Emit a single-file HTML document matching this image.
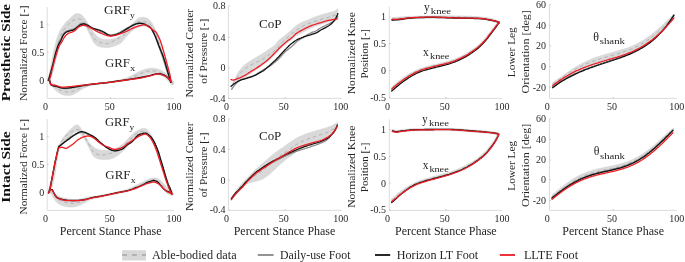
<!DOCTYPE html><html><head><meta charset="utf-8"><style>html,body{margin:0;padding:0;background:#fff;width:685px;height:262px;overflow:hidden}</style></head><body><svg width="685" height="262" viewBox="0 0 685 262" style="position:absolute;left:0;top:0;will-change:transform;font-family:'Liberation Serif',serif">
<rect width="685" height="262" fill="#fff"/>
<path d="M47.2,7.1 L47.2,98.4 L174,98.4" fill="none" stroke="#dcdcdc" stroke-width="1.0"/>
<path d="M47.2,24.2 L48.5,24.2" stroke="#b0b0b0" stroke-width="0.7"/>
<path d="M47.2,52.3 L48.5,52.3" stroke="#b0b0b0" stroke-width="0.7"/>
<path d="M47.2,80.4 L48.5,80.4" stroke="#b0b0b0" stroke-width="0.7"/>
<path d="M110.6,98.4 L110.6,97.10000000000001" stroke="#b0b0b0" stroke-width="0.7"/>
<path d="M228.4,6.0 L228.4,98.4 L341.5,98.4" fill="none" stroke="#dcdcdc" stroke-width="1.0"/>
<path d="M228.4,5.8 L229.70000000000002,5.8" stroke="#b0b0b0" stroke-width="0.7"/>
<path d="M228.4,37.2 L229.70000000000002,37.2" stroke="#b0b0b0" stroke-width="0.7"/>
<path d="M228.4,68.0 L229.70000000000002,68.0" stroke="#b0b0b0" stroke-width="0.7"/>
<path d="M228.4,98.5 L229.70000000000002,98.5" stroke="#b0b0b0" stroke-width="0.7"/>
<path d="M285,98.4 L285,97.10000000000001" stroke="#b0b0b0" stroke-width="0.7"/>
<path d="M389.3,6.7 L389.3,98.4 L502.4,98.4" fill="none" stroke="#dcdcdc" stroke-width="1.0"/>
<path d="M389.3,16.9 L390.6,16.9" stroke="#b0b0b0" stroke-width="0.7"/>
<path d="M389.3,43.7 L390.6,43.7" stroke="#b0b0b0" stroke-width="0.7"/>
<path d="M389.3,70.5 L390.6,70.5" stroke="#b0b0b0" stroke-width="0.7"/>
<path d="M389.3,97.2 L390.6,97.2" stroke="#b0b0b0" stroke-width="0.7"/>
<path d="M445.9,98.4 L445.9,97.10000000000001" stroke="#b0b0b0" stroke-width="0.7"/>
<path d="M549.5,4.8 L549.5,98.4 L676.8,98.4" fill="none" stroke="#dcdcdc" stroke-width="1.0"/>
<path d="M549.5,4.5 L550.8,4.5" stroke="#b0b0b0" stroke-width="0.7"/>
<path d="M549.5,25.3 L550.8,25.3" stroke="#b0b0b0" stroke-width="0.7"/>
<path d="M549.5,45.9 L550.8,45.9" stroke="#b0b0b0" stroke-width="0.7"/>
<path d="M549.5,66.6 L550.8,66.6" stroke="#b0b0b0" stroke-width="0.7"/>
<path d="M549.5,87.2 L550.8,87.2" stroke="#b0b0b0" stroke-width="0.7"/>
<path d="M613.2,98.4 L613.2,97.10000000000001" stroke="#b0b0b0" stroke-width="0.7"/>
<path d="M47.2,119.1 L47.2,210.4 L174,210.4" fill="none" stroke="#dcdcdc" stroke-width="1.0"/>
<path d="M47.2,136.4 L48.5,136.4" stroke="#b0b0b0" stroke-width="0.7"/>
<path d="M47.2,164.6 L48.5,164.6" stroke="#b0b0b0" stroke-width="0.7"/>
<path d="M47.2,192.6 L48.5,192.6" stroke="#b0b0b0" stroke-width="0.7"/>
<path d="M110.6,210.4 L110.6,209.1" stroke="#b0b0b0" stroke-width="0.7"/>
<path d="M228.4,119.3 L228.4,210.4 L341.5,210.4" fill="none" stroke="#dcdcdc" stroke-width="1.0"/>
<path d="M228.4,118.8 L229.70000000000002,118.8" stroke="#b0b0b0" stroke-width="0.7"/>
<path d="M228.4,149.3 L229.70000000000002,149.3" stroke="#b0b0b0" stroke-width="0.7"/>
<path d="M228.4,180.3 L229.70000000000002,180.3" stroke="#b0b0b0" stroke-width="0.7"/>
<path d="M228.4,209.9 L229.70000000000002,209.9" stroke="#b0b0b0" stroke-width="0.7"/>
<path d="M285,210.4 L285,209.1" stroke="#b0b0b0" stroke-width="0.7"/>
<path d="M389.3,119.3 L389.3,210.4 L502.4,210.4" fill="none" stroke="#dcdcdc" stroke-width="1.0"/>
<path d="M389.3,129.6 L390.6,129.6" stroke="#b0b0b0" stroke-width="0.7"/>
<path d="M389.3,156.4 L390.6,156.4" stroke="#b0b0b0" stroke-width="0.7"/>
<path d="M389.3,183.1 L390.6,183.1" stroke="#b0b0b0" stroke-width="0.7"/>
<path d="M389.3,209.9 L390.6,209.9" stroke="#b0b0b0" stroke-width="0.7"/>
<path d="M445.9,210.4 L445.9,209.1" stroke="#b0b0b0" stroke-width="0.7"/>
<path d="M549.5,119.3 L549.5,210.4 L676.8,210.4" fill="none" stroke="#dcdcdc" stroke-width="1.0"/>
<path d="M549.5,118.9 L550.8,118.9" stroke="#b0b0b0" stroke-width="0.7"/>
<path d="M549.5,139.5 L550.8,139.5" stroke="#b0b0b0" stroke-width="0.7"/>
<path d="M549.5,160.0 L550.8,160.0" stroke="#b0b0b0" stroke-width="0.7"/>
<path d="M549.5,179.9 L550.8,179.9" stroke="#b0b0b0" stroke-width="0.7"/>
<path d="M549.5,200.5 L550.8,200.5" stroke="#b0b0b0" stroke-width="0.7"/>
<path d="M613.2,210.4 L613.2,209.1" stroke="#b0b0b0" stroke-width="0.7"/>
<path d="M49.4,80.6 L49.6,80.8 L49.8,81.0 L50.1,81.2 L50.4,81.5 L50.8,81.7 L51.2,82.0 L51.6,82.3 L52.0,82.6 L52.4,82.9 L52.8,83.1 L53.2,83.4 L53.7,83.7 L54.1,84.0 L54.6,84.2 L55.1,84.5 L55.5,84.8 L56.0,85.1 L56.5,85.3 L56.9,85.5 L57.3,85.7 L57.7,85.9 L58.2,86.1 L58.6,86.3 L59.0,86.5 L59.4,86.6 L59.8,86.8 L60.2,86.9 L60.6,87.1 L61.0,87.2 L61.3,87.3 L61.7,87.4 L62.1,87.5 L62.4,87.6 L62.8,87.7 L63.2,87.8 L63.5,87.9 L63.8,87.9 L64.2,88.0 L64.5,88.1 L64.8,88.1 L65.2,88.2 L65.5,88.2 L65.8,88.2 L66.1,88.3 L66.4,88.3 L66.8,88.3 L67.1,88.4 L67.4,88.4 L67.7,88.4 L68.0,88.4 L68.3,88.4 L68.6,88.4 L68.9,88.4 L69.2,88.4 L69.6,88.4 L69.9,88.4 L70.2,88.4 L70.5,88.4 L70.9,88.3 L71.2,88.3 L71.5,88.3 L71.8,88.2 L72.2,88.2 L72.5,88.1 L72.9,88.1 L73.3,88.0 L73.7,87.9 L74.1,87.8 L74.6,87.7 L75.0,87.6 L75.4,87.5 L75.8,87.4 L76.2,87.3 L76.6,87.3 L77.0,87.2 L77.5,87.1 L77.9,87.0 L78.4,86.8 L78.9,86.7 L79.3,86.6 L79.8,86.5 L80.3,86.4 L80.9,86.3 L81.4,86.2 L81.9,86.0 L82.5,85.9 L83.0,85.8 L83.6,85.7 L84.1,85.6 L84.7,85.5 L85.2,85.4 L85.6,85.3 L86.1,85.2 L86.5,85.1 L87.0,85.0 L87.4,84.9 L88.0,84.8 L88.5,84.7 L89.1,84.6 L89.9,84.5 L90.7,84.4 L91.6,84.2 L92.5,84.1 L93.5,83.9 L94.6,83.7 L95.7,83.6 L96.7,83.4 L97.8,83.2 L98.9,83.1 L99.9,82.9 L100.9,82.8 L101.9,82.6 L102.9,82.5 L103.9,82.4 L104.9,82.3 L105.9,82.2 L106.9,82.1 L107.9,82.0 L108.9,81.8 L109.9,81.7 L110.9,81.6 L111.9,81.4 L113.0,81.2 L114.0,81.1 L115.0,80.9 L116.0,80.7 L117.0,80.5 L118.0,80.3 L118.9,80.1 L119.8,79.9 L120.7,79.7 L121.5,79.5 L122.4,79.3 L123.1,79.0 L123.9,78.8 L124.7,78.5 L125.4,78.3 L126.1,78.0 L126.9,77.7 L127.6,77.5 L128.3,77.2 L128.9,76.9 L129.6,76.6 L130.3,76.2 L130.9,75.9 L131.6,75.6 L132.2,75.2 L132.9,74.9 L133.5,74.5 L134.2,74.2 L134.9,73.8 L135.6,73.5 L136.2,73.1 L136.9,72.7 L137.6,72.4 L138.3,72.0 L139.0,71.6 L139.7,71.3 L140.4,71.0 L141.1,70.7 L141.8,70.4 L142.4,70.1 L143.1,69.9 L143.7,69.7 L144.4,69.5 L145.0,69.3 L145.6,69.1 L146.3,68.9 L146.9,68.8 L147.5,68.7 L148.1,68.5 L148.7,68.4 L149.2,68.3 L149.8,68.3 L150.3,68.2 L150.9,68.2 L151.5,68.2 L152.0,68.2 L152.6,68.2 L153.2,68.2 L153.8,68.3 L154.4,68.3 L154.9,68.4 L155.5,68.5 L156.1,68.7 L156.7,68.8 L157.2,68.9 L157.7,69.1 L158.2,69.2 L158.7,69.4 L159.2,69.6 L159.7,69.8 L160.1,69.9 L160.6,70.1 L161.0,70.3 L161.4,70.6 L161.9,70.8 L162.3,71.0 L162.7,71.2 L163.1,71.5 L163.5,71.7 L163.9,72.0 L164.3,72.3 L164.8,72.6 L165.2,72.8 L165.6,73.2 L166.0,73.5 L166.4,73.8 L166.8,74.1 L167.2,74.4 L167.6,74.8 L168.0,75.1 L168.4,75.4 L168.7,75.8 L169.0,76.1 L169.3,76.4 L169.6,76.7 L169.9,77.1 L170.2,77.4 L170.5,77.7 L170.8,78.0 L171.1,78.3 L171.3,78.6 L171.6,78.9 L171.9,79.2 L172.2,79.6 L172.4,79.9 L172.7,80.2 L172.9,80.5 L173.1,80.8 L173.3,81.1 L173.5,81.5 L173.7,81.8 L173.8,82.2 L173.9,82.5 L174.0,82.8 L174.1,83.1 L174.2,83.3 L174.2,83.5 L174.3,83.6 L171.7,85.2 L171.6,85.0 L171.4,84.9 L171.3,84.7 L171.1,84.5 L170.9,84.3 L170.7,84.1 L170.5,83.8 L170.3,83.6 L170.1,83.4 L169.9,83.2 L169.7,82.9 L169.5,82.7 L169.2,82.4 L169.0,82.1 L168.8,81.8 L168.5,81.5 L168.3,81.2 L168.0,80.9 L167.8,80.6 L167.5,80.3 L167.2,80.0 L167.0,79.7 L166.7,79.4 L166.4,79.1 L166.2,78.8 L165.9,78.6 L165.6,78.3 L165.3,78.0 L165.1,77.8 L164.8,77.6 L164.4,77.3 L164.1,77.1 L163.7,76.9 L163.3,76.7 L162.9,76.5 L162.5,76.3 L162.1,76.1 L161.7,75.9 L161.3,75.7 L160.9,75.5 L160.5,75.4 L160.2,75.2 L159.8,75.0 L159.5,74.9 L159.1,74.8 L158.8,74.6 L158.4,74.5 L158.0,74.4 L157.7,74.3 L157.3,74.2 L156.9,74.1 L156.4,74.0 L156.0,73.9 L155.5,73.8 L155.0,73.7 L154.6,73.6 L154.1,73.5 L153.7,73.5 L153.3,73.4 L152.8,73.4 L152.4,73.4 L152.0,73.4 L151.6,73.4 L151.2,73.4 L150.8,73.4 L150.4,73.5 L149.9,73.5 L149.5,73.6 L149.0,73.7 L148.5,73.7 L148.0,73.9 L147.5,74.0 L147.0,74.1 L146.4,74.2 L145.9,74.4 L145.3,74.6 L144.7,74.8 L144.1,74.9 L143.5,75.1 L142.9,75.3 L142.2,75.5 L141.6,75.8 L140.9,76.0 L140.2,76.3 L139.5,76.5 L138.8,76.8 L138.0,77.1 L137.3,77.3 L136.5,77.6 L135.8,77.8 L135.1,78.1 L134.4,78.3 L133.7,78.6 L132.9,78.8 L132.2,79.0 L131.5,79.3 L130.7,79.5 L130.0,79.7 L129.2,79.9 L128.4,80.1 L127.6,80.3 L126.9,80.5 L126.1,80.7 L125.3,80.8 L124.5,81.0 L123.6,81.1 L122.8,81.3 L122.0,81.4 L121.1,81.5 L120.2,81.7 L119.2,81.8 L118.3,81.9 L117.3,82.1 L116.3,82.2 L115.2,82.3 L114.2,82.4 L113.2,82.5 L112.1,82.7 L111.1,82.8 L110.1,82.9 L109.1,83.0 L108.1,83.1 L107.1,83.2 L106.1,83.3 L105.1,83.5 L104.1,83.6 L103.1,83.7 L102.1,83.8 L101.1,84.0 L100.1,84.1 L99.1,84.2 L98.0,84.4 L96.9,84.6 L95.9,84.8 L94.8,85.0 L93.7,85.1 L92.7,85.3 L91.8,85.5 L90.9,85.7 L90.1,85.9 L89.4,86.1 L88.8,86.2 L88.3,86.4 L87.8,86.5 L87.4,86.7 L87.0,86.8 L86.6,87.0 L86.2,87.2 L85.8,87.4 L85.3,87.5 L84.9,87.8 L84.4,88.0 L83.9,88.2 L83.4,88.5 L82.9,88.7 L82.5,89.0 L82.0,89.2 L81.5,89.5 L81.1,89.7 L80.7,90.0 L80.3,90.2 L79.9,90.5 L79.5,90.7 L79.2,90.9 L78.8,91.2 L78.5,91.4 L78.1,91.7 L77.7,91.9 L77.4,92.2 L77.0,92.4 L76.6,92.6 L76.3,92.9 L75.9,93.1 L75.5,93.4 L75.1,93.6 L74.7,93.8 L74.2,94.1 L73.8,94.3 L73.3,94.5 L72.8,94.7 L72.3,94.9 L71.9,95.0 L71.4,95.1 L70.9,95.2 L70.4,95.3 L70.0,95.4 L69.5,95.5 L69.0,95.5 L68.5,95.6 L68.0,95.6 L67.5,95.6 L67.0,95.6 L66.5,95.6 L66.0,95.5 L65.6,95.4 L65.1,95.4 L64.6,95.3 L64.1,95.2 L63.6,95.0 L63.2,94.9 L62.7,94.7 L62.2,94.6 L61.8,94.4 L61.3,94.2 L60.8,94.0 L60.4,93.7 L60.0,93.5 L59.5,93.2 L59.1,93.0 L58.7,92.7 L58.2,92.4 L57.8,92.1 L57.4,91.8 L57.0,91.4 L56.6,91.1 L56.2,90.8 L55.8,90.4 L55.4,90.0 L55.1,89.6 L54.7,89.3 L54.3,88.8 L53.9,88.4 L53.5,88.0 L53.2,87.5 L52.8,87.0 L52.5,86.6 L52.1,86.1 L51.8,85.7 L51.5,85.3 L51.2,84.9 L50.9,84.5 L50.6,84.1 L50.3,83.6 L50.0,83.2 L49.7,82.8 L49.4,82.5 L49.2,82.1 L49.0,81.8 L48.8,81.6 L48.6,81.4 Z" fill="#d9d9d9" stroke="#d0d0d0" stroke-width="0.5"/>
<path d="M47.5,80.0 L47.6,79.7 L47.7,79.3 L47.9,78.8 L48.1,78.3 L48.3,77.7 L48.5,76.9 L48.8,76.0 L49.0,75.0 L49.3,73.8 L49.6,72.3 L49.9,70.7 L50.2,68.9 L50.5,67.2 L50.9,65.4 L51.2,63.6 L51.5,62.0 L51.8,60.5 L52.1,58.9 L52.4,57.4 L52.7,55.9 L53.0,54.4 L53.3,53.0 L53.7,51.5 L54.0,50.0 L54.3,48.5 L54.7,47.0 L55.0,45.4 L55.4,43.9 L55.8,42.4 L56.1,41.0 L56.5,39.6 L56.9,38.3 L57.3,37.1 L57.7,36.0 L58.1,35.0 L58.5,34.0 L58.9,33.1 L59.4,32.1 L59.8,31.2 L60.3,30.3 L60.8,29.4 L61.4,28.4 L62.0,27.5 L62.6,26.6 L63.2,25.7 L63.8,24.9 L64.4,24.1 L64.9,23.4 L65.4,22.8 L65.8,22.3 L66.2,21.9 L66.7,21.5 L67.1,21.1 L67.5,20.8 L67.9,20.4 L68.3,20.0 L68.8,19.6 L69.2,19.1 L69.7,18.7 L70.2,18.2 L70.7,17.7 L71.1,17.3 L71.6,16.9 L72.0,16.5 L72.4,16.1 L72.8,15.8 L73.2,15.4 L73.5,15.1 L73.9,14.7 L74.3,14.5 L74.6,14.2 L75.0,14.0 L75.4,13.8 L75.8,13.7 L76.1,13.6 L76.5,13.5 L76.9,13.5 L77.2,13.5 L77.6,13.5 L78.0,13.5 L78.4,13.5 L78.8,13.6 L79.1,13.7 L79.5,13.8 L79.9,13.9 L80.2,14.1 L80.6,14.3 L81.0,14.5 L81.4,14.8 L81.8,15.1 L82.1,15.4 L82.5,15.8 L82.9,16.2 L83.2,16.6 L83.6,17.0 L84.0,17.5 L84.4,18.0 L84.8,18.5 L85.1,19.1 L85.5,19.6 L85.9,20.2 L86.2,20.8 L86.6,21.4 L87.0,22.0 L87.4,22.6 L87.7,23.2 L88.1,23.8 L88.5,24.4 L88.8,25.1 L89.2,25.7 L89.6,26.4 L90.0,27.0 L90.4,27.7 L90.9,28.3 L91.3,29.0 L91.8,29.7 L92.2,30.3 L92.7,31.0 L93.2,31.7 L93.7,32.3 L94.2,32.9 L94.7,33.6 L95.2,34.2 L95.7,34.8 L96.3,35.4 L96.8,36.0 L97.4,36.5 L98.0,37.0 L98.6,37.4 L99.3,37.8 L100.0,38.2 L100.8,38.5 L101.5,38.8 L102.2,39.0 L103.0,39.2 L103.7,39.4 L104.4,39.5 L105.1,39.6 L105.8,39.6 L106.6,39.6 L107.3,39.6 L108.0,39.5 L108.7,39.5 L109.4,39.4 L110.1,39.3 L110.8,39.2 L111.5,39.1 L112.2,39.0 L113.0,38.9 L113.7,38.7 L114.4,38.5 L115.1,38.3 L115.8,38.0 L116.5,37.8 L117.3,37.5 L118.0,37.1 L118.7,36.8 L119.4,36.4 L120.2,36.0 L120.9,35.5 L121.6,35.0 L122.4,34.5 L123.1,33.9 L123.8,33.3 L124.6,32.7 L125.3,32.0 L126.1,31.3 L126.9,30.5 L127.7,29.6 L128.6,28.6 L129.5,27.5 L130.4,26.4 L131.3,25.3 L132.2,24.3 L133.0,23.3 L133.7,22.5 L134.4,21.8 L135.0,21.2 L135.5,20.6 L136.1,20.1 L136.6,19.6 L137.1,19.2 L137.5,18.8 L138.0,18.5 L138.5,18.2 L138.9,18.0 L139.2,17.8 L139.6,17.6 L140.0,17.5 L140.4,17.4 L140.8,17.3 L141.3,17.3 L141.8,17.3 L142.4,17.2 L143.0,17.3 L143.6,17.3 L144.2,17.4 L144.8,17.5 L145.4,17.6 L146.0,17.8 L146.6,18.0 L147.1,18.3 L147.7,18.6 L148.3,19.0 L148.8,19.4 L149.3,19.8 L149.8,20.2 L150.3,20.7 L150.7,21.2 L151.1,21.7 L151.5,22.3 L151.9,22.8 L152.3,23.4 L152.6,24.0 L152.9,24.7 L153.3,25.3 L153.7,26.0 L154.0,26.6 L154.3,27.3 L154.7,28.0 L155.0,28.7 L155.3,29.5 L155.7,30.2 L156.0,31.0 L156.3,31.8 L156.6,32.6 L157.0,33.5 L157.3,34.4 L157.6,35.2 L157.9,36.1 L158.2,37.1 L158.5,38.0 L158.8,38.9 L159.1,39.9 L159.4,40.9 L159.8,41.9 L160.1,42.9 L160.4,43.9 L160.7,44.9 L161.0,46.0 L161.3,47.1 L161.6,48.2 L161.9,49.3 L162.2,50.5 L162.6,51.7 L162.9,52.8 L163.2,53.9 L163.5,55.0 L163.8,56.0 L164.1,57.1 L164.4,58.1 L164.8,59.1 L165.1,60.0 L165.4,61.0 L165.7,62.0 L166.0,63.0 L166.3,64.0 L166.6,65.0 L166.9,66.0 L167.2,67.0 L167.6,68.0 L167.9,69.0 L168.2,70.0 L168.5,71.0 L168.8,72.0 L169.1,73.1 L169.5,74.1 L169.8,75.2 L170.1,76.2 L170.4,77.2 L170.7,78.1 L171.0,79.0 L171.3,79.8 L171.6,80.6 L171.9,81.3 L172.2,82.0 L172.4,82.6 L172.7,83.2 L172.8,83.6 L173.0,84.0 L173.0,84.4 L172.9,84.2 L172.7,83.9 L172.4,83.5 L172.2,83.1 L171.9,82.7 L171.6,82.2 L171.3,81.6 L171.0,81.0 L170.7,80.3 L170.3,79.5 L169.9,78.7 L169.6,77.8 L169.2,76.9 L168.8,75.9 L168.4,74.9 L168.0,74.0 L167.6,73.1 L167.2,72.1 L166.9,71.1 L166.5,70.1 L166.1,69.1 L165.8,68.1 L165.4,67.1 L165.0,66.0 L164.6,64.9 L164.2,63.8 L163.9,62.7 L163.5,61.6 L163.1,60.5 L162.8,59.3 L162.4,58.2 L162.0,57.0 L161.6,55.8 L161.2,54.5 L160.9,53.3 L160.5,52.0 L160.1,50.7 L159.8,49.5 L159.4,48.2 L159.0,47.0 L158.6,45.8 L158.2,44.6 L157.9,43.4 L157.5,42.3 L157.1,41.1 L156.8,40.1 L156.4,39.0 L156.0,38.0 L155.6,37.1 L155.2,36.1 L154.9,35.3 L154.5,34.4 L154.1,33.6 L153.8,32.9 L153.4,32.2 L153.0,31.5 L152.6,30.9 L152.3,30.3 L151.9,29.7 L151.6,29.2 L151.2,28.7 L150.8,28.3 L150.4,27.9 L150.0,27.5 L149.6,27.2 L149.1,26.9 L148.6,26.7 L148.2,26.5 L147.6,26.3 L147.1,26.2 L146.6,26.1 L146.0,26.0 L145.4,26.0 L144.8,25.9 L144.1,26.0 L143.5,26.0 L142.8,26.1 L142.1,26.2 L141.4,26.4 L140.6,26.6 L139.8,26.8 L139.0,27.1 L138.1,27.4 L137.2,27.7 L136.3,28.0 L135.5,28.5 L134.6,28.9 L133.7,29.5 L132.8,30.1 L132.0,30.9 L131.1,31.7 L130.2,32.5 L129.4,33.4 L128.5,34.3 L127.7,35.1 L126.9,36.0 L126.1,36.9 L125.3,37.8 L124.6,38.7 L123.8,39.7 L123.1,40.6 L122.4,41.5 L121.6,42.2 L120.9,42.9 L120.2,43.5 L119.4,43.9 L118.7,44.3 L118.0,44.6 L117.3,44.9 L116.5,45.2 L115.8,45.4 L115.1,45.7 L114.4,46.0 L113.7,46.2 L113.0,46.5 L112.2,46.7 L111.5,46.9 L110.8,47.1 L110.1,47.3 L109.4,47.4 L108.7,47.5 L108.0,47.5 L107.2,47.6 L106.5,47.6 L105.8,47.6 L105.1,47.5 L104.4,47.5 L103.7,47.4 L103.0,47.3 L102.3,47.3 L101.6,47.2 L100.9,47.1 L100.3,47.0 L99.6,46.8 L98.9,46.6 L98.3,46.3 L97.7,46.0 L97.1,45.7 L96.5,45.3 L96.0,44.9 L95.4,44.4 L94.8,43.8 L94.3,43.2 L93.7,42.4 L93.1,41.5 L92.5,40.3 L91.9,39.1 L91.2,37.8 L90.6,36.5 L90.1,35.2 L89.5,34.0 L89.0,33.0 L88.6,32.1 L88.2,31.3 L87.8,30.5 L87.5,29.8 L87.1,29.1 L86.8,28.5 L86.4,28.0 L86.0,27.5 L85.5,27.1 L85.1,26.7 L84.6,26.4 L84.1,26.1 L83.5,25.9 L83.0,25.7 L82.5,25.6 L82.0,25.5 L81.5,25.5 L81.0,25.5 L80.5,25.6 L80.1,25.7 L79.6,25.9 L79.1,26.1 L78.6,26.3 L78.0,26.5 L77.4,26.7 L76.8,26.9 L76.2,27.2 L75.6,27.5 L74.9,27.7 L74.2,28.0 L73.6,28.3 L72.9,28.6 L72.2,28.9 L71.5,29.1 L70.7,29.4 L70.0,29.7 L69.2,30.0 L68.5,30.3 L67.8,30.6 L67.2,30.9 L66.7,31.2 L66.2,31.5 L65.7,31.7 L65.3,32.0 L64.9,32.3 L64.5,32.7 L64.1,33.2 L63.7,33.7 L63.3,34.3 L62.9,35.1 L62.6,35.9 L62.2,36.7 L61.9,37.6 L61.5,38.6 L61.2,39.6 L60.9,40.6 L60.6,41.7 L60.3,42.8 L60.0,43.9 L59.7,45.1 L59.5,46.3 L59.2,47.5 L58.9,48.8 L58.6,50.0 L58.3,51.2 L58.0,52.4 L57.7,53.6 L57.3,54.8 L57.0,56.1 L56.7,57.3 L56.3,58.7 L56.0,60.0 L55.6,61.4 L55.3,63.0 L54.9,64.6 L54.5,66.2 L54.1,67.8 L53.8,69.3 L53.4,70.7 L53.0,72.0 L52.6,73.2 L52.2,74.2 L51.9,75.3 L51.5,76.2 L51.1,77.0 L50.7,77.8 L50.4,78.4 L50.0,79.0 L49.6,79.4 L49.3,79.7 L48.9,79.9 L48.6,79.9 L48.2,80.0 L47.9,80.0 L47.7,80.0 L47.5,80.0 Z" fill="#d9d9d9" stroke="#d0d0d0" stroke-width="0.5"/>
<path d="M49.0,81.0 L49.2,81.2 L49.5,81.5 L49.9,81.9 L50.2,82.3 L50.7,82.7 L51.1,83.1 L51.6,83.6 L52.0,84.0 L52.5,84.4 L52.9,84.9 L53.4,85.3 L53.9,85.8 L54.5,86.2 L55.0,86.7 L55.5,87.1 L56.0,87.5 L56.5,87.9 L57.0,88.2 L57.5,88.6 L58.0,88.9 L58.5,89.2 L59.0,89.5 L59.5,89.7 L60.0,90.0 L60.5,90.2 L61.0,90.5 L61.5,90.7 L62.0,90.9 L62.5,91.1 L63.0,91.2 L63.5,91.4 L64.0,91.5 L64.5,91.6 L65.0,91.7 L65.5,91.8 L66.0,91.9 L66.5,91.9 L67.0,92.0 L67.5,92.0 L68.0,92.0 L68.5,92.0 L69.0,92.0 L69.5,91.9 L70.0,91.9 L70.5,91.8 L71.0,91.7 L71.5,91.6 L72.0,91.5 L72.5,91.4 L73.0,91.2 L73.5,91.0 L74.0,90.8 L74.5,90.6 L75.0,90.4 L75.5,90.2 L76.0,90.0 L76.5,89.8 L77.0,89.6 L77.5,89.4 L77.9,89.2 L78.4,89.0 L78.9,88.7 L79.5,88.5 L80.0,88.3 L80.6,88.1 L81.2,87.8 L81.8,87.6 L82.4,87.4 L83.1,87.1 L83.7,86.9 L84.4,86.7 L85.0,86.5 L85.6,86.3 L86.1,86.1 L86.7,86.0 L87.2,85.8 L87.8,85.7 L88.4,85.5 L89.1,85.4 L90.0,85.2 L91.0,85.0 L92.1,84.8 L93.4,84.6 L94.7,84.3 L96.0,84.1 L97.4,83.9 L98.7,83.7 L100.0,83.5 L101.2,83.3 L102.5,83.2 L103.8,83.0 L105.0,82.9 L106.2,82.8 L107.5,82.6 L108.8,82.5 L110.0,82.3 L111.3,82.1 L112.5,82.0 L113.8,81.8 L115.1,81.6 L116.4,81.4 L117.6,81.2 L118.8,81.0 L120.0,80.8 L121.1,80.6 L122.2,80.4 L123.2,80.1 L124.2,79.9 L125.2,79.6 L126.1,79.4 L127.1,79.1 L128.0,78.8 L128.9,78.5 L129.8,78.2 L130.7,77.8 L131.6,77.5 L132.4,77.1 L133.3,76.7 L134.1,76.4 L135.0,76.0 L135.9,75.6 L136.8,75.2 L137.7,74.8 L138.6,74.4 L139.4,74.0 L140.3,73.7 L141.2,73.3 L142.0,73.0 L142.8,72.7 L143.6,72.4 L144.4,72.2 L145.1,71.9 L145.9,71.7 L146.6,71.5 L147.3,71.3 L148.0,71.2 L148.7,71.1 L149.3,71.0 L149.9,70.9 L150.6,70.8 L151.2,70.8 L151.8,70.8 L152.4,70.8 L153.0,70.8 L153.6,70.9 L154.3,70.9 L154.9,71.0 L155.6,71.2 L156.2,71.3 L156.8,71.5 L157.4,71.6 L158.0,71.8 L158.5,72.0 L159.1,72.2 L159.6,72.4 L160.1,72.6 L160.5,72.8 L161.0,73.0 L161.5,73.2 L162.0,73.5 L162.5,73.8 L163.0,74.1 L163.5,74.4 L164.1,74.7 L164.6,75.0 L165.1,75.3 L165.5,75.7 L166.0,76.0 L166.4,76.4 L166.8,76.7 L167.2,77.1 L167.6,77.5 L168.0,77.9 L168.3,78.2 L168.7,78.6 L169.0,79.0 L169.3,79.4 L169.7,79.8 L170.0,80.2 L170.3,80.5 L170.7,80.9 L171.0,81.3 L171.2,81.7 L171.5,82.0 L171.7,82.3 L172.0,82.7 L172.2,83.0 L172.4,83.4 L172.6,83.7 L172.8,84.0 L172.9,84.2 L173.0,84.4" fill="none" stroke="#a8a8a8" stroke-width="0.9" stroke-dasharray="3.5,3"/>
<path d="M48.0,80.0 L48.3,79.0 L48.7,77.6 L49.3,76.0 L49.8,74.2 L50.4,72.4 L51.0,70.5 L51.5,68.7 L52.0,67.0 L52.4,65.4 L52.8,63.9 L53.2,62.4 L53.6,60.9 L53.9,59.4 L54.3,57.9 L54.6,56.4 L55.0,55.0 L55.4,53.6 L55.7,52.2 L56.1,50.8 L56.5,49.4 L56.8,48.0 L57.2,46.7 L57.6,45.3 L58.0,44.0 L58.4,42.7 L58.8,41.3 L59.2,39.9 L59.7,38.6 L60.1,37.3 L60.5,36.0 L61.0,34.8 L61.5,33.7 L62.0,32.7 L62.5,31.7 L63.1,30.8 L63.6,30.0 L64.2,29.2 L64.8,28.4 L65.4,27.6 L66.0,26.9 L66.6,26.2 L67.3,25.4 L67.9,24.7 L68.6,24.0 L69.3,23.4 L69.9,22.8 L70.6,22.2 L71.2,21.7 L71.8,21.3 L72.4,20.9 L72.9,20.5 L73.5,20.2 L74.0,19.9 L74.5,19.7 L75.0,19.5 L75.5,19.3 L76.0,19.2 L76.4,19.0 L76.9,19.0 L77.3,18.9 L77.7,18.9 L78.1,18.9 L78.6,18.9 L79.0,19.0 L79.4,19.1 L79.9,19.2 L80.4,19.3 L80.8,19.4 L81.3,19.6 L81.7,19.8 L82.2,20.1 L82.6,20.4 L83.0,20.8 L83.4,21.2 L83.9,21.6 L84.3,22.1 L84.7,22.7 L85.1,23.2 L85.5,23.9 L86.0,24.5 L86.5,25.2 L87.0,25.9 L87.5,26.7 L88.0,27.6 L88.5,28.4 L89.0,29.3 L89.5,30.2 L90.0,31.0 L90.5,31.9 L90.9,32.8 L91.4,33.7 L91.8,34.6 L92.3,35.5 L92.7,36.4 L93.2,37.2 L93.7,37.9 L94.2,38.5 L94.7,39.1 L95.2,39.6 L95.8,40.0 L96.3,40.4 L96.9,40.8 L97.4,41.2 L98.0,41.5 L98.6,41.8 L99.2,42.1 L99.8,42.3 L100.4,42.6 L101.0,42.8 L101.6,42.9 L102.3,43.1 L102.9,43.2 L103.5,43.3 L104.2,43.4 L104.8,43.4 L105.5,43.5 L106.2,43.5 L106.8,43.4 L107.4,43.4 L108.0,43.3 L108.5,43.2 L109.0,43.1 L109.5,42.9 L109.9,42.7 L110.4,42.5 L110.9,42.3 L111.4,42.0 L112.0,41.7 L112.7,41.4 L113.4,41.0 L114.1,40.6 L114.9,40.2 L115.6,39.8 L116.4,39.4 L117.2,38.9 L118.0,38.5 L118.8,38.1 L119.6,37.6 L120.4,37.2 L121.2,36.7 L122.0,36.3 L122.8,35.8 L123.5,35.3 L124.2,34.8 L124.8,34.3 L125.3,33.7 L125.7,33.1 L126.2,32.5 L126.6,31.9 L127.0,31.2 L127.5,30.6 L128.0,30.0 L128.6,29.4 L129.2,28.7 L129.8,28.1 L130.4,27.4 L131.1,26.7 L131.7,26.1 L132.4,25.5 L133.0,25.0 L133.6,24.5 L134.3,24.1 L134.9,23.6 L135.6,23.2 L136.2,22.9 L136.8,22.5 L137.4,22.2 L138.0,22.0 L138.5,21.8 L139.1,21.7 L139.6,21.6 L140.1,21.5 L140.5,21.5 L141.0,21.5 L141.5,21.5 L142.0,21.5 L142.5,21.5 L143.0,21.5 L143.5,21.5 L144.0,21.6 L144.5,21.7 L145.0,21.7 L145.5,21.9 L146.0,22.0 L146.5,22.2 L147.0,22.3 L147.5,22.6 L148.1,22.8 L148.6,23.0 L149.1,23.3 L149.5,23.6 L150.0,24.0 L150.4,24.4 L150.8,24.8 L151.2,25.2 L151.6,25.7 L151.9,26.2 L152.3,26.8 L152.6,27.4 L153.0,28.0 L153.4,28.7 L153.8,29.4 L154.1,30.2 L154.5,31.0 L154.9,31.8 L155.2,32.7 L155.6,33.6 L156.0,34.5 L156.4,35.5 L156.8,36.4 L157.1,37.5 L157.5,38.5 L157.9,39.6 L158.2,40.7 L158.6,41.9 L159.0,43.0 L159.4,44.2 L159.8,45.4 L160.1,46.6 L160.5,47.9 L160.9,49.2 L161.2,50.5 L161.6,51.7 L162.0,53.0 L162.4,54.2 L162.8,55.5 L163.1,56.8 L163.5,58.0 L163.9,59.2 L164.2,60.5 L164.6,61.8 L165.0,63.0 L165.4,64.3 L165.8,65.6 L166.1,66.9 L166.5,68.2 L166.9,69.4 L167.2,70.7 L167.6,71.9 L168.0,73.0 L168.4,74.1 L168.8,75.2 L169.3,76.3 L169.7,77.4 L170.1,78.3 L170.5,79.2 L170.8,79.9 L171.0,80.5" fill="none" stroke="#a8a8a8" stroke-width="0.9" stroke-dasharray="3.5,3"/>
<path d="M48.3,80.0 L48.6,79.0 L49.0,77.7 L49.4,76.1 L49.9,74.4 L50.5,72.5 L51.0,70.6 L51.5,68.8 L52.0,67.0 L52.5,65.3 L52.9,63.5 L53.4,61.6 L53.8,59.8 L54.2,57.9 L54.7,56.2 L55.1,54.5 L55.5,53.0 L55.9,51.6 L56.3,50.3 L56.6,49.1 L57.0,47.9 L57.3,46.8 L57.7,45.8 L58.0,44.9 L58.3,44.0 L58.6,43.2 L58.9,42.6 L59.2,42.0 L59.5,41.5 L59.8,41.0 L60.0,40.5 L60.3,40.0 L60.6,39.5 L60.9,38.9 L61.1,38.3 L61.4,37.7 L61.7,37.1 L62.0,36.4 L62.2,35.9 L62.5,35.3 L62.8,34.8 L63.1,34.3 L63.4,33.9 L63.7,33.5 L64.0,33.1 L64.3,32.8 L64.7,32.5 L65.0,32.2 L65.3,31.9 L65.6,31.7 L65.9,31.5 L66.2,31.3 L66.6,31.2 L66.9,31.1 L67.2,30.9 L67.6,30.8 L67.9,30.7 L68.3,30.6 L68.6,30.5 L69.0,30.3 L69.4,30.2 L69.8,30.1 L70.2,30.0 L70.6,29.9 L71.0,29.8 L71.4,29.7 L71.7,29.6 L72.1,29.5 L72.5,29.5 L72.8,29.4 L73.2,29.3 L73.6,29.1 L74.0,28.9 L74.4,28.6 L74.9,28.3 L75.4,28.0 L75.8,27.6 L76.3,27.2 L76.8,26.8 L77.3,26.5 L77.7,26.1 L78.1,25.7 L78.5,25.4 L78.9,25.0 L79.3,24.6 L79.7,24.2 L80.1,23.9 L80.5,23.7 L81.0,23.5 L81.5,23.4 L82.1,23.3 L82.7,23.3 L83.3,23.4 L84.0,23.5 L84.6,23.6 L85.3,23.8 L86.0,24.0 L86.7,24.3 L87.4,24.7 L88.2,25.1 L88.9,25.6 L89.7,26.1 L90.5,26.6 L91.2,27.1 L92.0,27.5 L92.8,27.9 L93.5,28.3 L94.2,28.7 L95.0,29.1 L95.8,29.4 L96.5,29.8 L97.2,30.2 L98.0,30.5 L98.8,30.8 L99.5,31.2 L100.2,31.5 L101.0,31.8 L101.8,32.1 L102.5,32.4 L103.2,32.7 L104.0,33.0 L104.8,33.3 L105.5,33.6 L106.2,33.8 L107.0,34.1 L107.8,34.3 L108.5,34.5 L109.2,34.7 L110.0,34.8 L110.8,34.8 L111.5,34.8 L112.2,34.8 L113.0,34.7 L113.8,34.6 L114.5,34.4 L115.2,34.2 L116.0,34.0 L116.8,33.7 L117.5,33.4 L118.2,33.1 L119.0,32.7 L119.8,32.3 L120.5,31.8 L121.2,31.4 L122.0,31.0 L122.7,30.6 L123.5,30.2 L124.2,29.7 L124.9,29.3 L125.7,28.8 L126.4,28.4 L127.2,27.9 L128.0,27.5 L128.8,27.0 L129.7,26.6 L130.6,26.1 L131.6,25.6 L132.5,25.1 L133.4,24.7 L134.2,24.3 L135.0,24.0 L135.7,23.7 L136.4,23.5 L137.0,23.3 L137.6,23.2 L138.1,23.1 L138.7,23.0 L139.3,23.0 L140.0,23.0 L140.7,23.1 L141.5,23.2 L142.2,23.3 L143.0,23.5 L143.8,23.7 L144.6,24.0 L145.3,24.2 L146.0,24.5 L146.6,24.8 L147.2,25.1 L147.8,25.3 L148.4,25.7 L148.9,26.0 L149.5,26.4 L150.0,26.9 L150.5,27.5 L151.0,28.2 L151.5,28.9 L152.0,29.8 L152.5,30.7 L152.9,31.6 L153.4,32.6 L153.9,33.5 L154.3,34.5 L154.7,35.5 L155.1,36.5 L155.6,37.6 L156.0,38.7 L156.3,39.8 L156.7,40.9 L157.1,42.0 L157.5,43.0 L157.9,44.0 L158.3,45.1 L158.7,46.1 L159.0,47.1 L159.4,48.1 L159.8,49.1 L160.2,50.1 L160.5,51.0 L160.8,51.9 L161.2,52.8 L161.5,53.7 L161.8,54.5 L162.1,55.3 L162.4,56.2 L162.7,57.1 L163.0,58.0 L163.3,59.0 L163.6,59.9 L163.9,60.9 L164.2,61.9 L164.6,63.0 L164.9,64.0 L165.2,65.0 L165.5,66.0 L165.8,67.0 L166.1,68.0 L166.4,69.0 L166.7,70.0 L167.0,71.0 L167.4,72.0 L167.7,73.0 L168.0,74.0 L168.3,75.1 L168.7,76.2 L169.1,77.5 L169.5,78.7 L169.9,79.8 L170.2,80.8 L170.5,81.7 L170.7,82.3" fill="none" stroke="#8a8a8a" stroke-width="1.3" stroke-linejoin="round" stroke-linecap="round"/>
<path d="M49.5,79.5 L49.6,79.9 L49.7,80.4 L49.8,80.9 L49.9,81.6 L50.1,82.3 L50.3,82.9 L50.6,83.5 L51.0,84.0 L51.4,84.4 L51.9,84.8 L52.5,85.1 L53.1,85.4 L53.8,85.7 L54.5,86.0 L55.2,86.2 L56.0,86.5 L56.8,86.8 L57.7,87.1 L58.7,87.4 L59.7,87.7 L60.7,88.0 L61.8,88.2 L62.9,88.4 L64.0,88.5 L65.1,88.5 L66.2,88.5 L67.3,88.4 L68.5,88.3 L69.7,88.1 L71.0,88.0 L72.4,87.7 L74.0,87.5 L75.7,87.2 L77.5,86.9 L79.4,86.5 L81.4,86.1 L83.4,85.7 L85.6,85.3 L87.8,85.0 L90.0,84.6 L92.3,84.3 L94.8,84.0 L97.3,83.7 L99.9,83.4 L102.5,83.1 L105.0,82.8 L107.6,82.5 L110.0,82.2 L112.4,81.9 L114.8,81.5 L117.2,81.2 L119.5,80.8 L121.8,80.5 L124.0,80.1 L126.1,79.8 L128.0,79.5 L129.8,79.2 L131.5,78.9 L133.0,78.6 L134.5,78.4 L135.9,78.1 L137.3,77.8 L138.6,77.6 L140.0,77.3 L141.4,77.0 L142.7,76.8 L144.0,76.5 L145.2,76.3 L146.5,76.0 L147.7,75.8 L148.9,75.5 L150.0,75.3 L151.1,75.1 L152.2,74.8 L153.3,74.5 L154.3,74.3 L155.3,74.0 L156.3,73.8 L157.2,73.7 L158.0,73.6 L158.8,73.6 L159.5,73.6 L160.1,73.6 L160.8,73.7 L161.3,73.8 L161.9,73.9 L162.4,74.1 L163.0,74.3 L163.5,74.5 L164.0,74.8 L164.5,75.0 L165.0,75.4 L165.5,75.7 L166.0,76.1 L166.5,76.5 L167.0,77.0 L167.6,77.6 L168.3,78.3 L169.0,79.1 L169.8,79.9 L170.4,80.7 L171.1,81.4 L171.6,82.1 L172.0,82.5" fill="none" stroke="#8a8a8a" stroke-width="1.3" stroke-linejoin="round" stroke-linecap="round"/>
<path d="M48.3,80.5 L48.4,80.4 L48.4,80.3 L48.5,80.1 L48.5,80.0 L48.7,79.7 L48.8,79.3 L49.0,78.8 L49.2,78.0 L49.5,77.0 L49.8,75.8 L50.2,74.4 L50.7,72.9 L51.1,71.3 L51.5,69.7 L52.0,68.1 L52.4,66.5 L52.8,64.9 L53.2,63.3 L53.6,61.6 L54.0,59.9 L54.4,58.2 L54.8,56.6 L55.2,55.0 L55.6,53.6 L56.0,52.3 L56.3,51.0 L56.7,49.9 L57.0,48.8 L57.4,47.7 L57.7,46.8 L58.1,45.8 L58.4,45.0 L58.7,44.3 L59.1,43.6 L59.4,43.1 L59.7,42.6 L60.0,42.1 L60.3,41.6 L60.6,41.1 L60.9,40.6 L61.2,40.0 L61.4,39.4 L61.7,38.8 L61.9,38.1 L62.2,37.5 L62.5,36.9 L62.7,36.3 L63.0,35.8 L63.3,35.3 L63.6,34.9 L63.9,34.4 L64.2,34.0 L64.6,33.6 L64.9,33.3 L65.2,33.0 L65.5,32.7 L65.8,32.5 L66.1,32.3 L66.4,32.1 L66.7,32.0 L67.0,31.8 L67.3,31.7 L67.6,31.6 L67.9,31.5 L68.3,31.4 L68.6,31.3 L69.0,31.1 L69.4,31.0 L69.8,30.9 L70.2,30.8 L70.6,30.7 L71.0,30.6 L71.4,30.5 L71.7,30.4 L72.1,30.3 L72.5,30.3 L72.8,30.2 L73.2,30.1 L73.6,29.9 L74.0,29.7 L74.4,29.4 L74.9,29.1 L75.4,28.8 L75.9,28.4 L76.3,28.0 L76.8,27.6 L77.3,27.2 L77.7,26.9 L78.1,26.6 L78.4,26.3 L78.8,26.0 L79.1,25.7 L79.4,25.5 L79.8,25.2 L80.1,25.0 L80.5,24.8 L80.9,24.6 L81.3,24.5 L81.8,24.3 L82.2,24.2 L82.7,24.1 L83.1,24.0 L83.6,24.0 L84.0,24.0 L84.4,24.0 L84.7,24.1 L85.1,24.2 L85.4,24.3 L85.7,24.4 L86.1,24.6 L86.5,24.8 L87.0,25.0 L87.5,25.3 L88.1,25.6 L88.8,26.0 L89.4,26.5 L90.1,26.9 L90.8,27.3 L91.5,27.7 L92.2,28.0 L92.9,28.3 L93.6,28.5 L94.3,28.7 L95.1,28.9 L95.8,29.1 L96.5,29.3 L97.3,29.5 L98.0,29.7 L98.7,30.0 L99.4,30.2 L100.1,30.5 L100.9,30.7 L101.6,31.0 L102.3,31.3 L103.0,31.7 L103.7,32.0 L104.4,32.4 L105.1,32.9 L105.8,33.4 L106.6,33.9 L107.3,34.4 L108.0,34.8 L108.7,35.2 L109.4,35.4 L110.1,35.5 L110.8,35.6 L111.5,35.6 L112.2,35.5 L113.0,35.4 L113.7,35.2 L114.4,35.1 L115.1,34.9 L115.8,34.7 L116.5,34.5 L117.3,34.2 L118.0,34.0 L118.7,33.6 L119.4,33.3 L120.2,33.0 L120.9,32.6 L121.6,32.2 L122.4,31.8 L123.1,31.3 L123.8,30.9 L124.6,30.4 L125.3,29.9 L126.1,29.4 L126.9,28.9 L127.7,28.4 L128.6,27.9 L129.5,27.3 L130.4,26.8 L131.3,26.2 L132.1,25.7 L132.9,25.3 L133.7,24.9 L134.4,24.6 L135.0,24.3 L135.6,24.1 L136.1,23.9 L136.7,23.8 L137.2,23.7 L137.7,23.6 L138.3,23.5 L138.9,23.4 L139.5,23.4 L140.0,23.4 L140.6,23.4 L141.2,23.4 L141.8,23.5 L142.3,23.6 L142.9,23.7 L143.5,23.9 L144.1,24.1 L144.7,24.4 L145.3,24.8 L145.9,25.1 L146.5,25.4 L147.0,25.7 L147.5,26.0 L147.9,26.2 L148.3,26.4 L148.7,26.5 L149.0,26.7 L149.3,26.8 L149.6,27.0 L150.0,27.3 L150.3,27.6 L150.7,28.0 L151.0,28.5 L151.4,28.9 L151.8,29.5 L152.1,30.1 L152.5,30.7 L152.9,31.4 L153.3,32.1 L153.7,32.9 L154.1,33.7 L154.5,34.6 L154.9,35.6 L155.4,36.5 L155.8,37.5 L156.2,38.5 L156.6,39.5 L157.0,40.5 L157.4,41.6 L157.8,42.7 L158.2,43.8 L158.6,44.9 L159.0,46.0 L159.4,47.0 L159.8,48.0 L160.2,49.0 L160.6,49.9 L161.0,50.8 L161.3,51.7 L161.7,52.6 L162.1,53.4 L162.4,54.2 L162.7,55.0 L163.0,55.8 L163.2,56.5 L163.5,57.2 L163.7,57.9 L163.9,58.5 L164.1,59.2 L164.3,59.8 L164.5,60.5 L164.7,61.1 L164.9,61.7 L165.0,62.3 L165.2,62.9 L165.4,63.5 L165.5,64.1 L165.8,64.9 L166.0,65.7 L166.3,66.7 L166.6,67.8 L167.0,69.0 L167.3,70.2 L167.7,71.5 L168.0,72.7 L168.4,73.9 L168.7,75.0 L169.0,76.1 L169.3,77.1 L169.6,78.2 L169.9,79.2 L170.1,80.2 L170.4,81.0 L170.6,81.8 L170.7,82.3" fill="none" stroke="#111" stroke-width="1.3" stroke-linejoin="round" stroke-linecap="round"/>
<path d="M49.5,79.5 L49.6,79.9 L49.7,80.5 L49.8,81.1 L50.0,81.9 L50.1,82.6 L50.3,83.3 L50.5,83.9 L50.7,84.4 L50.9,84.7 L51.2,85.0 L51.4,85.2 L51.7,85.4 L52.0,85.5 L52.3,85.6 L52.6,85.7 L53.0,85.8 L53.4,85.9 L53.8,86.0 L54.2,86.0 L54.7,86.1 L55.1,86.1 L55.6,86.1 L56.1,86.2 L56.5,86.3 L56.9,86.4 L57.4,86.6 L57.8,86.7 L58.2,86.9 L58.6,87.1 L59.1,87.2 L59.5,87.4 L60.0,87.5 L60.5,87.6 L61.0,87.7 L61.5,87.8 L62.0,87.9 L62.6,88.0 L63.1,88.1 L63.6,88.2 L64.1,88.2 L64.6,88.2 L65.0,88.2 L65.5,88.2 L66.0,88.2 L66.4,88.2 L66.9,88.1 L67.4,88.1 L68.0,88.0 L68.6,87.9 L69.3,87.9 L69.9,87.8 L70.6,87.7 L71.4,87.6 L72.1,87.4 L72.9,87.3 L73.6,87.2 L74.3,87.1 L75.1,86.9 L75.8,86.8 L76.5,86.7 L77.3,86.5 L78.1,86.3 L79.0,86.2 L80.0,86.0 L81.1,85.8 L82.2,85.6 L83.5,85.4 L84.8,85.2 L86.1,85.0 L87.4,84.8 L88.7,84.6 L90.0,84.4 L91.3,84.2 L92.5,84.1 L93.8,84.0 L95.1,83.9 L96.3,83.7 L97.6,83.6 L98.8,83.5 L100.0,83.4 L101.2,83.3 L102.3,83.2 L103.5,83.0 L104.6,82.9 L105.7,82.8 L106.9,82.7 L108.0,82.5 L109.1,82.4 L110.2,82.2 L111.3,82.1 L112.4,81.9 L113.5,81.7 L114.6,81.5 L115.7,81.4 L116.8,81.2 L118.0,81.0 L119.2,80.8 L120.4,80.7 L121.7,80.5 L122.9,80.3 L124.2,80.2 L125.5,80.0 L126.8,79.8 L128.2,79.6 L129.6,79.4 L131.1,79.2 L132.6,78.9 L134.2,78.7 L135.7,78.4 L137.2,78.2 L138.6,77.9 L140.0,77.7 L141.3,77.5 L142.5,77.2 L143.8,77.0 L144.9,76.7 L146.0,76.5 L147.1,76.3 L148.1,76.0 L149.1,75.8 L150.0,75.6 L150.8,75.3 L151.6,75.1 L152.3,74.9 L153.0,74.7 L153.7,74.5 L154.3,74.3 L155.0,74.2 L155.6,74.1 L156.3,74.0 L156.9,73.9 L157.5,73.9 L158.0,73.9 L158.6,73.9 L159.1,73.9 L159.6,73.9 L160.1,74.0 L160.6,74.0 L161.0,74.1 L161.4,74.3 L161.9,74.4 L162.3,74.5 L162.6,74.7 L163.0,74.8 L163.3,74.9 L163.6,75.0 L163.9,75.1 L164.2,75.2 L164.5,75.3 L164.7,75.5 L165.0,75.6 L165.3,75.8 L165.6,76.0 L165.9,76.2 L166.3,76.5 L166.6,76.7 L166.9,77.0 L167.3,77.3 L167.6,77.7 L168.0,78.0 L168.4,78.4 L168.8,78.9 L169.2,79.4 L169.7,79.9 L170.1,80.4 L170.5,80.8 L170.8,81.2 L171.0,81.5" fill="none" stroke="#111" stroke-width="1.3" stroke-linejoin="round" stroke-linecap="round"/>
<path d="M49.0,80.0 L49.1,79.8 L49.2,79.7 L49.3,79.6 L49.5,79.4 L49.6,79.0 L49.8,78.6 L50.0,78.0 L50.3,77.1 L50.6,76.0 L51.0,74.6 L51.4,73.0 L51.8,71.2 L52.2,69.4 L52.7,67.6 L53.1,65.9 L53.5,64.3 L53.9,62.8 L54.3,61.3 L54.7,59.8 L55.1,58.3 L55.6,56.9 L55.9,55.5 L56.3,54.2 L56.7,53.0 L57.0,51.9 L57.4,50.9 L57.7,49.9 L58.0,49.0 L58.3,48.2 L58.6,47.4 L58.9,46.7 L59.2,46.0 L59.5,45.4 L59.9,44.8 L60.2,44.3 L60.5,43.8 L60.9,43.4 L61.2,42.9 L61.5,42.5 L61.8,42.0 L62.1,41.5 L62.3,41.0 L62.5,40.5 L62.8,40.0 L63.0,39.6 L63.2,39.1 L63.4,38.6 L63.7,38.2 L64.0,37.8 L64.3,37.3 L64.6,36.9 L64.9,36.5 L65.2,36.1 L65.5,35.8 L65.8,35.4 L66.1,35.1 L66.4,34.8 L66.7,34.5 L67.0,34.3 L67.3,34.1 L67.6,33.9 L67.9,33.7 L68.2,33.5 L68.5,33.3 L68.8,33.1 L69.1,33.0 L69.4,32.9 L69.7,32.8 L70.1,32.7 L70.4,32.6 L70.7,32.5 L71.0,32.4 L71.3,32.3 L71.6,32.2 L71.9,32.1 L72.2,32.0 L72.5,31.9 L72.8,31.8 L73.1,31.7 L73.4,31.5 L73.7,31.3 L74.0,31.1 L74.3,30.9 L74.7,30.7 L75.0,30.5 L75.3,30.2 L75.6,30.0 L75.9,29.7 L76.2,29.4 L76.5,29.1 L76.7,28.8 L77.0,28.4 L77.3,28.1 L77.6,27.8 L77.9,27.5 L78.3,27.2 L78.8,26.9 L79.3,26.7 L79.8,26.4 L80.4,26.1 L81.0,25.9 L81.5,25.7 L82.1,25.5 L82.6,25.4 L83.1,25.3 L83.5,25.3 L83.9,25.2 L84.2,25.2 L84.6,25.3 L85.1,25.4 L85.5,25.5 L86.1,25.7 L86.7,25.9 L87.4,26.3 L88.2,26.6 L89.0,27.0 L89.8,27.4 L90.6,27.9 L91.4,28.3 L92.2,28.7 L92.9,29.1 L93.7,29.5 L94.4,30.0 L95.1,30.4 L95.8,30.8 L96.6,31.2 L97.3,31.6 L98.0,32.0 L98.7,32.3 L99.4,32.7 L100.1,33.0 L100.9,33.2 L101.6,33.5 L102.3,33.8 L103.0,34.0 L103.7,34.3 L104.4,34.6 L105.1,34.8 L105.8,35.1 L106.6,35.3 L107.3,35.6 L108.0,35.8 L108.7,35.9 L109.4,36.0 L110.1,36.0 L110.8,36.0 L111.5,36.0 L112.2,35.9 L113.0,35.8 L113.7,35.7 L114.4,35.6 L115.1,35.4 L115.8,35.2 L116.5,35.0 L117.3,34.8 L118.0,34.6 L118.7,34.3 L119.4,34.0 L120.2,33.8 L120.9,33.5 L121.6,33.2 L122.4,33.0 L123.1,32.7 L123.8,32.4 L124.6,32.2 L125.3,31.9 L126.1,31.5 L126.9,31.2 L127.7,30.8 L128.5,30.4 L129.4,30.0 L130.2,29.5 L131.1,29.0 L132.0,28.6 L132.8,28.2 L133.7,27.8 L134.6,27.4 L135.5,27.1 L136.4,26.8 L137.3,26.5 L138.2,26.2 L139.0,25.9 L139.8,25.7 L140.6,25.5 L141.3,25.3 L141.9,25.1 L142.5,25.0 L143.0,24.9 L143.6,24.8 L144.1,24.8 L144.6,24.8 L145.2,24.9 L145.8,25.1 L146.4,25.4 L147.1,25.8 L147.7,26.2 L148.3,26.6 L148.9,27.0 L149.5,27.4 L150.0,27.8 L150.5,28.1 L150.9,28.4 L151.2,28.6 L151.6,28.9 L151.9,29.2 L152.3,29.4 L152.6,29.7 L153.0,30.0 L153.4,30.3 L153.8,30.6 L154.2,30.8 L154.7,31.1 L155.1,31.4 L155.5,31.8 L156.0,32.3 L156.4,32.9 L156.9,33.6 L157.3,34.4 L157.8,35.3 L158.3,36.3 L158.8,37.3 L159.3,38.4 L159.8,39.4 L160.2,40.5 L160.6,41.6 L161.0,42.7 L161.4,43.9 L161.8,45.1 L162.1,46.3 L162.5,47.5 L162.8,48.8 L163.2,50.0 L163.6,51.2 L163.9,52.5 L164.3,53.8 L164.6,55.1 L165.0,56.4 L165.3,57.6 L165.7,58.8 L166.0,60.0 L166.3,61.1 L166.6,62.2 L166.9,63.2 L167.2,64.2 L167.4,65.2 L167.7,66.1 L167.9,67.1 L168.2,68.0 L168.4,68.9 L168.7,69.8 L168.9,70.7 L169.2,71.6 L169.4,72.5 L169.6,73.3 L169.8,74.2 L170.0,75.0 L170.2,75.9 L170.3,76.8 L170.5,77.8 L170.6,78.7 L170.7,79.6 L170.8,80.3 L170.9,81.0 L171.0,81.5" fill="none" stroke="#ec1c24" stroke-width="1.3" stroke-linejoin="round" stroke-linecap="round"/>
<path d="M49.5,79.8 L49.6,80.2 L49.6,80.7 L49.7,81.4 L49.8,82.0 L49.9,82.7 L50.1,83.4 L50.4,84.0 L50.7,84.4 L51.1,84.7 L51.7,84.9 L52.3,85.0 L53.0,85.1 L53.7,85.1 L54.4,85.2 L55.0,85.2 L55.5,85.3 L55.9,85.4 L56.2,85.5 L56.5,85.7 L56.8,85.8 L57.0,85.9 L57.3,86.1 L57.6,86.2 L58.0,86.3 L58.4,86.4 L58.9,86.6 L59.4,86.7 L59.9,86.8 L60.4,87.0 L61.0,87.1 L61.6,87.2 L62.2,87.2 L62.8,87.2 L63.5,87.2 L64.3,87.1 L65.0,87.1 L65.8,87.0 L66.5,86.9 L67.3,86.9 L68.0,86.8 L68.7,86.7 L69.4,86.7 L70.1,86.6 L70.8,86.6 L71.5,86.5 L72.1,86.4 L72.9,86.4 L73.6,86.3 L74.3,86.2 L75.1,86.1 L75.8,86.0 L76.5,85.9 L77.3,85.8 L78.1,85.7 L79.0,85.6 L80.0,85.5 L81.1,85.4 L82.2,85.2 L83.5,85.1 L84.8,85.0 L86.1,84.8 L87.4,84.7 L88.7,84.5 L90.0,84.4 L91.3,84.3 L92.5,84.1 L93.8,83.9 L95.1,83.8 L96.3,83.6 L97.6,83.5 L98.8,83.3 L100.0,83.2 L101.2,83.1 L102.3,83.0 L103.5,82.9 L104.6,82.8 L105.7,82.7 L106.9,82.6 L108.0,82.5 L109.1,82.4 L110.2,82.3 L111.3,82.1 L112.4,82.0 L113.5,81.8 L114.6,81.7 L115.7,81.5 L116.8,81.4 L118.0,81.2 L119.2,81.0 L120.4,80.9 L121.7,80.7 L122.9,80.5 L124.2,80.3 L125.5,80.2 L126.8,80.0 L128.2,79.8 L129.6,79.6 L131.1,79.4 L132.6,79.2 L134.2,79.0 L135.7,78.9 L137.2,78.6 L138.6,78.4 L140.0,78.2 L141.3,77.9 L142.5,77.7 L143.8,77.4 L144.9,77.1 L146.0,76.8 L147.1,76.5 L148.1,76.2 L149.1,76.0 L150.0,75.8 L150.9,75.6 L151.6,75.3 L152.4,75.2 L153.1,75.0 L153.8,74.8 L154.4,74.6 L155.0,74.5 L155.6,74.4 L156.1,74.3 L156.5,74.1 L157.0,74.0 L157.4,74.0 L157.8,73.9 L158.2,73.9 L158.6,73.9 L159.0,73.9 L159.4,74.0 L159.9,74.1 L160.3,74.2 L160.7,74.3 L161.1,74.5 L161.5,74.6 L162.0,74.8 L162.5,75.0 L163.0,75.2 L163.6,75.4 L164.2,75.7 L164.8,75.9 L165.3,76.2 L165.8,76.4 L166.3,76.7 L166.7,77.0 L167.1,77.2 L167.5,77.5 L167.8,77.8 L168.1,78.1 L168.4,78.4 L168.7,78.7 L169.0,79.0 L169.3,79.3 L169.6,79.7 L169.9,80.0 L170.2,80.4 L170.4,80.7 L170.7,81.0 L170.9,81.3 L171.0,81.5" fill="none" stroke="#ec1c24" stroke-width="1.3" stroke-linejoin="round" stroke-linecap="round"/>
<path d="M231.2,89.0 L231.3,88.6 L231.4,88.1 L231.6,87.4 L231.8,86.7 L231.9,86.0 L232.1,85.3 L232.3,84.6 L232.5,84.0 L232.7,83.5 L232.9,83.0 L233.1,82.5 L233.2,82.1 L233.4,81.7 L233.6,81.2 L233.8,80.9 L234.0,80.5 L234.2,80.2 L234.3,79.9 L234.4,79.7 L234.6,79.5 L234.7,79.3 L234.9,79.1 L235.1,78.7 L235.3,78.3 L235.6,77.8 L235.8,77.1 L236.2,76.4 L236.5,75.6 L236.8,74.8 L237.2,74.1 L237.5,73.4 L237.8,72.8 L238.1,72.3 L238.4,71.9 L238.6,71.5 L238.9,71.2 L239.2,70.9 L239.5,70.6 L239.8,70.2 L240.2,69.8 L240.6,69.3 L241.0,68.8 L241.4,68.3 L241.9,67.7 L242.3,67.2 L242.9,66.6 L243.4,66.1 L244.0,65.5 L244.7,65.0 L245.4,64.4 L246.1,63.8 L246.9,63.3 L247.7,62.7 L248.5,62.2 L249.3,61.6 L250.1,61.1 L250.9,60.6 L251.6,60.1 L252.4,59.7 L253.1,59.2 L253.9,58.7 L254.7,58.3 L255.4,57.9 L256.2,57.4 L257.0,56.9 L257.7,56.5 L258.5,56.1 L259.2,55.6 L260.0,55.2 L260.8,54.7 L261.5,54.3 L262.3,53.8 L263.1,53.3 L263.8,52.8 L264.6,52.3 L265.4,51.7 L266.1,51.2 L266.9,50.7 L267.6,50.1 L268.4,49.6 L269.2,49.1 L270.0,48.6 L270.8,48.0 L271.6,47.5 L272.4,47.0 L273.1,46.5 L273.8,45.9 L274.5,45.4 L275.1,44.8 L275.6,44.3 L276.0,43.7 L276.4,43.1 L276.8,42.6 L277.2,42.0 L277.7,41.4 L278.3,40.8 L279.0,40.2 L279.7,39.6 L280.4,39.0 L281.2,38.4 L282.0,37.8 L282.8,37.1 L283.6,36.5 L284.4,35.9 L285.2,35.3 L285.9,34.6 L286.7,34.0 L287.5,33.4 L288.2,32.7 L289.0,32.1 L289.8,31.4 L290.5,30.8 L291.2,30.2 L291.9,29.5 L292.6,28.8 L293.3,28.2 L294.0,27.5 L294.7,26.9 L295.4,26.3 L296.1,25.7 L296.8,25.2 L297.6,24.7 L298.4,24.2 L299.1,23.8 L299.9,23.4 L300.7,23.0 L301.4,22.6 L302.2,22.2 L303.0,21.8 L303.7,21.5 L304.5,21.2 L305.2,20.9 L306.0,20.7 L306.8,20.4 L307.5,20.1 L308.3,19.8 L309.1,19.5 L309.8,19.2 L310.6,18.8 L311.3,18.5 L312.1,18.2 L312.8,17.8 L313.6,17.5 L314.4,17.2 L315.2,16.9 L316.1,16.6 L316.9,16.3 L317.8,16.0 L318.6,15.7 L319.5,15.4 L320.4,15.1 L321.3,14.8 L322.2,14.5 L323.1,14.3 L324.1,14.0 L325.0,13.8 L326.0,13.5 L326.9,13.3 L327.8,13.0 L328.7,12.8 L329.5,12.6 L330.4,12.4 L331.2,12.1 L332.0,11.9 L332.8,11.7 L333.5,11.5 L334.2,11.3 L334.8,11.0 L335.3,10.7 L335.8,10.3 L336.3,9.9 L336.7,9.5 L337.0,9.2 L337.3,8.8 L337.6,8.5 L337.8,8.3 L337.8,19.1 L337.5,19.2 L337.2,19.3 L336.7,19.4 L336.2,19.6 L335.7,19.8 L335.1,19.9 L334.6,20.1 L334.0,20.3 L333.4,20.5 L332.8,20.7 L332.2,20.9 L331.6,21.1 L330.9,21.4 L330.2,21.6 L329.5,21.9 L328.7,22.1 L327.9,22.3 L327.0,22.6 L326.1,22.9 L325.1,23.1 L324.1,23.4 L323.2,23.6 L322.2,23.9 L321.3,24.2 L320.4,24.5 L319.5,24.8 L318.6,25.1 L317.8,25.4 L316.9,25.7 L316.1,26.0 L315.2,26.3 L314.4,26.6 L313.6,26.9 L312.8,27.3 L312.1,27.6 L311.3,27.9 L310.6,28.3 L309.8,28.7 L309.1,29.0 L308.3,29.4 L307.5,29.8 L306.8,30.2 L306.0,30.6 L305.2,31.0 L304.5,31.4 L303.7,31.8 L303.0,32.2 L302.2,32.6 L301.4,33.0 L300.6,33.4 L299.8,33.8 L299.0,34.2 L298.2,34.6 L297.5,35.0 L296.8,35.4 L296.1,35.8 L295.5,36.2 L295.0,36.7 L294.5,37.2 L294.0,37.6 L293.5,38.1 L293.0,38.6 L292.5,39.0 L292.0,39.5 L291.4,39.9 L290.8,40.3 L290.2,40.7 L289.6,41.1 L288.9,41.5 L288.3,42.0 L287.6,42.5 L286.9,43.0 L286.2,43.6 L285.4,44.2 L284.7,44.9 L283.9,45.5 L283.1,46.3 L282.4,47.0 L281.6,47.7 L280.8,48.5 L280.0,49.3 L279.2,50.1 L278.4,51.0 L277.6,51.9 L276.9,52.8 L276.1,53.7 L275.3,54.5 L274.5,55.3 L273.7,56.1 L273.0,56.8 L272.2,57.5 L271.4,58.2 L270.7,58.9 L269.9,59.5 L269.2,60.2 L268.4,60.8 L267.6,61.4 L266.9,62.0 L266.1,62.6 L265.4,63.2 L264.6,63.8 L263.8,64.4 L263.1,64.9 L262.3,65.5 L261.5,66.1 L260.7,66.6 L259.9,67.2 L259.1,67.8 L258.3,68.3 L257.6,68.8 L256.9,69.3 L256.2,69.8 L255.6,70.2 L255.1,70.6 L254.7,70.9 L254.3,71.2 L253.9,71.5 L253.5,71.8 L253.0,72.1 L252.4,72.5 L251.7,72.9 L251.0,73.4 L250.3,73.9 L249.5,74.3 L248.7,74.8 L247.9,75.3 L247.1,75.8 L246.3,76.2 L245.5,76.6 L244.7,77.0 L243.9,77.4 L243.1,77.7 L242.3,78.1 L241.6,78.4 L240.9,78.7 L240.2,79.0 L239.6,79.3 L239.0,79.5 L238.4,79.8 L237.8,80.0 L237.3,80.2 L236.9,80.5 L236.4,80.6 L236.0,80.8 L235.6,80.9 L235.3,81.0 L235.1,81.0 L234.8,81.0 L234.6,81.1 L234.4,81.2 L234.2,81.3 L234.0,81.5 L233.8,81.8 L233.6,82.2 L233.4,82.6 L233.2,83.0 L233.0,83.5 L232.8,84.0 L232.7,84.5 L232.5,85.0 L232.3,85.5 L232.1,86.1 L231.9,86.6 L231.8,87.2 L231.6,87.8 L231.4,88.3 L231.3,88.7 L231.2,89.0 Z" fill="#d9d9d9" stroke="#d0d0d0" stroke-width="0.5"/>
<path d="M233.0,84.0 L233.2,83.6 L233.5,83.1 L233.9,82.5 L234.2,81.9 L234.7,81.1 L235.1,80.4 L235.5,79.7 L236.0,79.0 L236.5,78.3 L237.0,77.6 L237.5,76.9 L238.1,76.1 L238.6,75.4 L239.2,74.7 L239.7,74.0 L240.2,73.4 L240.7,72.8 L241.1,72.3 L241.6,71.8 L242.0,71.4 L242.4,70.9 L242.9,70.4 L243.4,70.0 L244.0,69.5 L244.7,69.0 L245.4,68.5 L246.1,67.9 L246.9,67.4 L247.7,66.9 L248.5,66.4 L249.3,65.9 L250.1,65.4 L250.9,65.0 L251.6,64.6 L252.4,64.2 L253.1,63.8 L253.9,63.4 L254.7,63.0 L255.4,62.7 L256.2,62.3 L257.0,61.9 L257.7,61.6 L258.5,61.3 L259.2,60.9 L260.0,60.6 L260.8,60.2 L261.5,59.8 L262.3,59.4 L263.1,58.9 L263.8,58.4 L264.6,57.9 L265.4,57.4 L266.1,56.8 L266.9,56.3 L267.6,55.7 L268.4,55.2 L269.2,54.7 L269.9,54.2 L270.6,53.7 L271.4,53.3 L272.1,52.7 L272.9,52.2 L273.7,51.5 L274.5,50.8 L275.4,49.9 L276.3,49.0 L277.2,47.9 L278.2,46.8 L279.1,45.7 L280.1,44.5 L281.1,43.5 L282.0,42.5 L282.9,41.6 L283.9,40.7 L284.8,39.9 L285.7,39.1 L286.6,38.3 L287.5,37.5 L288.4,36.8 L289.3,36.0 L290.2,35.2 L291.1,34.5 L291.9,33.7 L292.8,33.0 L293.6,32.3 L294.5,31.6 L295.3,30.9 L296.1,30.3 L296.9,29.7 L297.7,29.2 L298.4,28.7 L299.2,28.2 L299.9,27.8 L300.7,27.3 L301.4,26.9 L302.2,26.5 L303.0,26.1 L303.7,25.7 L304.5,25.3 L305.2,25.0 L306.0,24.7 L306.8,24.3 L307.5,24.0 L308.3,23.7 L309.1,23.4 L309.8,23.1 L310.6,22.9 L311.3,22.6 L312.1,22.4 L312.8,22.1 L313.6,21.9 L314.4,21.6 L315.2,21.3 L316.1,21.0 L316.9,20.7 L317.8,20.4 L318.6,20.1 L319.5,19.9 L320.4,19.6 L321.3,19.3 L322.2,19.0 L323.1,18.8 L324.0,18.6 L325.0,18.3 L325.9,18.1 L326.8,17.8 L327.8,17.6 L328.7,17.3 L329.7,17.0 L330.7,16.7 L331.8,16.3 L332.8,15.9 L333.8,15.6 L334.7,15.3 L335.4,15.0 L336.0,14.8" fill="none" stroke="#a8a8a8" stroke-width="0.9" stroke-dasharray="3.5,3"/>
<path d="M231.7,89.3 L232.0,88.9 L232.3,88.4 L232.7,87.8 L233.2,87.1 L233.7,86.4 L234.2,85.7 L234.8,85.0 L235.3,84.4 L235.8,83.8 L236.4,83.2 L237.0,82.7 L237.6,82.1 L238.2,81.5 L238.9,81.0 L239.5,80.5 L240.2,80.1 L240.9,79.7 L241.7,79.4 L242.5,79.0 L243.3,78.8 L244.1,78.5 L244.8,78.3 L245.6,78.0 L246.3,77.8 L247.0,77.6 L247.6,77.4 L248.1,77.3 L248.7,77.1 L249.3,77.0 L249.8,76.9 L250.4,76.7 L251.0,76.5 L251.6,76.3 L252.2,76.1 L252.9,75.8 L253.5,75.6 L254.2,75.3 L254.8,75.0 L255.5,74.7 L256.2,74.3 L256.9,73.9 L257.7,73.4 L258.4,72.9 L259.2,72.4 L260.0,71.8 L260.8,71.3 L261.5,70.8 L262.3,70.3 L263.1,69.9 L263.8,69.5 L264.6,69.1 L265.4,68.7 L266.1,68.3 L266.9,67.9 L267.6,67.5 L268.4,67.0 L269.2,66.5 L269.9,66.0 L270.7,65.4 L271.5,64.9 L272.3,64.3 L273.0,63.7 L273.8,63.1 L274.5,62.5 L275.2,61.9 L275.9,61.3 L276.7,60.7 L277.4,60.0 L278.0,59.4 L278.7,58.8 L279.4,58.1 L280.0,57.5 L280.6,56.9 L281.1,56.3 L281.6,55.7 L282.1,55.1 L282.6,54.5 L283.1,53.8 L283.7,53.2 L284.4,52.5 L285.2,51.8 L286.1,51.0 L287.1,50.2 L288.2,49.4 L289.2,48.6 L290.2,47.8 L291.2,47.0 L292.0,46.3 L292.7,45.6 L293.4,45.0 L294.1,44.3 L294.6,43.7 L295.2,43.1 L295.8,42.6 L296.4,42.0 L297.0,41.5 L297.6,41.0 L298.3,40.5 L299.0,40.1 L299.6,39.6 L300.3,39.2 L300.9,38.8 L301.6,38.4 L302.2,38.0 L302.8,37.6 L303.4,37.2 L304.0,36.8 L304.6,36.4 L305.2,36.1 L305.8,35.7 L306.4,35.4 L307.0,35.0 L307.6,34.6 L308.3,34.3 L308.9,33.9 L309.6,33.6 L310.2,33.3 L310.8,33.0 L311.4,32.7 L312.0,32.4 L312.5,32.2 L313.0,32.0 L313.5,31.9 L314.0,31.8 L314.4,31.6 L314.9,31.5 L315.4,31.3 L316.0,31.0 L316.6,30.7 L317.2,30.3 L317.8,29.8 L318.4,29.4 L319.1,28.9 L319.8,28.4 L320.5,28.0 L321.3,27.5 L322.1,27.1 L323.0,26.6 L324.0,26.2 L325.0,25.8 L325.9,25.3 L326.9,24.9 L327.8,24.4 L328.7,24.0 L329.5,23.5 L330.4,23.1 L331.2,22.6 L332.0,22.2 L332.8,21.7 L333.5,21.2 L334.2,20.8 L334.8,20.3 L335.3,19.8 L335.8,19.3 L336.3,18.8 L336.7,18.3 L337.0,17.8 L337.3,17.3 L337.6,17.0 L337.8,16.7" fill="none" stroke="#8a8a8a" stroke-width="1.3" stroke-linejoin="round" stroke-linecap="round"/>
<path d="M231.0,86.3 L231.2,86.1 L231.5,85.8 L231.9,85.5 L232.3,85.2 L232.8,84.8 L233.2,84.5 L233.7,84.1 L234.1,83.8 L234.5,83.5 L235.0,83.2 L235.4,82.9 L235.8,82.6 L236.3,82.3 L236.8,82.0 L237.3,81.7 L237.8,81.4 L238.3,81.1 L238.9,80.9 L239.5,80.6 L240.1,80.4 L240.7,80.2 L241.4,80.0 L242.0,79.7 L242.7,79.5 L243.4,79.3 L244.1,79.1 L244.9,78.8 L245.7,78.6 L246.5,78.4 L247.2,78.2 L248.0,77.9 L248.8,77.7 L249.6,77.4 L250.4,77.2 L251.2,76.9 L252.0,76.6 L252.8,76.3 L253.5,76.0 L254.3,75.7 L255.0,75.4 L255.7,75.1 L256.4,74.7 L257.0,74.4 L257.6,74.0 L258.3,73.6 L258.8,73.3 L259.4,72.9 L260.0,72.6 L260.5,72.3 L261.1,72.0 L261.6,71.8 L262.0,71.5 L262.5,71.3 L263.0,71.0 L263.5,70.7 L264.0,70.3 L264.5,69.9 L265.0,69.5 L265.5,69.1 L266.1,68.6 L266.6,68.1 L267.2,67.6 L267.8,67.1 L268.4,66.5 L269.1,65.9 L269.9,65.2 L270.7,64.5 L271.5,63.7 L272.3,63.0 L273.1,62.3 L273.8,61.6 L274.5,61.0 L275.1,60.5 L275.6,60.0 L276.0,59.6 L276.4,59.2 L276.8,58.8 L277.2,58.3 L277.7,57.8 L278.3,57.2 L279.0,56.5 L279.7,55.7 L280.5,54.8 L281.3,53.9 L282.1,53.0 L282.9,52.1 L283.7,51.3 L284.4,50.5 L285.1,49.8 L285.8,49.1 L286.4,48.4 L287.1,47.7 L287.7,47.1 L288.3,46.5 L288.8,46.0 L289.3,45.5 L289.7,45.1 L290.1,44.8 L290.4,44.5 L290.6,44.3 L290.9,44.0 L291.2,43.8 L291.6,43.5 L292.0,43.2 L292.5,42.8 L293.1,42.4 L293.7,41.9 L294.4,41.4 L295.0,41.0 L295.8,40.5 L296.5,40.0 L297.3,39.6 L298.1,39.2 L299.0,38.8 L299.9,38.4 L300.9,38.0 L301.8,37.6 L302.8,37.3 L303.8,36.9 L304.7,36.6 L305.6,36.3 L306.6,36.0 L307.6,35.6 L308.6,35.3 L309.5,35.1 L310.4,34.8 L311.2,34.5 L312.0,34.3 L312.6,34.1 L313.2,33.9 L313.7,33.8 L314.1,33.7 L314.5,33.6 L315.0,33.4 L315.5,33.2 L316.0,33.0 L316.6,32.7 L317.2,32.4 L317.8,32.0 L318.4,31.6 L319.1,31.1 L319.8,30.7 L320.5,30.3 L321.3,29.8 L322.1,29.3 L323.1,28.9 L324.0,28.4 L325.0,27.9 L326.0,27.4 L327.0,26.8 L327.9,26.3 L328.7,25.8 L329.4,25.3 L330.1,24.8 L330.8,24.2 L331.4,23.7 L331.9,23.2 L332.5,22.6 L333.0,22.1 L333.5,21.5 L334.0,20.9 L334.4,20.3 L334.9,19.7 L335.3,19.0 L335.7,18.4 L336.0,17.8 L336.3,17.2 L336.6,16.7 L336.8,16.2 L337.1,15.7 L337.2,15.3 L337.4,14.8 L337.5,14.5 L337.6,14.1 L337.7,13.8 L337.8,13.6" fill="none" stroke="#111" stroke-width="1.3" stroke-linejoin="round" stroke-linecap="round"/>
<path d="M231.0,79.5 L231.1,79.6 L231.3,79.6 L231.6,79.7 L231.8,79.8 L232.1,79.9 L232.3,80.0 L232.6,80.1 L232.9,80.1 L233.2,80.1 L233.4,80.1 L233.7,80.0 L233.9,79.9 L234.2,79.9 L234.5,79.8 L234.9,79.6 L235.3,79.5 L235.8,79.3 L236.4,79.1 L237.0,78.9 L237.7,78.7 L238.3,78.4 L239.0,78.2 L239.6,77.9 L240.2,77.7 L240.7,77.5 L241.3,77.2 L241.8,77.0 L242.3,76.7 L242.7,76.5 L243.2,76.2 L243.6,76.0 L244.0,75.8 L244.3,75.6 L244.6,75.5 L244.9,75.4 L245.2,75.2 L245.4,75.1 L245.7,75.0 L246.0,74.8 L246.3,74.6 L246.7,74.3 L247.2,74.0 L247.7,73.7 L248.2,73.3 L248.7,72.9 L249.2,72.6 L249.7,72.3 L250.1,72.0 L250.4,71.8 L250.7,71.6 L251.0,71.4 L251.2,71.3 L251.5,71.1 L251.8,71.0 L252.1,70.8 L252.4,70.6 L252.8,70.4 L253.2,70.1 L253.6,69.9 L254.1,69.6 L254.5,69.3 L255.1,69.0 L255.6,68.7 L256.2,68.3 L256.9,67.9 L257.6,67.4 L258.3,66.9 L259.1,66.4 L259.9,65.8 L260.7,65.2 L261.5,64.7 L262.3,64.1 L263.1,63.5 L263.8,63.0 L264.6,62.4 L265.4,61.8 L266.1,61.2 L266.9,60.6 L267.6,60.0 L268.4,59.3 L269.2,58.6 L269.9,57.9 L270.7,57.1 L271.4,56.4 L272.2,55.6 L273.0,54.8 L273.7,54.0 L274.5,53.2 L275.3,52.4 L276.1,51.6 L276.9,50.8 L277.6,50.0 L278.4,49.1 L279.2,48.3 L280.0,47.6 L280.8,46.8 L281.6,46.1 L282.4,45.3 L283.1,44.6 L283.9,43.9 L284.7,43.3 L285.4,42.6 L286.2,42.0 L286.9,41.4 L287.6,40.8 L288.3,40.3 L288.9,39.9 L289.6,39.4 L290.2,39.0 L290.8,38.5 L291.4,38.1 L292.0,37.6 L292.5,37.1 L293.0,36.6 L293.5,36.1 L294.0,35.6 L294.5,35.1 L295.0,34.6 L295.5,34.1 L296.1,33.6 L296.8,33.1 L297.5,32.7 L298.2,32.2 L299.0,31.7 L299.8,31.3 L300.6,30.9 L301.4,30.4 L302.2,30.0 L303.0,29.6 L303.7,29.2 L304.5,28.8 L305.2,28.4 L306.0,28.0 L306.8,27.6 L307.5,27.3 L308.3,26.9 L309.1,26.6 L309.8,26.2 L310.6,25.9 L311.4,25.6 L312.1,25.3 L312.9,25.0 L313.6,24.8 L314.4,24.5 L315.1,24.3 L315.9,24.0 L316.6,23.8 L317.4,23.6 L318.1,23.4 L318.8,23.2 L319.6,23.0 L320.3,22.8 L321.0,22.6 L321.8,22.3 L322.5,22.1 L323.2,21.8 L324.0,21.6 L324.7,21.3 L325.5,21.1 L326.2,20.9 L327.0,20.7 L327.7,20.5 L328.5,20.4 L329.3,20.2 L330.1,20.1 L330.9,20.0 L331.6,19.8 L332.3,19.7 L333.0,19.6 L333.7,19.4 L334.4,19.3 L335.1,19.2 L335.8,19.1 L336.3,19.0 L336.8,18.9 L337.2,18.8" fill="none" stroke="#ec1c24" stroke-width="1.3" stroke-linejoin="round" stroke-linecap="round"/>
<path d="M391.9,17.6 L392.9,17.5 L394.2,17.4 L395.6,17.3 L397.2,17.2 L399.0,17.0 L401.0,16.9 L403.1,16.8 L405.3,16.6 L407.6,16.5 L410.0,16.4 L412.5,16.3 L415.2,16.2 L418.1,16.1 L421.1,16.1 L424.2,16.0 L427.4,15.9 L430.6,15.9 L433.8,15.8 L436.9,15.8 L440.0,15.8 L443.1,15.8 L446.2,15.8 L449.4,15.8 L452.6,15.8 L455.8,15.9 L458.9,15.9 L461.9,16.0 L464.8,16.0 L467.5,16.1 L470.0,16.2 L472.4,16.3 L474.5,16.4 L476.6,16.5 L478.5,16.7 L480.3,16.8 L482.0,17.0 L483.6,17.2 L485.2,17.4 L486.7,17.6 L488.2,17.8 L489.7,18.1 L491.1,18.5 L492.5,18.9 L493.8,19.3 L495.0,19.7 L496.2,20.1 L497.2,20.5 L498.0,20.9 L498.8,21.2 L499.4,21.4 L498.6,23.6 L498.0,23.4 L497.2,23.1 L496.3,22.8 L495.3,22.4 L494.2,22.0 L493.0,21.6 L491.8,21.2 L490.5,20.8 L489.2,20.5 L487.8,20.2 L486.4,19.9 L484.9,19.7 L483.4,19.5 L481.8,19.4 L480.1,19.2 L478.3,19.1 L476.4,18.9 L474.4,18.8 L472.3,18.7 L470.0,18.6 L467.4,18.5 L464.7,18.4 L461.9,18.4 L458.8,18.3 L455.7,18.3 L452.6,18.2 L449.4,18.2 L446.2,18.2 L443.1,18.2 L440.0,18.2 L437.0,18.2 L433.8,18.2 L430.6,18.3 L427.4,18.3 L424.3,18.4 L421.2,18.5 L418.1,18.5 L415.3,18.6 L412.6,18.7 L410.0,18.8 L407.7,18.9 L405.4,19.0 L403.2,19.2 L401.2,19.3 L399.2,19.4 L397.4,19.6 L395.8,19.7 L394.4,19.8 L393.1,19.9 L392.1,20.0 Z" fill="#d9d9d9" stroke="#d0d0d0" stroke-width="0.5"/>
<path d="M391.3,87.4 L391.7,87.0 L392.3,86.5 L393.0,85.8 L393.8,85.1 L394.7,84.4 L395.6,83.6 L396.5,82.8 L397.4,82.0 L398.4,81.2 L399.3,80.5 L400.3,79.8 L401.2,79.1 L402.2,78.4 L403.2,77.7 L404.3,77.0 L405.3,76.3 L406.3,75.6 L407.4,74.9 L408.4,74.3 L409.4,73.6 L410.5,73.1 L411.5,72.5 L412.5,72.0 L413.5,71.5 L414.5,71.0 L415.5,70.5 L416.6,70.0 L417.6,69.6 L418.6,69.2 L419.6,68.8 L420.6,68.4 L421.6,68.0 L422.7,67.7 L423.7,67.4 L424.7,67.1 L425.7,66.8 L426.7,66.5 L427.7,66.3 L428.7,66.0 L429.7,65.7 L430.7,65.5 L431.7,65.2 L432.7,65.0 L433.7,64.7 L434.8,64.5 L435.8,64.3 L436.8,64.0 L437.7,63.8 L438.7,63.6 L439.7,63.3 L440.7,63.1 L441.8,62.8 L442.8,62.6 L443.8,62.3 L444.9,62.1 L445.9,61.8 L446.9,61.6 L447.8,61.3 L448.8,61.0 L449.7,60.7 L450.5,60.5 L451.4,60.2 L452.2,59.9 L453.0,59.6 L453.7,59.4 L454.5,59.1 L455.3,58.8 L456.0,58.5 L456.8,58.1 L457.6,57.8 L458.4,57.4 L459.1,57.1 L459.9,56.7 L460.7,56.3 L461.5,56.0 L462.3,55.6 L463.1,55.1 L463.9,54.7 L464.7,54.3 L465.5,53.8 L466.2,53.4 L467.1,52.9 L467.9,52.4 L468.7,51.9 L469.5,51.3 L470.3,50.8 L471.1,50.2 L471.9,49.7 L472.7,49.2 L473.4,48.7 L474.0,48.2 L474.7,47.8 L475.3,47.3 L475.9,46.9 L476.5,46.5 L477.1,46.0 L477.6,45.6 L478.2,45.1 L478.7,44.7 L479.3,44.2 L479.8,43.7 L480.4,43.1 L480.9,42.6 L481.5,42.0 L482.0,41.5 L482.6,40.9 L483.1,40.3 L483.6,39.7 L484.2,39.1 L484.7,38.6 L485.2,38.0 L485.6,37.5 L486.1,36.9 L486.6,36.3 L487.0,35.8 L487.5,35.2 L487.9,34.7 L488.3,34.1 L488.8,33.5 L489.2,33.0 L489.6,32.5 L490.0,31.9 L490.4,31.4 L490.8,30.9 L491.2,30.3 L491.6,29.8 L492.0,29.3 L492.4,28.7 L492.8,28.2 L493.2,27.7 L493.7,27.1 L494.2,26.5 L494.7,25.9 L495.2,25.3 L495.8,24.7 L496.3,24.1 L496.8,23.6 L497.2,23.1 L497.5,22.7 L497.8,22.4 L499.2,23.6 L498.9,23.9 L498.6,24.3 L498.2,24.8 L497.7,25.4 L497.2,25.9 L496.7,26.6 L496.2,27.2 L495.7,27.8 L495.2,28.4 L494.8,28.9 L494.4,29.4 L494.0,30.0 L493.6,30.5 L493.2,31.0 L492.8,31.5 L492.4,32.0 L492.0,32.6 L491.6,33.1 L491.2,33.7 L490.8,34.2 L490.4,34.8 L490.0,35.3 L489.5,35.9 L489.1,36.5 L488.7,37.1 L488.2,37.7 L487.8,38.2 L487.3,38.8 L486.8,39.4 L486.3,40.0 L485.8,40.6 L485.3,41.2 L484.8,41.8 L484.2,42.4 L483.6,43.0 L483.1,43.6 L482.5,44.2 L481.9,44.7 L481.3,45.3 L480.7,45.8 L480.1,46.3 L479.6,46.8 L479.0,47.3 L478.4,47.8 L477.8,48.2 L477.2,48.7 L476.6,49.1 L476.0,49.6 L475.3,50.0 L474.6,50.5 L473.9,51.0 L473.2,51.5 L472.4,52.1 L471.6,52.6 L470.7,53.2 L469.9,53.7 L469.0,54.2 L468.2,54.8 L467.4,55.3 L466.5,55.8 L465.7,56.2 L464.9,56.7 L464.1,57.1 L463.3,57.5 L462.5,57.9 L461.7,58.3 L460.9,58.7 L460.1,59.1 L459.2,59.4 L458.4,59.8 L457.6,60.2 L456.9,60.5 L456.1,60.8 L455.3,61.1 L454.5,61.4 L453.7,61.7 L452.9,62.0 L452.1,62.3 L451.2,62.6 L450.3,62.9 L449.4,63.1 L448.4,63.4 L447.4,63.7 L446.4,63.9 L445.4,64.2 L444.4,64.5 L443.3,64.7 L442.3,65.0 L441.3,65.2 L440.3,65.5 L439.3,65.7 L438.3,66.0 L437.2,66.2 L436.2,66.4 L435.2,66.6 L434.3,66.9 L433.3,67.1 L432.3,67.4 L431.3,67.6 L430.3,67.9 L429.3,68.1 L428.3,68.4 L427.3,68.7 L426.3,68.9 L425.3,69.2 L424.3,69.5 L423.3,69.8 L422.4,70.1 L421.4,70.5 L420.4,70.8 L419.4,71.2 L418.4,71.6 L417.4,72.1 L416.5,72.5 L415.5,73.0 L414.5,73.4 L413.5,73.9 L412.5,74.5 L411.5,75.0 L410.6,75.6 L409.6,76.1 L408.6,76.8 L407.5,77.4 L406.5,78.1 L405.5,78.8 L404.5,79.5 L403.5,80.2 L402.5,80.9 L401.6,81.6 L400.7,82.3 L399.8,83.0 L398.8,83.7 L397.9,84.5 L397.0,85.3 L396.1,86.1 L395.3,86.8 L394.5,87.5 L393.8,88.1 L393.2,88.6 L392.7,89.0 Z" fill="#d9d9d9" stroke="#d0d0d0" stroke-width="0.5"/>
<path d="M392.0,18.8 L393.3,18.7 L395.0,18.6 L396.9,18.4 L399.1,18.2 L401.6,18.1 L404.2,17.9 L407.1,17.7 L410.0,17.6 L413.2,17.5 L416.7,17.4 L420.4,17.3 L424.2,17.2 L428.2,17.1 L432.2,17.1 L436.2,17.0 L440.0,17.0 L443.8,17.0 L447.8,17.0 L451.8,17.0 L455.8,17.1 L459.6,17.1 L463.3,17.2 L466.8,17.3 L470.0,17.4 L472.9,17.5 L475.5,17.7 L477.9,17.8 L480.2,18.0 L482.3,18.2 L484.3,18.4 L486.2,18.7 L488.0,19.0 L489.8,19.4 L491.5,19.8 L493.1,20.3 L494.6,20.9 L496.0,21.4 L497.2,21.8 L498.2,22.2 L499.0,22.5" fill="none" stroke="#a8a8a8" stroke-width="0.9" stroke-dasharray="3.5,3"/>
<path d="M392.0,88.2 L392.6,87.7 L393.4,87.0 L394.3,86.1 L395.4,85.2 L396.5,84.2 L397.7,83.3 L398.8,82.3 L400.0,81.4 L401.2,80.5 L402.4,79.7 L403.6,78.8 L404.9,77.9 L406.2,77.0 L407.5,76.2 L408.7,75.4 L410.0,74.6 L411.2,73.9 L412.5,73.2 L413.8,72.6 L415.0,72.0 L416.2,71.4 L417.5,70.8 L418.8,70.3 L420.0,69.8 L421.2,69.3 L422.5,68.9 L423.8,68.5 L425.0,68.1 L426.2,67.8 L427.5,67.5 L428.8,67.1 L430.0,66.8 L431.2,66.5 L432.5,66.2 L433.8,65.9 L435.0,65.6 L436.2,65.3 L437.5,65.0 L438.8,64.7 L440.0,64.4 L441.3,64.1 L442.5,63.8 L443.8,63.5 L445.1,63.1 L446.4,62.8 L447.6,62.5 L448.8,62.1 L450.0,61.8 L451.1,61.5 L452.1,61.1 L453.1,60.7 L454.1,60.4 L455.1,60.0 L456.0,59.6 L457.0,59.2 L458.0,58.8 L459.0,58.4 L460.0,57.9 L461.0,57.4 L462.0,56.9 L463.0,56.4 L464.0,55.9 L465.0,55.4 L466.0,54.8 L467.0,54.2 L468.0,53.6 L469.1,52.9 L470.1,52.2 L471.1,51.6 L472.1,50.9 L473.1,50.2 L474.0,49.6 L474.8,49.0 L475.7,48.4 L476.4,47.9 L477.2,47.3 L477.9,46.8 L478.6,46.2 L479.3,45.6 L480.0,45.0 L480.7,44.3 L481.4,43.7 L482.1,42.9 L482.8,42.2 L483.5,41.5 L484.2,40.8 L484.9,40.0 L485.5,39.3 L486.1,38.6 L486.7,37.9 L487.3,37.1 L487.8,36.4 L488.4,35.7 L488.9,35.0 L489.5,34.3 L490.0,33.6 L490.5,32.9 L491.0,32.2 L491.5,31.6 L492.0,30.9 L492.5,30.3 L493.0,29.6 L493.5,29.0 L494.0,28.3 L494.6,27.6 L495.2,26.9 L495.8,26.1 L496.5,25.3 L497.1,24.6 L497.7,24.0 L498.1,23.4 L498.5,23.0" fill="none" stroke="#a8a8a8" stroke-width="0.9" stroke-dasharray="3.5,3"/>
<path d="M392.0,19.8 L392.5,19.8 L393.3,19.8 L394.1,19.8 L395.1,19.7 L396.1,19.7 L397.1,19.7 L398.2,19.6 L399.3,19.5 L400.4,19.4 L401.5,19.2 L402.7,19.0 L404.0,18.8 L405.2,18.6 L406.5,18.4 L407.7,18.2 L408.9,18.1 L410.0,18.0 L411.1,17.9 L412.2,17.8 L413.2,17.7 L414.3,17.7 L415.5,17.6 L416.9,17.6 L418.4,17.5 L420.1,17.4 L421.9,17.4 L423.7,17.3 L425.7,17.3 L427.8,17.2 L430.1,17.2 L432.5,17.2 L435.0,17.2 L437.8,17.2 L440.8,17.3 L444.0,17.4 L447.4,17.5 L450.7,17.6 L454.0,17.7 L457.1,17.8 L460.0,17.9 L462.7,18.0 L465.4,18.0 L468.0,18.0 L470.5,18.1 L472.8,18.1 L475.1,18.2 L477.1,18.2 L479.0,18.3 L480.6,18.4 L482.1,18.5 L483.3,18.6 L484.4,18.8 L485.4,18.9 L486.4,19.1 L487.5,19.3 L488.6,19.5 L489.9,19.7 L491.2,20.0 L492.6,20.3 L493.9,20.6 L495.2,20.9 L496.4,21.2 L497.4,21.5 L498.2,21.7 L498.7,21.9 L499.1,22.1 L499.2,22.2 L499.2,22.3 L499.2,22.5 L499.1,22.5 L499.1,22.6 L499.1,22.7" fill="none" stroke="#8a8a8a" stroke-width="1.3" stroke-linejoin="round" stroke-linecap="round"/>
<path d="M392.0,20.0 L392.5,20.0 L393.3,20.0 L394.1,19.9 L395.1,19.9 L396.1,19.8 L397.1,19.8 L398.2,19.7 L399.3,19.6 L400.4,19.5 L401.5,19.3 L402.7,19.1 L404.0,18.9 L405.2,18.7 L406.5,18.5 L407.7,18.3 L408.9,18.2 L410.0,18.1 L411.1,18.0 L412.2,17.9 L413.2,17.8 L414.3,17.8 L415.5,17.7 L416.9,17.7 L418.4,17.6 L420.1,17.5 L421.9,17.5 L423.7,17.5 L425.7,17.4 L427.8,17.4 L430.1,17.4 L432.5,17.4 L435.0,17.4 L437.8,17.5 L440.8,17.5 L444.0,17.6 L447.3,17.8 L450.7,17.9 L454.0,18.0 L457.1,18.1 L460.0,18.2 L462.7,18.3 L465.4,18.3 L468.0,18.3 L470.5,18.4 L472.9,18.4 L475.1,18.5 L477.2,18.5 L479.1,18.6 L480.7,18.7 L482.1,18.8 L483.4,18.9 L484.4,19.1 L485.5,19.2 L486.4,19.4 L487.5,19.6 L488.6,19.8 L489.9,20.0 L491.2,20.3 L492.6,20.6 L493.9,20.9 L495.2,21.2 L496.4,21.5 L497.4,21.8 L498.2,22.0 L498.7,22.2 L499.1,22.3 L499.2,22.5 L499.2,22.6 L499.2,22.7 L499.1,22.8 L499.1,22.8 L499.1,22.9" fill="none" stroke="#111" stroke-width="1.3" stroke-linejoin="round" stroke-linecap="round"/>
<path d="M391.7,91.0 L392.3,90.5 L393.2,89.7 L394.1,88.9 L395.2,87.9 L396.4,86.9 L397.6,85.9 L398.8,84.9 L400.0,84.0 L401.2,83.1 L402.4,82.2 L403.6,81.3 L404.9,80.4 L406.2,79.5 L407.5,78.6 L408.7,77.8 L410.0,77.0 L411.2,76.2 L412.5,75.5 L413.8,74.8 L415.0,74.2 L416.2,73.5 L417.5,72.9 L418.8,72.3 L420.0,71.8 L421.2,71.3 L422.5,70.9 L423.8,70.5 L425.0,70.1 L426.2,69.8 L427.5,69.5 L428.8,69.1 L430.0,68.8 L431.2,68.5 L432.5,68.1 L433.8,67.8 L435.0,67.5 L436.2,67.2 L437.5,66.9 L438.8,66.6 L440.0,66.3 L441.3,66.0 L442.5,65.6 L443.8,65.3 L445.1,65.0 L446.4,64.6 L447.6,64.3 L448.8,64.0 L450.0,63.6 L451.1,63.2 L452.1,62.9 L453.1,62.5 L454.1,62.2 L455.1,61.8 L456.0,61.4 L457.0,61.0 L458.0,60.6 L459.0,60.2 L460.0,59.7 L461.0,59.2 L462.0,58.7 L463.0,58.2 L464.0,57.7 L465.0,57.2 L466.0,56.6 L467.0,56.0 L468.0,55.4 L469.1,54.7 L470.1,54.0 L471.1,53.3 L472.1,52.6 L473.1,51.9 L474.0,51.3 L474.8,50.7 L475.7,50.1 L476.4,49.5 L477.2,48.9 L477.9,48.4 L478.6,47.8 L479.3,47.1 L480.0,46.5 L480.7,45.8 L481.4,45.1 L482.1,44.4 L482.8,43.7 L483.5,42.9 L484.2,42.2 L484.9,41.4 L485.5,40.7 L486.1,40.0 L486.7,39.2 L487.3,38.5 L487.9,37.8 L488.4,37.0 L489.0,36.3 L489.5,35.7 L490.0,35.0 L490.5,34.4 L490.9,33.8 L491.4,33.2 L491.8,32.7 L492.2,32.1 L492.6,31.6 L493.0,31.1 L493.4,30.5 L493.8,29.9 L494.3,29.3 L494.7,28.8 L495.1,28.2 L495.5,27.6 L496.0,27.0 L496.3,26.5 L496.7,26.0 L497.0,25.5 L497.4,25.0 L497.7,24.5 L498.0,24.0 L498.3,23.6 L498.5,23.2 L498.7,22.9 L498.9,22.6" fill="none" stroke="#111" stroke-width="1.3" stroke-linejoin="round" stroke-linecap="round"/>
<path d="M392.0,19.3 L392.5,19.3 L393.3,19.3 L394.1,19.3 L395.1,19.3 L396.1,19.3 L397.1,19.2 L398.2,19.2 L399.3,19.1 L400.4,19.0 L401.5,18.9 L402.7,18.7 L404.0,18.5 L405.2,18.3 L406.5,18.2 L407.7,18.0 L408.9,17.9 L410.0,17.8 L411.1,17.7 L412.2,17.6 L413.2,17.6 L414.3,17.5 L415.5,17.5 L416.9,17.4 L418.4,17.4 L420.1,17.4 L421.9,17.3 L423.7,17.3 L425.7,17.2 L427.8,17.2 L430.1,17.2 L432.5,17.2 L435.0,17.2 L437.8,17.3 L440.8,17.3 L444.0,17.4 L447.3,17.6 L450.7,17.7 L454.0,17.8 L457.1,17.9 L460.0,18.0 L462.7,18.1 L465.4,18.1 L468.0,18.1 L470.5,18.2 L472.9,18.2 L475.1,18.3 L477.2,18.3 L479.1,18.4 L480.7,18.5 L482.1,18.6 L483.4,18.7 L484.4,18.9 L485.5,19.0 L486.4,19.2 L487.5,19.4 L488.6,19.6 L489.9,19.8 L491.2,20.1 L492.6,20.4 L493.9,20.7 L495.2,21.0 L496.4,21.3 L497.4,21.6 L498.2,21.8 L498.7,22.0 L499.1,22.2 L499.2,22.3 L499.2,22.5 L499.2,22.6 L499.1,22.7 L499.1,22.8 L499.1,22.9" fill="none" stroke="#ec1c24" stroke-width="1.3" stroke-linejoin="round" stroke-linecap="round"/>
<path d="M391.7,89.0 L392.3,88.5 L393.2,87.8 L394.1,87.0 L395.2,86.1 L396.4,85.1 L397.6,84.1 L398.8,83.2 L400.0,82.3 L401.2,81.4 L402.4,80.6 L403.6,79.7 L404.9,78.8 L406.2,77.9 L407.5,77.1 L408.7,76.3 L410.0,75.5 L411.2,74.8 L412.5,74.1 L413.8,73.4 L415.0,72.8 L416.2,72.1 L417.5,71.6 L418.8,71.0 L420.0,70.5 L421.2,70.0 L422.5,69.6 L423.8,69.2 L425.0,68.8 L426.2,68.5 L427.5,68.2 L428.8,67.8 L430.0,67.5 L431.2,67.2 L432.5,66.8 L433.8,66.5 L435.0,66.2 L436.2,65.9 L437.5,65.6 L438.8,65.3 L440.0,65.0 L441.3,64.7 L442.5,64.4 L443.8,64.1 L445.1,63.8 L446.4,63.5 L447.6,63.2 L448.8,62.8 L450.0,62.5 L451.1,62.2 L452.1,61.8 L453.1,61.5 L454.1,61.1 L455.1,60.7 L456.0,60.3 L457.0,59.9 L458.0,59.5 L459.0,59.1 L460.0,58.6 L461.0,58.1 L462.0,57.6 L463.0,57.1 L464.0,56.6 L465.0,56.1 L466.0,55.5 L467.0,54.9 L468.0,54.3 L469.1,53.6 L470.1,53.0 L471.1,52.3 L472.1,51.6 L473.1,50.9 L474.0,50.3 L474.8,49.7 L475.7,49.1 L476.4,48.5 L477.2,47.9 L477.9,47.3 L478.6,46.8 L479.3,46.1 L480.0,45.5 L480.7,44.8 L481.4,44.1 L482.1,43.4 L482.8,42.7 L483.5,42.0 L484.2,41.3 L484.9,40.5 L485.5,39.8 L486.1,39.1 L486.7,38.3 L487.3,37.6 L487.9,36.8 L488.5,36.0 L489.0,35.3 L489.5,34.6 L490.0,34.0 L490.5,33.4 L490.9,32.9 L491.3,32.4 L491.7,31.9 L492.0,31.5 L492.4,31.0 L492.8,30.5 L493.2,30.0 L493.6,29.5 L494.0,28.9 L494.5,28.3 L494.9,27.7 L495.3,27.1 L495.7,26.5 L496.1,26.0 L496.5,25.5 L496.9,25.0 L497.2,24.6 L497.6,24.2 L497.9,23.8 L498.2,23.4 L498.5,23.1 L498.7,22.8 L498.9,22.6" fill="none" stroke="#ec1c24" stroke-width="1.3" stroke-linejoin="round" stroke-linecap="round"/>
<path d="M552.6,82.6 L553.0,82.4 L553.5,82.0 L554.2,81.6 L554.9,81.1 L555.7,80.6 L556.4,80.1 L557.2,79.6 L557.9,79.1 L558.5,78.7 L559.2,78.2 L559.9,77.7 L560.5,77.3 L561.2,76.8 L561.8,76.3 L562.5,75.9 L563.1,75.4 L563.8,74.9 L564.5,74.5 L565.1,74.0 L565.8,73.5 L566.4,73.1 L567.1,72.6 L567.8,72.2 L568.4,71.7 L569.1,71.3 L569.7,70.8 L570.4,70.4 L571.1,70.0 L571.7,69.5 L572.4,69.1 L573.0,68.7 L573.7,68.3 L574.4,67.8 L575.0,67.4 L575.7,67.0 L576.3,66.6 L577.0,66.2 L577.7,65.9 L578.3,65.5 L579.0,65.1 L579.6,64.7 L580.3,64.4 L580.9,64.0 L581.6,63.6 L582.3,63.3 L582.9,63.0 L583.6,62.6 L584.2,62.3 L584.9,62.0 L585.6,61.7 L586.2,61.3 L586.9,61.0 L587.5,60.7 L588.2,60.4 L588.9,60.2 L589.5,59.9 L590.2,59.6 L590.8,59.3 L591.5,59.0 L592.2,58.8 L592.8,58.5 L593.5,58.3 L594.1,58.0 L594.8,57.8 L595.5,57.5 L596.1,57.3 L596.8,57.1 L597.4,56.9 L598.1,56.6 L598.7,56.4 L599.4,56.2 L600.1,56.0 L600.7,55.8 L601.4,55.6 L602.0,55.4 L602.7,55.2 L603.4,55.0 L604.0,54.8 L604.7,54.6 L605.3,54.4 L606.0,54.2 L606.7,54.0 L607.3,53.8 L608.0,53.6 L608.6,53.5 L609.3,53.3 L610.0,53.1 L610.6,52.9 L611.3,52.7 L611.9,52.5 L612.6,52.3 L613.2,52.2 L613.9,52.0 L614.6,51.8 L615.2,51.6 L615.9,51.4 L616.5,51.2 L617.2,51.0 L617.9,50.8 L618.5,50.6 L619.2,50.4 L619.8,50.2 L620.5,50.0 L621.2,49.8 L621.8,49.6 L622.5,49.4 L623.1,49.2 L623.8,49.0 L624.5,48.8 L625.1,48.6 L625.8,48.4 L626.4,48.2 L627.1,47.9 L627.8,47.7 L628.4,47.5 L629.1,47.2 L629.7,47.0 L630.4,46.7 L631.0,46.4 L631.7,46.2 L632.4,45.9 L633.0,45.6 L633.7,45.3 L634.3,45.0 L635.0,44.7 L635.7,44.4 L636.3,44.1 L637.0,43.7 L637.6,43.4 L638.3,43.0 L639.0,42.7 L639.6,42.3 L640.3,42.0 L640.9,41.6 L641.6,41.2 L642.3,40.8 L642.9,40.4 L643.6,40.0 L644.2,39.6 L644.9,39.2 L645.6,38.7 L646.2,38.3 L646.9,37.8 L647.5,37.4 L648.2,36.9 L648.8,36.4 L649.5,36.0 L650.2,35.5 L650.8,35.0 L651.5,34.5 L652.1,33.9 L652.8,33.4 L653.5,32.9 L654.1,32.4 L654.8,31.8 L655.4,31.3 L656.1,30.7 L656.8,30.1 L657.4,29.6 L658.1,29.0 L658.7,28.4 L659.4,27.8 L660.1,27.2 L660.7,26.6 L661.4,26.0 L662.0,25.4 L662.7,24.8 L663.4,24.2 L664.0,23.5 L664.7,22.9 L665.3,22.3 L666.0,21.6 L666.6,21.0 L667.3,20.4 L668.0,19.7 L668.6,19.1 L669.3,18.4 L670.1,17.7 L670.8,16.9 L671.6,16.2 L672.3,15.5 L673.0,14.9 L673.5,14.4 L673.9,14.0 L673.9,17.8 L673.5,18.3 L673.0,18.9 L672.3,19.7 L671.6,20.6 L670.8,21.5 L670.1,22.4 L669.3,23.2 L668.6,24.0 L668.0,24.7 L667.3,25.5 L666.6,26.2 L666.0,26.9 L665.3,27.6 L664.7,28.3 L664.0,28.9 L663.4,29.6 L662.7,30.3 L662.0,30.9 L661.4,31.5 L660.7,32.2 L660.1,32.8 L659.4,33.4 L658.7,34.0 L658.1,34.6 L657.4,35.2 L656.8,35.8 L656.1,36.3 L655.4,36.9 L654.8,37.4 L654.1,38.0 L653.5,38.5 L652.8,39.0 L652.1,39.5 L651.5,40.0 L650.8,40.5 L650.2,41.0 L649.5,41.5 L648.8,41.9 L648.2,42.4 L647.5,42.9 L646.9,43.3 L646.2,43.7 L645.6,44.2 L644.9,44.6 L644.2,45.0 L643.6,45.4 L642.9,45.8 L642.3,46.2 L641.6,46.6 L640.9,47.0 L640.3,47.3 L639.6,47.7 L639.0,48.0 L638.3,48.4 L637.6,48.7 L637.0,49.1 L636.3,49.4 L635.7,49.7 L635.0,50.0 L634.3,50.4 L633.7,50.7 L633.0,51.0 L632.4,51.3 L631.7,51.5 L631.0,51.8 L630.4,52.1 L629.7,52.4 L629.1,52.7 L628.4,52.9 L627.8,53.2 L627.1,53.4 L626.4,53.7 L625.8,53.9 L625.1,54.2 L624.5,54.4 L623.8,54.6 L623.1,54.9 L622.5,55.1 L621.8,55.3 L621.2,55.5 L620.5,55.7 L619.8,56.0 L619.2,56.2 L618.5,56.4 L617.9,56.6 L617.2,56.8 L616.5,57.0 L615.9,57.2 L615.2,57.4 L614.6,57.6 L613.9,57.8 L613.2,57.9 L612.6,58.1 L611.9,58.3 L611.3,58.5 L610.6,58.7 L610.0,58.9 L609.3,59.1 L608.6,59.3 L608.0,59.5 L607.3,59.7 L606.7,59.9 L606.0,60.1 L605.3,60.3 L604.7,60.5 L604.0,60.6 L603.4,60.8 L602.7,61.0 L602.0,61.2 L601.4,61.4 L600.7,61.6 L600.1,61.8 L599.4,62.0 L598.7,62.2 L598.1,62.5 L597.4,62.7 L596.8,62.9 L596.1,63.1 L595.5,63.3 L594.8,63.5 L594.1,63.7 L593.5,63.9 L592.8,64.1 L592.2,64.4 L591.5,64.6 L590.8,64.8 L590.2,65.0 L589.5,65.3 L588.9,65.5 L588.2,65.8 L587.5,66.0 L586.9,66.2 L586.2,66.5 L585.6,66.7 L584.9,67.0 L584.2,67.3 L583.6,67.5 L582.9,67.8 L582.3,68.1 L581.6,68.3 L580.9,68.6 L580.3,68.9 L579.6,69.2 L579.0,69.5 L578.3,69.8 L577.7,70.1 L577.0,70.4 L576.3,70.7 L575.7,71.0 L575.0,71.3 L574.4,71.6 L573.7,72.0 L573.0,72.3 L572.4,72.6 L571.7,73.0 L571.1,73.3 L570.4,73.7 L569.7,74.1 L569.1,74.4 L568.4,74.8 L567.8,75.2 L567.1,75.6 L566.4,75.9 L565.8,76.3 L565.1,76.7 L564.5,77.1 L563.8,77.5 L563.1,78.0 L562.5,78.4 L561.8,78.8 L561.2,79.2 L560.5,79.7 L559.9,80.1 L559.2,80.6 L558.5,81.0 L557.9,81.5 L557.2,82.0 L556.4,82.5 L555.7,83.1 L554.9,83.6 L554.2,84.2 L553.5,84.6 L553.0,85.1 L552.6,85.4 Z" fill="#d9d9d9" stroke="#d0d0d0" stroke-width="0.5"/>
<path d="M552.6,84.0 L553.0,83.7 L553.5,83.3 L554.2,82.9 L554.9,82.4 L555.7,81.8 L556.4,81.3 L557.2,80.8 L557.9,80.3 L558.5,79.8 L559.2,79.4 L559.9,78.9 L560.5,78.5 L561.2,78.0 L561.8,77.6 L562.5,77.1 L563.1,76.7 L563.8,76.2 L564.5,75.8 L565.1,75.4 L565.8,74.9 L566.4,74.5 L567.1,74.1 L567.8,73.7 L568.4,73.3 L569.1,72.9 L569.7,72.4 L570.4,72.0 L571.1,71.6 L571.7,71.3 L572.4,70.9 L573.0,70.5 L573.7,70.1 L574.4,69.7 L575.0,69.4 L575.7,69.0 L576.3,68.7 L577.0,68.3 L577.7,68.0 L578.3,67.6 L579.0,67.3 L579.6,67.0 L580.3,66.6 L580.9,66.3 L581.6,66.0 L582.3,65.7 L582.9,65.4 L583.6,65.1 L584.2,64.8 L584.9,64.5 L585.6,64.2 L586.2,63.9 L586.9,63.6 L587.5,63.4 L588.2,63.1 L588.9,62.8 L589.5,62.6 L590.2,62.3 L590.8,62.1 L591.5,61.8 L592.2,61.6 L592.8,61.3 L593.5,61.1 L594.1,60.9 L594.8,60.6 L595.5,60.4 L596.1,60.2 L596.8,60.0 L597.4,59.8 L598.1,59.5 L598.7,59.3 L599.4,59.1 L600.1,58.9 L600.7,58.7 L601.4,58.5 L602.0,58.3 L602.7,58.1 L603.4,57.9 L604.0,57.7 L604.7,57.5 L605.3,57.3 L606.0,57.1 L606.7,56.9 L607.3,56.7 L608.0,56.6 L608.6,56.4 L609.3,56.2 L610.0,56.0 L610.6,55.8 L611.3,55.6 L611.9,55.4 L612.6,55.2 L613.2,55.1 L613.9,54.9 L614.6,54.7 L615.2,54.5 L615.9,54.3 L616.5,54.1 L617.2,53.9 L617.9,53.7 L618.5,53.5 L619.2,53.3 L619.8,53.1 L620.5,52.9 L621.2,52.7 L621.8,52.5 L622.5,52.3 L623.1,52.0 L623.8,51.8 L624.5,51.6 L625.1,51.4 L625.8,51.2 L626.4,50.9 L627.1,50.7 L627.8,50.4 L628.4,50.2 L629.1,49.9 L629.7,49.7 L630.4,49.4 L631.0,49.1 L631.7,48.9 L632.4,48.6 L633.0,48.3 L633.7,48.0 L634.3,47.7 L635.0,47.4 L635.7,47.1 L636.3,46.7 L637.0,46.4 L637.6,46.1 L638.3,45.7 L639.0,45.4 L639.6,45.0 L640.3,44.6 L640.9,44.3 L641.6,43.9 L642.3,43.5 L642.9,43.1 L643.6,42.7 L644.2,42.3 L644.9,41.9 L645.6,41.4 L646.2,41.0 L646.9,40.6 L647.5,40.1 L648.2,39.7 L648.8,39.2 L649.5,38.7 L650.2,38.2 L650.8,37.7 L651.5,37.2 L652.1,36.7 L652.8,36.2 L653.5,35.7 L654.1,35.2 L654.8,34.6 L655.4,34.1 L656.1,33.5 L656.8,32.9 L657.4,32.4 L658.1,31.8 L658.7,31.2 L659.4,30.6 L660.1,30.0 L660.7,29.4 L661.4,28.8 L662.0,28.2 L662.7,27.5 L663.4,26.9 L664.0,26.2 L664.7,25.6 L665.3,24.9 L666.0,24.3 L666.6,23.6 L667.3,22.9 L668.0,22.2 L668.6,21.5 L669.3,20.8 L670.1,20.0 L670.8,19.2 L671.6,18.4 L672.3,17.6 L673.0,16.9 L673.5,16.3 L673.9,15.9" fill="none" stroke="#a8a8a8" stroke-width="0.9" stroke-dasharray="3.5,3"/>
<path d="M552.6,87.1 L553.2,86.7 L554.1,86.1 L555.0,85.4 L556.1,84.6 L557.3,83.7 L558.5,82.9 L559.6,82.1 L560.7,81.4 L561.7,80.8 L562.7,80.2 L563.7,79.6 L564.7,79.0 L565.7,78.4 L566.8,77.8 L567.8,77.3 L568.8,76.7 L569.8,76.2 L570.8,75.7 L571.8,75.2 L572.8,74.7 L573.8,74.2 L574.8,73.7 L575.8,73.2 L576.9,72.8 L577.9,72.3 L578.9,71.9 L579.9,71.4 L580.9,71.0 L581.9,70.6 L582.9,70.2 L583.9,69.7 L584.9,69.3 L586.0,68.9 L587.0,68.6 L588.0,68.2 L589.0,67.8 L590.0,67.4 L591.0,67.1 L592.0,66.7 L593.0,66.3 L594.0,66.0 L595.1,65.6 L596.1,65.3 L597.1,64.9 L598.1,64.6 L599.1,64.2 L600.1,63.9 L601.1,63.5 L602.1,63.2 L603.1,62.9 L604.2,62.5 L605.2,62.2 L606.2,61.9 L607.2,61.5 L608.2,61.2 L609.2,60.9 L610.2,60.5 L611.2,60.2 L612.2,59.9 L613.2,59.5 L614.3,59.2 L615.3,58.9 L616.3,58.6 L617.3,58.2 L618.3,57.9 L619.3,57.5 L620.3,57.2 L621.3,56.8 L622.3,56.4 L623.4,56.1 L624.4,55.7 L625.4,55.3 L626.4,54.9 L627.4,54.5 L628.4,54.1 L629.4,53.7 L630.4,53.2 L631.4,52.8 L632.5,52.3 L633.5,51.9 L634.5,51.4 L635.5,50.9 L636.5,50.4 L637.5,49.9 L638.5,49.3 L639.5,48.8 L640.5,48.2 L641.6,47.6 L642.6,47.0 L643.6,46.4 L644.6,45.8 L645.6,45.1 L646.6,44.4 L647.6,43.7 L648.6,43.0 L649.6,42.3 L650.7,41.5 L651.7,40.7 L652.7,39.9 L653.7,39.0 L654.7,38.2 L655.7,37.2 L656.7,36.3 L657.7,35.3 L658.7,34.3 L659.7,33.3 L660.8,32.2 L661.8,31.1 L662.8,30.0 L663.8,28.8 L664.8,27.6 L665.8,26.4 L666.9,25.0 L668.0,23.4 L669.2,21.7 L670.4,20.0 L671.5,18.4 L672.4,16.9 L673.3,15.7 L673.9,14.8" fill="none" stroke="#8a8a8a" stroke-width="1.3" stroke-linejoin="round" stroke-linecap="round"/>
<path d="M552.6,87.7 L553.2,87.3 L554.1,86.7 L555.0,86.0 L556.1,85.2 L557.3,84.3 L558.5,83.5 L559.6,82.7 L560.7,82.0 L561.7,81.4 L562.7,80.8 L563.7,80.2 L564.7,79.6 L565.7,79.0 L566.8,78.4 L567.8,77.9 L568.8,77.3 L569.8,76.8 L570.8,76.3 L571.8,75.8 L572.8,75.3 L573.8,74.8 L574.8,74.3 L575.8,73.8 L576.9,73.4 L577.9,72.9 L578.9,72.5 L579.9,72.0 L580.9,71.6 L581.9,71.2 L582.9,70.8 L583.9,70.3 L584.9,69.9 L586.0,69.5 L587.0,69.2 L588.0,68.8 L589.0,68.4 L590.0,68.0 L591.0,67.7 L592.0,67.3 L593.0,66.9 L594.0,66.6 L595.1,66.2 L596.1,65.9 L597.1,65.5 L598.1,65.2 L599.1,64.8 L600.1,64.5 L601.1,64.1 L602.1,63.8 L603.1,63.5 L604.2,63.1 L605.2,62.8 L606.2,62.5 L607.2,62.1 L608.2,61.8 L609.2,61.5 L610.2,61.1 L611.2,60.8 L612.2,60.5 L613.2,60.1 L614.3,59.8 L615.3,59.5 L616.3,59.2 L617.3,58.8 L618.3,58.5 L619.3,58.1 L620.3,57.8 L621.3,57.4 L622.3,57.0 L623.4,56.7 L624.4,56.3 L625.4,55.9 L626.4,55.5 L627.4,55.1 L628.4,54.7 L629.4,54.3 L630.4,53.8 L631.4,53.4 L632.5,52.9 L633.5,52.5 L634.5,52.0 L635.5,51.5 L636.5,51.0 L637.5,50.5 L638.5,49.9 L639.5,49.4 L640.5,48.8 L641.6,48.2 L642.6,47.6 L643.6,47.0 L644.6,46.4 L645.6,45.7 L646.6,45.0 L647.6,44.3 L648.6,43.6 L649.6,42.9 L650.7,42.1 L651.7,41.3 L652.7,40.5 L653.7,39.6 L654.7,38.8 L655.7,37.8 L656.7,36.9 L657.7,35.9 L658.7,34.9 L659.7,33.9 L660.8,32.8 L661.8,31.7 L662.8,30.6 L663.8,29.4 L664.8,28.2 L665.8,27.0 L666.9,25.6 L668.0,24.0 L669.2,22.3 L670.4,20.6 L671.5,19.0 L672.4,17.5 L673.3,16.3 L673.9,15.4" fill="none" stroke="#111" stroke-width="1.3" stroke-linejoin="round" stroke-linecap="round"/>
<path d="M552.6,85.7 L553.2,85.2 L554.1,84.6 L555.0,83.9 L556.1,83.1 L557.3,82.2 L558.5,81.4 L559.6,80.6 L560.7,79.9 L561.7,79.2 L562.7,78.5 L563.7,77.9 L564.7,77.3 L565.7,76.7 L566.8,76.1 L567.8,75.5 L568.8,74.9 L569.8,74.3 L570.8,73.8 L571.8,73.2 L572.8,72.7 L573.8,72.2 L574.8,71.7 L575.8,71.2 L576.9,70.7 L577.9,70.3 L578.9,69.8 L579.9,69.4 L580.9,68.9 L581.9,68.5 L582.9,68.1 L583.9,67.7 L584.9,67.3 L586.0,66.9 L587.0,66.5 L588.0,66.1 L589.0,65.8 L590.0,65.4 L591.0,65.1 L592.0,64.7 L593.0,64.4 L594.0,64.0 L595.1,63.7 L596.1,63.4 L597.1,63.1 L598.1,62.8 L599.1,62.4 L600.1,62.1 L601.1,61.8 L602.1,61.5 L603.1,61.2 L604.2,60.9 L605.2,60.6 L606.2,60.3 L607.2,60.0 L608.2,59.7 L609.2,59.4 L610.2,59.1 L611.2,58.8 L612.2,58.5 L613.2,58.2 L614.3,58.0 L615.3,57.7 L616.3,57.4 L617.3,57.1 L618.3,56.7 L619.3,56.4 L620.3,56.1 L621.3,55.8 L622.3,55.4 L623.4,55.1 L624.4,54.7 L625.4,54.4 L626.4,54.0 L627.4,53.6 L628.4,53.2 L629.4,52.8 L630.4,52.4 L631.4,52.0 L632.5,51.5 L633.5,51.1 L634.5,50.6 L635.5,50.1 L636.5,49.6 L637.5,49.1 L638.5,48.6 L639.5,48.0 L640.5,47.5 L641.6,46.9 L642.6,46.3 L643.6,45.7 L644.6,45.1 L645.6,44.4 L646.6,43.8 L647.6,43.1 L648.6,42.4 L649.6,41.7 L650.7,40.9 L651.7,40.2 L652.7,39.4 L653.7,38.6 L654.7,37.8 L655.7,37.0 L656.7,36.1 L657.7,35.2 L658.7,34.3 L659.7,33.4 L660.8,32.4 L661.8,31.5 L662.8,30.5 L663.8,29.5 L664.8,28.4 L665.8,27.4 L666.9,26.2 L668.0,24.9 L669.2,23.6 L670.4,22.2 L671.5,21.0 L672.4,19.8 L673.3,18.8 L673.9,18.1" fill="none" stroke="#ec1c24" stroke-width="1.3" stroke-linejoin="round" stroke-linecap="round"/>
<path d="M48.5,191.0 L48.5,191.0 L48.6,191.0 L48.8,190.9 L48.9,190.9 L49.1,190.9 L49.3,190.9 L49.5,190.8 L49.7,190.8 L49.9,190.8 L50.1,190.8 L50.2,190.8 L50.2,190.8 L50.3,190.7 L50.5,190.7 L50.9,190.6 L51.3,190.6 L51.7,190.7 L52.1,190.9 L52.6,191.1 L53.0,191.4 L53.5,191.8 L54.0,192.2 L54.4,192.7 L54.9,193.2 L55.5,193.7 L56.0,194.2 L56.5,194.7 L56.9,195.1 L57.4,195.5 L57.8,195.8 L58.2,196.0 L58.6,196.2 L59.0,196.4 L59.4,196.6 L59.8,196.8 L60.2,196.9 L60.6,197.1 L60.9,197.2 L61.3,197.3 L61.7,197.4 L62.0,197.5 L62.3,197.6 L62.6,197.7 L62.9,197.7 L63.2,197.8 L63.6,197.8 L63.9,197.9 L64.3,198.0 L64.7,198.1 L65.2,198.1 L65.6,198.2 L66.0,198.3 L66.4,198.4 L66.9,198.5 L67.3,198.6 L67.8,198.7 L68.2,198.8 L68.7,198.9 L69.1,199.0 L69.6,199.0 L70.0,199.1 L70.4,199.2 L70.8,199.3 L71.2,199.4 L71.6,199.5 L71.9,199.5 L72.3,199.6 L72.6,199.6 L73.0,199.7 L73.3,199.7 L73.7,199.7 L74.2,199.7 L74.7,199.7 L75.2,199.7 L75.7,199.7 L76.2,199.6 L76.7,199.6 L77.3,199.5 L77.8,199.5 L78.2,199.4 L78.6,199.3 L79.0,199.3 L79.3,199.2 L79.7,199.1 L80.0,199.1 L80.4,199.0 L80.8,198.8 L81.3,198.7 L81.8,198.6 L82.3,198.5 L82.9,198.3 L83.5,198.2 L84.1,198.1 L84.8,197.9 L85.5,197.7 L86.2,197.5 L87.0,197.4 L87.9,197.2 L88.7,197.0 L89.6,196.8 L90.6,196.7 L91.5,196.6 L92.5,196.4 L93.6,196.3 L94.6,196.2 L95.7,196.1 L96.7,195.9 L97.8,195.8 L98.8,195.7 L99.8,195.5 L100.8,195.3 L101.8,195.2 L102.8,195.0 L103.8,194.8 L104.8,194.6 L105.8,194.4 L106.8,194.2 L107.8,193.9 L108.8,193.7 L109.8,193.5 L110.8,193.3 L111.8,193.1 L112.9,192.9 L113.9,192.7 L114.9,192.4 L115.9,192.2 L116.9,192.0 L117.9,191.8 L118.9,191.5 L119.8,191.3 L120.7,191.1 L121.5,190.9 L122.3,190.7 L123.2,190.5 L123.9,190.3 L124.7,190.1 L125.5,189.9 L126.2,189.6 L126.9,189.4 L127.6,189.2 L128.3,188.9 L129.0,188.6 L129.7,188.3 L130.4,188.0 L131.1,187.7 L131.7,187.4 L132.4,187.1 L133.1,186.8 L133.7,186.4 L134.4,186.1 L135.1,185.8 L135.7,185.5 L136.3,185.2 L137.0,184.8 L137.6,184.5 L138.2,184.2 L138.8,183.9 L139.5,183.5 L140.1,183.2 L140.7,182.9 L141.4,182.5 L142.0,182.2 L142.7,181.9 L143.4,181.5 L144.0,181.2 L144.7,180.8 L145.3,180.5 L146.0,180.2 L146.6,179.9 L147.3,179.6 L147.8,179.4 L148.4,179.2 L148.9,179.0 L149.4,178.8 L150.0,178.6 L150.5,178.4 L151.1,178.3 L151.7,178.1 L152.3,178.1 L152.9,178.0 L153.5,178.0 L154.0,178.0 L154.6,178.0 L155.2,178.0 L155.8,178.1 L156.5,178.2 L157.1,178.4 L157.7,178.6 L158.4,178.9 L159.0,179.3 L159.7,179.7 L160.3,180.2 L160.9,180.8 L161.4,181.3 L162.0,181.9 L162.5,182.5 L163.0,183.0 L163.5,183.6 L164.0,184.1 L164.5,184.6 L165.0,185.2 L165.5,185.7 L166.0,186.3 L166.5,186.8 L167.0,187.4 L167.5,187.9 L168.0,188.4 L168.5,188.9 L168.9,189.4 L169.4,189.8 L169.8,190.3 L170.2,190.7 L170.7,191.1 L171.2,191.6 L171.6,192.0 L172.0,192.4 L172.5,192.7 L172.8,193.1 L173.1,193.4 L173.4,193.6 L171.6,196.0 L171.3,195.8 L171.0,195.6 L170.5,195.4 L170.1,195.1 L169.5,194.8 L169.0,194.4 L168.4,194.1 L167.8,193.7 L167.2,193.2 L166.6,192.8 L166.1,192.3 L165.6,191.8 L165.1,191.2 L164.5,190.7 L164.0,190.1 L163.5,189.5 L163.0,189.0 L162.5,188.4 L162.0,187.9 L161.5,187.4 L161.0,186.8 L160.5,186.3 L160.0,185.7 L159.5,185.1 L159.0,184.6 L158.6,184.1 L158.1,183.6 L157.7,183.3 L157.3,182.9 L157.0,182.7 L156.6,182.5 L156.3,182.4 L155.9,182.2 L155.5,182.1 L155.2,182.1 L154.8,182.0 L154.4,182.0 L154.0,182.0 L153.5,182.0 L153.1,182.0 L152.7,182.0 L152.4,182.1 L152.0,182.2 L151.6,182.3 L151.2,182.4 L150.8,182.6 L150.3,182.7 L149.8,182.9 L149.3,183.1 L148.7,183.4 L148.2,183.6 L147.6,183.8 L147.0,184.1 L146.3,184.3 L145.7,184.6 L145.0,184.9 L144.3,185.2 L143.6,185.5 L142.9,185.8 L142.3,186.1 L141.6,186.4 L141.0,186.7 L140.3,187.0 L139.6,187.2 L139.0,187.5 L138.3,187.8 L137.7,188.1 L137.0,188.3 L136.3,188.6 L135.6,188.9 L134.9,189.1 L134.2,189.4 L133.5,189.7 L132.8,189.9 L132.1,190.2 L131.4,190.5 L130.6,190.7 L129.9,191.0 L129.1,191.2 L128.4,191.4 L127.6,191.7 L126.8,191.9 L126.0,192.0 L125.2,192.2 L124.4,192.4 L123.6,192.6 L122.8,192.7 L122.0,192.9 L121.1,193.1 L120.2,193.3 L119.3,193.5 L118.3,193.7 L117.4,193.9 L116.4,194.1 L115.3,194.4 L114.3,194.6 L113.3,194.8 L112.2,195.0 L111.2,195.3 L110.2,195.5 L109.2,195.7 L108.2,195.9 L107.2,196.1 L106.2,196.3 L105.2,196.5 L104.2,196.7 L103.2,196.9 L102.2,197.1 L101.2,197.3 L100.2,197.5 L99.2,197.7 L98.1,197.9 L97.1,198.1 L96.0,198.3 L95.0,198.5 L94.0,198.8 L93.0,199.0 L92.1,199.2 L91.2,199.5 L90.4,199.8 L89.6,200.0 L88.9,200.4 L88.2,200.7 L87.6,201.1 L87.0,201.4 L86.4,201.8 L85.8,202.2 L85.2,202.5 L84.6,202.8 L84.1,203.1 L83.6,203.4 L83.2,203.6 L82.8,203.8 L82.4,204.0 L82.0,204.2 L81.6,204.4 L81.2,204.6 L80.8,204.8 L80.3,205.0 L79.8,205.2 L79.2,205.4 L78.7,205.6 L78.1,205.8 L77.6,206.0 L77.0,206.2 L76.3,206.3 L75.7,206.5 L75.1,206.7 L74.5,206.8 L73.9,206.9 L73.2,207.0 L72.6,207.0 L72.1,207.1 L71.5,207.1 L71.0,207.1 L70.4,207.1 L69.9,207.1 L69.4,207.0 L68.9,207.0 L68.4,207.0 L67.9,206.9 L67.4,206.8 L66.8,206.7 L66.3,206.7 L65.7,206.5 L65.2,206.4 L64.6,206.3 L64.1,206.2 L63.5,206.0 L63.0,205.9 L62.6,205.7 L62.1,205.5 L61.7,205.4 L61.2,205.2 L60.8,205.0 L60.3,204.8 L59.8,204.5 L59.3,204.2 L58.8,203.9 L58.3,203.6 L57.9,203.2 L57.4,202.9 L57.0,202.5 L56.6,202.1 L56.2,201.7 L55.8,201.2 L55.4,200.8 L55.0,200.3 L54.6,199.8 L54.2,199.2 L53.8,198.6 L53.4,198.0 L53.0,197.3 L52.6,196.7 L52.3,196.0 L52.0,195.4 L51.7,194.8 L51.4,194.3 L51.2,193.9 L51.0,193.6 L50.9,193.4 L50.8,193.3 L50.8,193.3 L50.8,193.3 L50.8,193.2 L50.8,193.2 L50.7,193.2 L50.5,193.2 L50.2,193.2 L49.9,193.2 L49.7,193.2 L49.6,193.1 L49.5,193.1 L49.3,193.1 L49.2,193.0 L49.0,193.0 L48.9,193.0 L48.8,193.0 L48.6,193.0 L48.5,193.0 Z" fill="#d9d9d9" stroke="#d0d0d0" stroke-width="0.5"/>
<path d="M48.0,193.0 L48.2,192.5 L48.3,191.9 L48.6,191.2 L48.8,190.3 L49.1,189.4 L49.4,188.3 L49.7,187.2 L50.0,186.0 L50.3,184.7 L50.6,183.2 L50.9,181.6 L51.2,179.9 L51.5,178.1 L51.9,176.4 L52.2,174.7 L52.5,173.0 L52.8,171.4 L53.1,169.7 L53.4,168.0 L53.8,166.3 L54.1,164.7 L54.4,163.0 L54.7,161.5 L55.0,160.0 L55.3,158.6 L55.6,157.2 L56.0,155.8 L56.3,154.5 L56.6,153.2 L56.9,152.0 L57.2,151.0 L57.5,150.0 L57.7,149.2 L57.9,148.5 L58.1,148.0 L58.2,147.5 L58.4,147.1 L58.5,146.6 L58.7,146.1 L59.0,145.5 L59.3,144.8 L59.6,144.1 L60.0,143.3 L60.3,142.6 L60.7,141.8 L61.1,141.0 L61.6,140.2 L62.0,139.5 L62.5,138.8 L62.9,138.1 L63.4,137.4 L63.9,136.7 L64.4,136.0 L65.0,135.3 L65.5,134.6 L66.0,134.0 L66.5,133.4 L67.0,132.8 L67.6,132.2 L68.1,131.7 L68.7,131.1 L69.2,130.6 L69.7,130.0 L70.3,129.5 L70.9,129.0 L71.5,128.4 L72.1,127.9 L72.7,127.3 L73.3,126.8 L73.9,126.3 L74.4,125.9 L74.9,125.6 L75.3,125.3 L75.6,125.2 L75.9,125.0 L76.2,124.9 L76.5,124.9 L76.7,124.9 L76.9,124.9 L77.2,124.9 L77.5,124.9 L77.7,125.0 L78.0,125.1 L78.2,125.3 L78.5,125.4 L78.7,125.6 L79.0,125.8 L79.2,126.0 L79.4,126.2 L79.6,126.5 L79.8,126.7 L80.0,127.0 L80.2,127.3 L80.5,127.7 L80.7,128.1 L81.0,128.5 L81.3,129.0 L81.7,129.6 L82.0,130.1 L82.4,130.8 L82.8,131.4 L83.2,132.1 L83.6,132.8 L84.0,133.5 L84.4,134.2 L84.8,135.0 L85.2,135.8 L85.6,136.6 L86.0,137.4 L86.4,138.1 L86.8,138.8 L87.2,139.5 L87.6,140.1 L87.9,140.6 L88.2,141.1 L88.5,141.6 L88.8,142.1 L89.2,142.5 L89.5,143.0 L90.0,143.5 L90.5,144.1 L91.1,144.6 L91.7,145.3 L92.4,145.9 L93.0,146.5 L93.7,147.0 L94.4,147.6 L95.0,148.0 L95.6,148.4 L96.2,148.7 L96.9,149.0 L97.5,149.2 L98.1,149.5 L98.8,149.7 L99.4,149.8 L100.0,150.0 L100.6,150.1 L101.2,150.3 L101.9,150.3 L102.5,150.4 L103.1,150.5 L103.8,150.5 L104.4,150.5 L105.0,150.5 L105.6,150.5 L106.2,150.5 L106.9,150.4 L107.5,150.4 L108.1,150.3 L108.8,150.2 L109.4,150.1 L110.0,150.0 L110.6,149.9 L111.2,149.7 L111.9,149.6 L112.5,149.4 L113.1,149.2 L113.8,149.0 L114.4,148.7 L115.0,148.5 L115.6,148.2 L116.2,148.0 L116.9,147.7 L117.5,147.4 L118.1,147.1 L118.8,146.8 L119.4,146.4 L120.0,146.0 L120.6,145.6 L121.2,145.1 L121.9,144.7 L122.5,144.2 L123.1,143.7 L123.8,143.1 L124.4,142.6 L125.0,142.0 L125.6,141.4 L126.2,140.7 L126.9,140.0 L127.5,139.3 L128.1,138.6 L128.8,137.8 L129.4,137.1 L130.0,136.5 L130.6,135.9 L131.2,135.3 L131.9,134.7 L132.5,134.1 L133.1,133.5 L133.8,133.0 L134.4,132.5 L135.0,132.0 L135.6,131.6 L136.3,131.2 L136.9,130.8 L137.6,130.4 L138.2,130.1 L138.9,129.8 L139.5,129.5 L140.0,129.3 L140.5,129.1 L141.0,128.9 L141.4,128.8 L141.8,128.6 L142.2,128.5 L142.6,128.5 L143.0,128.4 L143.4,128.4 L143.8,128.4 L144.2,128.4 L144.6,128.4 L145.0,128.5 L145.4,128.5 L145.8,128.6 L146.1,128.8 L146.5,129.0 L146.8,129.2 L147.2,129.5 L147.5,129.9 L147.8,130.2 L148.1,130.6 L148.4,131.1 L148.8,131.5 L149.1,132.0 L149.4,132.5 L149.8,133.1 L150.2,133.6 L150.5,134.2 L150.9,134.9 L151.3,135.6 L151.6,136.3 L152.0,137.0 L152.4,137.8 L152.7,138.6 L153.1,139.4 L153.5,140.3 L153.9,141.2 L154.2,142.1 L154.6,143.1 L155.0,144.0 L155.4,144.9 L155.8,145.9 L156.1,146.9 L156.5,147.9 L156.9,148.9 L157.2,149.9 L157.6,150.9 L158.0,152.0 L158.4,153.1 L158.8,154.2 L159.1,155.3 L159.5,156.4 L159.9,157.6 L160.2,158.7 L160.6,159.9 L161.0,161.0 L161.4,162.1 L161.8,163.2 L162.1,164.4 L162.5,165.5 L162.9,166.6 L163.2,167.8 L163.6,168.9 L164.0,170.0 L164.4,171.1 L164.8,172.3 L165.1,173.4 L165.5,174.6 L165.9,175.7 L166.2,176.8 L166.6,177.9 L167.0,179.0 L167.4,180.1 L167.8,181.1 L168.1,182.2 L168.5,183.2 L168.9,184.2 L169.3,185.2 L169.6,186.1 L170.0,187.0 L170.3,187.9 L170.7,188.7 L171.0,189.6 L171.3,190.4 L171.7,191.1 L172.0,191.8 L172.2,192.5 L172.5,193.0 L172.7,193.5 L173.0,193.8 L173.2,194.1 L173.4,194.4 L173.6,194.6 L173.8,194.7 L173.9,194.9 L174.0,195.0 L174.0,195.0 L173.8,194.7 L173.6,194.3 L173.2,193.9 L172.9,193.4 L172.5,192.8 L172.2,192.2 L171.8,191.6 L171.5,191.0 L171.2,190.4 L170.9,189.7 L170.6,189.0 L170.3,188.2 L170.0,187.5 L169.7,186.7 L169.3,185.9 L169.0,185.0 L168.6,184.1 L168.3,183.2 L167.9,182.2 L167.5,181.2 L167.1,180.2 L166.8,179.1 L166.4,178.1 L166.0,177.0 L165.6,175.9 L165.2,174.8 L164.9,173.7 L164.5,172.6 L164.1,171.5 L163.8,170.3 L163.4,169.2 L163.0,168.0 L162.6,166.8 L162.2,165.6 L161.9,164.4 L161.5,163.2 L161.1,162.0 L160.8,160.8 L160.4,159.6 L160.0,158.5 L159.6,157.4 L159.2,156.3 L158.9,155.2 L158.5,154.1 L158.1,153.1 L157.8,152.0 L157.4,151.0 L157.0,150.0 L156.6,149.0 L156.2,148.0 L155.9,147.0 L155.5,146.0 L155.1,145.0 L154.8,144.1 L154.4,143.3 L154.0,142.5 L153.6,141.8 L153.2,141.1 L152.9,140.5 L152.5,139.9 L152.1,139.4 L151.7,138.9 L151.4,138.4 L151.0,138.0 L150.7,137.6 L150.4,137.2 L150.1,136.9 L149.8,136.5 L149.5,136.2 L149.2,136.0 L148.9,135.7 L148.5,135.5 L148.1,135.3 L147.7,135.1 L147.3,134.9 L146.8,134.8 L146.4,134.7 L145.9,134.6 L145.5,134.5 L145.0,134.5 L144.5,134.5 L144.0,134.6 L143.5,134.7 L143.0,134.8 L142.5,134.9 L142.0,135.1 L141.5,135.3 L141.0,135.5 L140.5,135.7 L140.0,136.0 L139.5,136.2 L139.1,136.5 L138.6,136.9 L138.1,137.2 L137.5,137.6 L137.0,138.0 L136.4,138.4 L135.8,138.9 L135.2,139.5 L134.6,140.0 L133.9,140.6 L133.3,141.2 L132.6,141.7 L132.0,142.3 L131.4,142.9 L130.8,143.4 L130.1,144.0 L129.5,144.6 L128.9,145.2 L128.2,145.8 L127.6,146.4 L127.0,147.0 L126.4,147.6 L125.8,148.3 L125.1,148.9 L124.5,149.5 L123.9,150.2 L123.2,150.8 L122.6,151.4 L122.0,152.0 L121.4,152.6 L120.8,153.1 L120.1,153.6 L119.5,154.2 L118.9,154.7 L118.2,155.1 L117.6,155.6 L117.0,156.0 L116.4,156.4 L115.8,156.8 L115.1,157.1 L114.5,157.4 L113.9,157.7 L113.2,158.0 L112.6,158.3 L112.0,158.5 L111.4,158.7 L110.8,158.9 L110.1,159.0 L109.5,159.2 L108.9,159.3 L108.2,159.4 L107.6,159.4 L107.0,159.5 L106.4,159.6 L105.8,159.6 L105.1,159.6 L104.5,159.6 L103.9,159.6 L103.2,159.6 L102.6,159.6 L102.0,159.5 L101.4,159.4 L100.7,159.4 L100.1,159.3 L99.4,159.2 L98.8,159.0 L98.2,158.9 L97.6,158.7 L97.0,158.5 L96.5,158.3 L96.0,158.0 L95.5,157.7 L95.0,157.4 L94.5,157.1 L94.1,156.8 L93.7,156.4 L93.3,156.0 L92.9,155.6 L92.6,155.1 L92.3,154.7 L92.1,154.2 L91.8,153.6 L91.5,153.1 L91.3,152.6 L91.0,152.0 L90.7,151.4 L90.4,150.8 L90.2,150.2 L89.9,149.6 L89.6,149.0 L89.3,148.3 L89.0,147.7 L88.7,147.0 L88.3,146.3 L88.0,145.5 L87.6,144.8 L87.1,144.0 L86.7,143.2 L86.3,142.4 L85.9,141.7 L85.5,141.0 L85.1,140.3 L84.7,139.7 L84.4,139.1 L84.0,138.5 L83.7,137.9 L83.3,137.3 L82.9,136.8 L82.6,136.3 L82.3,135.9 L81.9,135.4 L81.6,135.1 L81.3,134.7 L81.0,134.4 L80.7,134.1 L80.3,133.8 L80.0,133.5 L79.7,133.2 L79.3,132.9 L78.9,132.7 L78.6,132.4 L78.2,132.2 L77.9,132.0 L77.5,131.9 L77.2,131.8 L76.9,131.8 L76.6,131.8 L76.4,131.8 L76.1,131.9 L75.9,132.0 L75.6,132.2 L75.3,132.3 L75.0,132.5 L74.7,132.7 L74.3,132.9 L73.9,133.2 L73.6,133.5 L73.2,133.8 L72.8,134.1 L72.3,134.4 L71.9,134.8 L71.5,135.2 L71.0,135.6 L70.5,136.0 L70.0,136.5 L69.5,137.0 L69.0,137.5 L68.5,138.0 L68.0,138.5 L67.5,139.1 L67.0,139.7 L66.5,140.3 L66.0,141.0 L65.5,141.7 L65.0,142.3 L64.5,142.9 L64.0,143.5 L63.5,144.0 L63.0,144.4 L62.5,144.9 L62.1,145.2 L61.6,145.6 L61.2,146.1 L60.8,146.5 L60.4,147.0 L60.1,147.5 L59.8,148.0 L59.6,148.4 L59.3,148.9 L59.1,149.5 L58.9,150.2 L58.7,151.0 L58.5,152.0 L58.3,153.2 L58.0,154.6 L57.8,156.2 L57.5,157.9 L57.3,159.6 L57.0,161.4 L56.8,163.2 L56.5,165.0 L56.2,166.8 L55.9,168.7 L55.6,170.7 L55.3,172.7 L55.0,174.7 L54.7,176.6 L54.3,178.4 L54.0,180.0 L53.6,181.5 L53.3,183.0 L52.9,184.4 L52.5,185.8 L52.1,187.0 L51.8,188.1 L51.4,189.1 L51.0,190.0 L50.6,190.7 L50.2,191.3 L49.7,191.8 L49.3,192.1 L48.9,192.4 L48.5,192.6 L48.2,192.8 L48.0,193.0 Z" fill="#d9d9d9" stroke="#d0d0d0" stroke-width="0.5"/>
<path d="M48.5,192.0 L48.6,192.0 L48.8,192.0 L48.9,192.0 L49.1,192.0 L49.3,192.0 L49.6,192.0 L49.8,192.0 L50.0,192.0 L50.2,192.0 L50.4,192.0 L50.6,192.0 L50.8,191.9 L51.1,192.0 L51.3,192.0 L51.7,192.2 L52.0,192.5 L52.4,192.9 L52.9,193.5 L53.4,194.1 L53.9,194.8 L54.4,195.6 L55.0,196.3 L55.5,196.9 L56.0,197.5 L56.5,198.0 L57.0,198.4 L57.5,198.8 L58.0,199.2 L58.5,199.6 L59.0,199.9 L59.5,200.2 L60.0,200.5 L60.5,200.8 L61.0,201.0 L61.5,201.2 L62.0,201.4 L62.5,201.5 L63.0,201.7 L63.5,201.8 L64.1,202.0 L64.7,202.2 L65.3,202.3 L65.9,202.4 L66.5,202.6 L67.1,202.7 L67.8,202.8 L68.4,202.9 L69.0,203.0 L69.6,203.1 L70.2,203.2 L70.7,203.2 L71.3,203.3 L71.8,203.3 L72.4,203.3 L73.0,203.3 L73.6,203.3 L74.2,203.2 L74.9,203.2 L75.6,203.0 L76.3,202.9 L77.0,202.8 L77.7,202.6 L78.4,202.5 L79.0,202.3 L79.6,202.1 L80.1,202.0 L80.5,201.8 L81.0,201.6 L81.5,201.5 L82.0,201.3 L82.6,201.0 L83.2,200.8 L83.9,200.5 L84.6,200.2 L85.4,199.9 L86.2,199.6 L87.1,199.2 L88.0,198.9 L89.0,198.6 L90.0,198.3 L91.1,198.0 L92.3,197.8 L93.5,197.6 L94.8,197.4 L96.1,197.2 L97.4,196.9 L98.7,196.7 L100.0,196.5 L101.2,196.3 L102.5,196.0 L103.8,195.8 L105.0,195.5 L106.2,195.3 L107.5,195.0 L108.8,194.8 L110.0,194.5 L111.3,194.2 L112.5,194.0 L113.8,193.7 L115.1,193.4 L116.4,193.1 L117.6,192.8 L118.8,192.6 L120.0,192.3 L121.1,192.0 L122.2,191.8 L123.2,191.6 L124.2,191.3 L125.2,191.1 L126.1,190.9 L127.1,190.6 L128.0,190.3 L128.9,190.0 L129.8,189.7 L130.7,189.3 L131.6,189.0 L132.5,188.6 L133.3,188.2 L134.2,187.9 L135.0,187.5 L135.8,187.1 L136.7,186.8 L137.5,186.4 L138.3,186.0 L139.1,185.6 L139.9,185.3 L140.7,184.9 L141.5,184.5 L142.3,184.1 L143.2,183.7 L144.0,183.3 L144.8,182.9 L145.7,182.5 L146.5,182.1 L147.3,181.8 L148.0,181.5 L148.7,181.2 L149.4,181.0 L150.0,180.7 L150.6,180.5 L151.2,180.3 L151.8,180.2 L152.4,180.1 L153.0,180.0 L153.6,180.0 L154.2,180.0 L154.9,180.0 L155.5,180.1 L156.1,180.2 L156.8,180.4 L157.4,180.7 L158.0,181.0 L158.6,181.4 L159.2,182.0 L159.9,182.6 L160.5,183.2 L161.1,183.9 L161.8,184.6 L162.4,185.3 L163.0,186.0 L163.6,186.7 L164.3,187.3 L164.9,188.0 L165.5,188.7 L166.2,189.4 L166.8,190.1 L167.4,190.7 L168.0,191.3 L168.6,191.8 L169.3,192.4 L169.9,192.9 L170.6,193.4 L171.2,193.8 L171.7,194.2 L172.2,194.5 L172.5,194.8" fill="none" stroke="#a8a8a8" stroke-width="0.9" stroke-dasharray="3.5,3"/>
<path d="M49.0,192.0 L49.2,191.1 L49.5,189.9 L49.9,188.5 L50.3,186.9 L50.7,185.2 L51.2,183.5 L51.6,181.7 L52.0,180.0 L52.4,178.3 L52.7,176.5 L53.1,174.6 L53.5,172.7 L53.8,170.8 L54.2,168.8 L54.6,166.9 L55.0,165.0 L55.4,163.1 L55.9,161.1 L56.3,159.0 L56.8,157.0 L57.2,155.0 L57.7,153.2 L58.1,151.5 L58.5,150.0 L58.9,148.7 L59.2,147.6 L59.5,146.7 L59.8,145.9 L60.1,145.1 L60.3,144.4 L60.7,143.7 L61.0,143.0 L61.3,142.3 L61.7,141.6 L62.0,141.0 L62.4,140.4 L62.8,139.8 L63.2,139.2 L63.7,138.5 L64.2,137.9 L64.8,137.2 L65.5,136.5 L66.2,135.8 L67.0,135.1 L67.8,134.4 L68.7,133.7 L69.5,133.1 L70.3,132.5 L71.1,132.0 L72.0,131.4 L72.9,130.9 L73.8,130.4 L74.7,130.0 L75.6,129.7 L76.4,129.5 L77.2,129.5 L77.9,129.6 L78.6,129.8 L79.3,130.1 L80.0,130.5 L80.6,131.1 L81.2,131.7 L81.9,132.4 L82.6,133.3 L83.3,134.3 L84.1,135.6 L84.9,136.9 L85.7,138.4 L86.5,139.9 L87.3,141.4 L88.0,142.8 L88.7,144.0 L89.3,145.1 L90.0,146.2 L90.5,147.3 L91.1,148.3 L91.6,149.2 L92.2,150.1 L92.7,150.9 L93.3,151.6 L93.9,152.2 L94.5,152.7 L95.0,153.1 L95.6,153.5 L96.2,153.8 L96.8,154.1 L97.4,154.3 L98.0,154.5 L98.6,154.7 L99.2,154.8 L99.9,154.9 L100.5,155.0 L101.1,155.0 L101.7,155.0 L102.4,155.0 L103.0,155.0 L103.6,155.0 L104.2,154.9 L104.9,154.8 L105.5,154.6 L106.1,154.5 L106.8,154.3 L107.4,154.2 L108.0,154.0 L108.6,153.8 L109.2,153.7 L109.9,153.5 L110.5,153.3 L111.1,153.2 L111.8,153.0 L112.4,152.7 L113.0,152.5 L113.6,152.2 L114.2,152.0 L114.8,151.7 L115.4,151.4 L116.1,151.1 L116.7,150.8 L117.3,150.4 L118.0,150.0 L118.7,149.5 L119.4,149.1 L120.2,148.5 L120.9,148.0 L121.7,147.4 L122.5,146.8 L123.2,146.1 L124.0,145.5 L124.8,144.8 L125.5,144.1 L126.2,143.3 L127.0,142.6 L127.8,141.8 L128.5,141.0 L129.2,140.2 L130.0,139.5 L130.8,138.8 L131.5,138.0 L132.3,137.3 L133.1,136.5 L133.8,135.8 L134.6,135.2 L135.3,134.5 L136.0,134.0 L136.7,133.5 L137.3,133.1 L138.0,132.7 L138.6,132.4 L139.2,132.1 L139.8,131.9 L140.4,131.7 L141.0,131.5 L141.5,131.4 L142.1,131.3 L142.6,131.2 L143.1,131.2 L143.5,131.2 L144.0,131.3 L144.5,131.4 L145.0,131.5 L145.5,131.7 L146.0,131.9 L146.5,132.2 L147.1,132.5 L147.6,132.8 L148.1,133.2 L148.5,133.6 L149.0,134.0 L149.4,134.4 L149.8,134.9 L150.2,135.4 L150.5,135.9 L150.9,136.5 L151.2,137.1 L151.6,137.8 L152.0,138.5 L152.4,139.3 L152.9,140.1 L153.3,141.0 L153.8,142.0 L154.2,142.9 L154.6,143.9 L155.1,145.0 L155.5,146.0 L155.9,147.1 L156.3,148.1 L156.7,149.3 L157.0,150.4 L157.4,151.6 L157.8,152.7 L158.1,153.9 L158.5,155.0 L158.9,156.1 L159.2,157.2 L159.6,158.4 L160.0,159.5 L160.4,160.6 L160.8,161.8 L161.1,162.9 L161.5,164.0 L161.9,165.1 L162.2,166.2 L162.6,167.4 L163.0,168.5 L163.4,169.6 L163.8,170.8 L164.1,171.9 L164.5,173.0 L164.9,174.1 L165.2,175.3 L165.6,176.5 L166.0,177.6 L166.4,178.8 L166.8,179.9 L167.1,181.0 L167.5,182.0 L167.9,183.0 L168.3,184.1 L168.8,185.1 L169.2,186.1 L169.6,187.0 L170.0,187.8 L170.3,188.5 L170.5,189.0" fill="none" stroke="#a8a8a8" stroke-width="0.9" stroke-dasharray="3.5,3"/>
<path d="M48.5,193.0 L48.8,191.6 L49.2,189.9 L49.7,187.7 L50.3,185.4 L50.9,182.8 L51.5,180.3 L52.1,177.7 L52.6,175.3 L53.1,172.9 L53.6,170.3 L54.1,167.7 L54.7,165.1 L55.2,162.5 L55.6,160.1 L56.1,157.9 L56.5,156.0 L56.9,154.4 L57.2,153.0 L57.5,151.8 L57.8,150.7 L58.0,149.8 L58.3,149.0 L58.5,148.2 L58.8,147.5 L59.1,146.9 L59.3,146.5 L59.5,146.2 L59.7,146.0 L60.0,145.8 L60.3,145.6 L60.6,145.4 L61.0,145.0 L61.5,144.5 L62.0,144.0 L62.6,143.5 L63.3,142.9 L63.9,142.3 L64.6,141.7 L65.3,141.1 L66.0,140.5 L66.7,139.9 L67.4,139.3 L68.1,138.8 L68.9,138.2 L69.6,137.6 L70.4,137.0 L71.2,136.5 L72.0,136.0 L72.8,135.5 L73.8,135.0 L74.7,134.6 L75.6,134.1 L76.6,133.7 L77.4,133.4 L78.3,133.1 L79.0,132.8 L79.6,132.6 L80.2,132.5 L80.6,132.4 L81.1,132.3 L81.5,132.3 L81.9,132.3 L82.4,132.4 L83.0,132.5 L83.7,132.7 L84.4,132.9 L85.1,133.2 L85.9,133.5 L86.7,133.9 L87.5,134.2 L88.2,134.6 L89.0,135.0 L89.8,135.4 L90.5,135.8 L91.3,136.2 L92.1,136.7 L92.8,137.1 L93.6,137.6 L94.3,138.0 L95.0,138.5 L95.7,139.0 L96.3,139.5 L96.9,139.9 L97.5,140.4 L98.1,140.9 L98.7,141.5 L99.3,142.0 L100.0,142.5 L100.7,143.1 L101.5,143.6 L102.2,144.2 L103.0,144.8 L103.8,145.4 L104.5,146.0 L105.3,146.5 L106.0,147.0 L106.7,147.4 L107.3,147.8 L107.9,148.2 L108.6,148.5 L109.2,148.8 L109.8,149.1 L110.4,149.3 L111.0,149.5 L111.6,149.7 L112.2,149.8 L112.8,149.9 L113.4,150.0 L114.1,150.1 L114.7,150.1 L115.3,150.1 L116.0,150.0 L116.7,149.9 L117.4,149.7 L118.2,149.5 L118.9,149.3 L119.7,149.0 L120.5,148.7 L121.2,148.4 L122.0,148.0 L122.8,147.6 L123.5,147.1 L124.3,146.6 L125.1,146.1 L125.8,145.6 L126.6,145.0 L127.3,144.5 L128.0,144.0 L128.7,143.5 L129.3,143.1 L129.9,142.7 L130.6,142.2 L131.2,141.8 L131.8,141.4 L132.4,141.0 L133.0,140.5 L133.6,140.0 L134.2,139.5 L134.9,139.0 L135.5,138.4 L136.1,137.9 L136.8,137.4 L137.4,136.9 L138.0,136.5 L138.6,136.1 L139.3,135.7 L139.9,135.3 L140.6,135.0 L141.2,134.7 L141.8,134.4 L142.4,134.2 L143.0,134.0 L143.5,133.9 L144.1,133.8 L144.6,133.7 L145.1,133.7 L145.5,133.7 L146.0,133.7 L146.5,133.8 L147.0,134.0 L147.5,134.2 L148.0,134.5 L148.5,134.8 L149.1,135.2 L149.6,135.6 L150.1,136.0 L150.5,136.5 L151.0,137.0 L151.4,137.5 L151.8,138.1 L152.2,138.6 L152.6,139.2 L152.9,139.9 L153.3,140.6 L153.6,141.3 L154.0,142.0 L154.4,142.8 L154.8,143.6 L155.1,144.4 L155.5,145.2 L155.9,146.1 L156.2,147.1 L156.6,148.0 L157.0,149.0 L157.4,150.0 L157.8,151.1 L158.1,152.2 L158.5,153.3 L158.9,154.5 L159.2,155.6 L159.6,156.8 L160.0,158.0 L160.4,159.2 L160.8,160.4 L161.1,161.7 L161.5,162.9 L161.9,164.2 L162.2,165.5 L162.6,166.7 L163.0,168.0 L163.4,169.3 L163.8,170.5 L164.1,171.8 L164.5,173.1 L164.9,174.4 L165.2,175.6 L165.6,176.8 L166.0,178.0 L166.4,179.1 L166.8,180.2 L167.1,181.2 L167.5,182.2 L167.9,183.2 L168.2,184.2 L168.6,185.1 L169.0,186.0 L169.4,186.9 L169.8,187.9 L170.3,188.8 L170.7,189.8 L171.1,190.6 L171.5,191.4 L171.8,192.0 L172.0,192.5" fill="none" stroke="#8a8a8a" stroke-width="1.3" stroke-linejoin="round" stroke-linecap="round"/>
<path d="M48.5,193.0 L48.6,192.8 L48.7,192.5 L48.9,192.2 L49.1,191.9 L49.3,191.4 L49.5,190.8 L49.7,190.0 L50.0,189.0 L50.3,187.7 L50.6,186.2 L50.9,184.4 L51.3,182.5 L51.6,180.6 L52.0,178.7 L52.3,176.9 L52.6,175.3 L52.9,173.8 L53.1,172.5 L53.4,171.1 L53.6,169.9 L53.8,168.6 L54.0,167.4 L54.3,166.2 L54.5,165.0 L54.7,163.8 L55.0,162.6 L55.2,161.5 L55.5,160.4 L55.8,159.3 L56.0,158.2 L56.3,157.1 L56.5,156.0 L56.7,154.9 L57.0,153.7 L57.2,152.5 L57.5,151.3 L57.7,150.1 L57.9,149.1 L58.2,148.2 L58.4,147.4 L58.6,146.8 L58.8,146.5 L59.0,146.2 L59.2,146.1 L59.5,146.0 L59.7,145.9 L60.0,145.7 L60.3,145.5 L60.7,145.2 L61.1,144.8 L61.5,144.4 L62.0,144.1 L62.5,143.7 L63.0,143.3 L63.5,142.9 L64.0,142.5 L64.5,142.2 L64.9,141.8 L65.4,141.5 L65.9,141.2 L66.3,140.9 L66.8,140.5 L67.4,140.2 L67.9,139.8 L68.5,139.4 L69.1,138.9 L69.7,138.5 L70.3,138.0 L70.9,137.5 L71.6,137.0 L72.3,136.5 L73.0,136.0 L73.8,135.5 L74.6,135.0 L75.4,134.4 L76.3,133.9 L77.1,133.4 L78.0,132.9 L78.7,132.5 L79.4,132.2 L80.0,132.0 L80.5,131.8 L80.9,131.7 L81.3,131.6 L81.8,131.6 L82.2,131.6 L82.7,131.7 L83.2,131.8 L83.8,132.0 L84.5,132.2 L85.2,132.4 L85.9,132.7 L86.6,133.0 L87.4,133.4 L88.2,133.7 L88.9,134.1 L89.7,134.5 L90.4,134.9 L91.2,135.3 L92.0,135.7 L92.8,136.1 L93.6,136.6 L94.3,137.0 L95.0,137.5 L95.6,138.0 L96.2,138.5 L96.8,139.0 L97.3,139.6 L97.9,140.1 L98.4,140.7 L98.9,141.2 L99.5,141.7 L100.1,142.2 L100.6,142.7 L101.2,143.2 L101.7,143.6 L102.3,144.1 L102.8,144.6 L103.4,145.0 L104.0,145.5 L104.6,146.0 L105.2,146.4 L105.8,146.9 L106.5,147.4 L107.1,147.8 L107.8,148.2 L108.4,148.6 L109.1,149.0 L109.8,149.3 L110.4,149.7 L111.1,150.0 L111.8,150.3 L112.5,150.5 L113.2,150.7 L114.0,150.9 L114.8,150.9 L115.7,150.9 L116.6,150.7 L117.6,150.6 L118.7,150.3 L119.7,150.0 L120.7,149.7 L121.6,149.4 L122.4,149.0 L123.1,148.6 L123.8,148.1 L124.3,147.6 L124.9,147.1 L125.4,146.5 L125.9,146.0 L126.4,145.5 L127.0,145.0 L127.6,144.6 L128.2,144.2 L128.8,143.8 L129.4,143.5 L130.1,143.1 L130.7,142.7 L131.3,142.2 L132.0,141.7 L132.7,141.0 L133.4,140.2 L134.2,139.4 L134.9,138.5 L135.6,137.6 L136.3,136.8 L137.0,136.1 L137.6,135.5 L138.1,135.1 L138.6,134.8 L139.0,134.6 L139.4,134.4 L139.8,134.3 L140.1,134.2 L140.5,134.1 L141.0,134.0 L141.5,133.8 L142.0,133.7 L142.6,133.5 L143.2,133.4 L143.8,133.2 L144.3,133.1 L144.8,133.1 L145.3,133.1 L145.7,133.2 L146.1,133.3 L146.4,133.4 L146.7,133.6 L147.0,133.8 L147.3,134.0 L147.7,134.3 L148.0,134.5 L148.4,134.7 L148.7,135.0 L149.1,135.3 L149.5,135.6 L149.9,135.9 L150.2,136.2 L150.6,136.6 L151.0,137.0 L151.4,137.5 L151.8,138.0 L152.1,138.5 L152.5,139.0 L152.9,139.6 L153.3,140.2 L153.6,140.9 L154.0,141.5 L154.4,142.2 L154.7,142.9 L155.1,143.6 L155.4,144.4 L155.7,145.1 L156.1,145.9 L156.4,146.7 L156.7,147.4 L157.0,148.1 L157.3,148.8 L157.5,149.5 L157.8,150.2 L158.1,150.9 L158.3,151.6 L158.6,152.3 L158.8,153.0 L159.0,153.7 L159.2,154.4 L159.5,155.2 L159.7,155.9 L159.9,156.7 L160.1,157.4 L160.3,158.2 L160.5,158.9 L160.7,159.6 L160.9,160.3 L161.2,161.0 L161.4,161.7 L161.6,162.4 L161.8,163.2 L162.1,164.0 L162.4,165.0 L162.7,166.1 L163.1,167.3 L163.4,168.6 L163.8,170.0 L164.2,171.4 L164.6,172.7 L164.9,174.1 L165.3,175.3 L165.7,176.5 L166.0,177.7 L166.4,178.9 L166.7,180.0 L167.0,181.1 L167.4,182.2 L167.7,183.1 L168.0,184.0 L168.3,184.8 L168.6,185.5 L168.9,186.1 L169.1,186.6 L169.4,187.1 L169.6,187.6 L169.9,188.1 L170.1,188.6 L170.3,189.1 L170.5,189.7 L170.7,190.3 L170.9,190.8 L171.1,191.3 L171.3,191.7 L171.4,192.1 L171.5,192.4" fill="none" stroke="#111" stroke-width="1.3" stroke-linejoin="round" stroke-linecap="round"/>
<path d="M49.8,190.5 L49.9,190.4 L50.1,190.3 L50.2,190.2 L50.4,190.0 L50.6,189.9 L50.8,189.8 L51.0,189.7 L51.2,189.6 L51.4,189.6 L51.5,189.6 L51.7,189.6 L51.9,189.6 L52.0,189.6 L52.2,189.7 L52.3,189.8 L52.5,190.0 L52.6,190.2 L52.7,190.4 L52.8,190.7 L53.0,190.9 L53.1,191.3 L53.2,191.6 L53.4,192.0 L53.6,192.4 L53.9,192.9 L54.2,193.5 L54.5,194.1 L54.9,194.7 L55.3,195.4 L55.7,196.0 L56.1,196.5 L56.5,197.0 L56.9,197.4 L57.4,197.7 L57.9,197.9 L58.3,198.1 L58.8,198.3 L59.3,198.5 L59.8,198.6 L60.3,198.8 L60.8,199.0 L61.2,199.1 L61.7,199.3 L62.1,199.4 L62.6,199.5 L63.1,199.6 L63.5,199.7 L64.0,199.8 L64.5,199.9 L64.9,200.0 L65.3,200.0 L65.7,200.1 L66.2,200.2 L66.7,200.2 L67.3,200.3 L67.9,200.3 L68.6,200.3 L69.4,200.4 L70.3,200.4 L71.2,200.5 L72.1,200.5 L73.1,200.5 L74.0,200.5 L75.0,200.5 L76.0,200.5 L77.0,200.4 L78.1,200.4 L79.1,200.3 L80.2,200.2 L81.2,200.1 L82.2,200.0 L83.2,199.9 L84.1,199.7 L85.0,199.5 L85.9,199.3 L86.8,199.1 L87.6,198.8 L88.5,198.6 L89.2,198.4 L90.0,198.2 L90.7,198.0 L91.4,197.9 L92.0,197.7 L92.6,197.5 L93.2,197.4 L93.8,197.3 L94.4,197.1 L95.0,197.0 L95.6,196.9 L96.2,196.8 L96.7,196.8 L97.2,196.7 L97.8,196.6 L98.5,196.5 L99.2,196.4 L100.0,196.3 L100.9,196.1 L102.0,195.9 L103.1,195.7 L104.3,195.4 L105.5,195.2 L106.7,194.9 L107.9,194.6 L109.1,194.4 L110.2,194.2 L111.3,193.9 L112.4,193.7 L113.5,193.5 L114.6,193.2 L115.7,193.0 L116.8,192.7 L118.0,192.5 L119.2,192.3 L120.5,192.0 L121.9,191.8 L123.2,191.5 L124.6,191.3 L125.9,191.0 L127.1,190.8 L128.2,190.5 L129.2,190.2 L130.1,189.9 L131.0,189.6 L131.8,189.3 L132.6,189.0 L133.4,188.6 L134.2,188.3 L135.0,188.0 L135.8,187.7 L136.7,187.4 L137.5,187.1 L138.3,186.8 L139.1,186.5 L140.0,186.2 L140.7,185.8 L141.5,185.5 L142.2,185.1 L142.9,184.8 L143.6,184.4 L144.3,184.0 L145.0,183.6 L145.6,183.2 L146.3,182.8 L147.0,182.5 L147.7,182.2 L148.5,181.9 L149.4,181.6 L150.2,181.3 L150.9,181.1 L151.7,180.9 L152.3,180.7 L152.9,180.6 L153.3,180.5 L153.7,180.5 L153.9,180.5 L154.2,180.5 L154.3,180.6 L154.5,180.6 L154.7,180.7 L155.0,180.8 L155.3,180.9 L155.6,181.0 L156.0,181.1 L156.3,181.2 L156.7,181.4 L157.0,181.6 L157.4,181.8 L157.7,182.0 L158.0,182.3 L158.4,182.6 L158.7,183.0 L159.1,183.4 L159.4,183.8 L159.8,184.2 L160.1,184.6 L160.5,185.0 L160.9,185.4 L161.2,185.9 L161.6,186.4 L161.9,186.8 L162.3,187.3 L162.7,187.8 L163.0,188.2 L163.4,188.6 L163.8,189.0 L164.1,189.3 L164.5,189.6 L164.9,189.9 L165.3,190.2 L165.7,190.5 L166.1,190.8 L166.5,191.0 L166.9,191.2 L167.4,191.4 L167.9,191.6 L168.4,191.8 L168.9,191.9 L169.3,192.1 L169.7,192.2 L170.1,192.4 L170.4,192.6 L170.7,192.8 L171.0,193.1 L171.3,193.3 L171.5,193.5 L171.7,193.7 L171.9,193.9 L172.0,194.0" fill="none" stroke="#111" stroke-width="1.3" stroke-linejoin="round" stroke-linecap="round"/>
<path d="M48.5,193.0 L48.6,192.8 L48.7,192.5 L48.9,192.2 L49.1,191.9 L49.3,191.4 L49.5,190.8 L49.7,190.0 L50.0,189.0 L50.3,187.7 L50.6,186.2 L50.9,184.4 L51.3,182.5 L51.6,180.6 L52.0,178.7 L52.3,176.9 L52.6,175.3 L52.9,173.8 L53.1,172.5 L53.4,171.1 L53.6,169.9 L53.8,168.6 L54.0,167.4 L54.3,166.2 L54.5,165.0 L54.7,163.8 L55.0,162.6 L55.2,161.5 L55.5,160.3 L55.8,159.2 L56.0,158.1 L56.3,157.0 L56.5,156.0 L56.7,154.9 L57.0,153.8 L57.2,152.7 L57.5,151.7 L57.7,150.7 L57.9,149.8 L58.2,149.0 L58.4,148.4 L58.6,148.0 L58.9,147.7 L59.1,147.6 L59.3,147.5 L59.6,147.6 L59.8,147.6 L60.1,147.6 L60.3,147.6 L60.5,147.5 L60.8,147.5 L61.0,147.5 L61.3,147.4 L61.5,147.4 L61.7,147.4 L62.0,147.4 L62.2,147.4 L62.4,147.4 L62.7,147.5 L62.9,147.5 L63.1,147.6 L63.3,147.6 L63.5,147.7 L63.8,147.7 L64.0,147.8 L64.2,147.9 L64.5,148.0 L64.7,148.1 L64.9,148.2 L65.2,148.3 L65.4,148.4 L65.7,148.4 L66.0,148.4 L66.3,148.3 L66.6,148.2 L67.0,148.0 L67.3,147.8 L67.7,147.6 L68.1,147.4 L68.5,147.1 L69.0,146.8 L69.5,146.5 L70.1,146.1 L70.7,145.7 L71.3,145.3 L71.9,144.9 L72.5,144.4 L73.1,144.0 L73.6,143.6 L74.1,143.2 L74.5,142.8 L74.9,142.4 L75.3,142.0 L75.7,141.6 L76.1,141.2 L76.5,140.9 L77.0,140.5 L77.5,140.1 L78.0,139.8 L78.6,139.4 L79.1,139.1 L79.7,138.8 L80.2,138.5 L80.8,138.2 L81.3,137.9 L81.8,137.7 L82.3,137.4 L82.7,137.2 L83.2,137.1 L83.6,136.9 L84.1,136.8 L84.5,136.6 L85.0,136.5 L85.5,136.4 L86.0,136.3 L86.5,136.2 L87.0,136.1 L87.5,136.0 L88.0,136.0 L88.4,136.0 L88.9,136.0 L89.3,136.0 L89.7,136.1 L90.1,136.2 L90.5,136.3 L90.9,136.5 L91.3,136.7 L91.6,136.8 L92.0,137.0 L92.4,137.2 L92.7,137.4 L93.1,137.6 L93.4,137.8 L93.8,138.0 L94.1,138.3 L94.6,138.6 L95.0,138.9 L95.5,139.3 L96.0,139.7 L96.6,140.2 L97.2,140.7 L97.7,141.3 L98.3,141.8 L98.9,142.3 L99.5,142.7 L100.1,143.1 L100.6,143.5 L101.2,143.9 L101.7,144.2 L102.3,144.6 L102.8,144.9 L103.4,145.2 L104.0,145.5 L104.6,145.8 L105.2,146.0 L105.8,146.3 L106.5,146.5 L107.1,146.7 L107.8,146.9 L108.4,147.2 L109.1,147.4 L109.8,147.7 L110.4,148.0 L111.1,148.3 L111.8,148.6 L112.5,148.9 L113.2,149.2 L114.0,149.3 L114.8,149.4 L115.7,149.4 L116.6,149.2 L117.6,149.0 L118.7,148.7 L119.7,148.4 L120.7,148.1 L121.6,147.7 L122.4,147.4 L123.1,147.0 L123.8,146.6 L124.3,146.2 L124.9,145.8 L125.4,145.3 L125.9,144.9 L126.4,144.4 L127.0,144.0 L127.6,143.6 L128.2,143.2 L128.8,142.8 L129.4,142.4 L130.1,142.0 L130.7,141.6 L131.3,141.2 L132.0,140.8 L132.7,140.3 L133.4,139.8 L134.2,139.3 L134.9,138.8 L135.6,138.3 L136.3,137.8 L137.0,137.4 L137.6,137.0 L138.1,136.7 L138.6,136.4 L139.0,136.1 L139.4,135.9 L139.8,135.7 L140.1,135.6 L140.5,135.4 L141.0,135.2 L141.5,135.0 L142.0,134.8 L142.6,134.6 L143.2,134.4 L143.8,134.3 L144.3,134.2 L144.8,134.1 L145.3,134.1 L145.7,134.1 L146.1,134.2 L146.4,134.4 L146.7,134.5 L147.0,134.7 L147.3,135.0 L147.7,135.2 L148.0,135.5 L148.4,135.8 L148.7,136.2 L149.1,136.5 L149.5,136.9 L149.9,137.4 L150.2,137.8 L150.6,138.4 L151.0,138.9 L151.4,139.5 L151.8,140.1 L152.1,140.8 L152.5,141.5 L152.9,142.2 L153.3,143.0 L153.6,143.7 L154.0,144.5 L154.4,145.3 L154.7,146.1 L155.1,147.0 L155.4,147.9 L155.8,148.8 L156.1,149.6 L156.4,150.5 L156.7,151.3 L157.0,152.1 L157.2,152.8 L157.5,153.5 L157.7,154.2 L157.9,154.9 L158.1,155.6 L158.4,156.3 L158.6,157.0 L158.8,157.7 L159.1,158.5 L159.3,159.2 L159.6,160.0 L159.8,160.7 L160.0,161.5 L160.3,162.2 L160.5,163.0 L160.7,163.7 L161.0,164.5 L161.2,165.2 L161.4,166.0 L161.7,166.7 L161.9,167.5 L162.2,168.2 L162.4,169.0 L162.6,169.8 L162.9,170.5 L163.1,171.3 L163.4,172.0 L163.6,172.8 L163.9,173.6 L164.1,174.4 L164.4,175.3 L164.7,176.2 L165.0,177.2 L165.4,178.2 L165.7,179.2 L166.0,180.2 L166.4,181.2 L166.7,182.1 L167.0,183.0 L167.3,183.8 L167.6,184.6 L167.8,185.3 L168.1,186.0 L168.3,186.7 L168.6,187.3 L168.9,188.0 L169.1,188.6 L169.4,189.2 L169.6,189.9 L169.9,190.5 L170.2,191.1 L170.4,191.7 L170.7,192.2 L170.9,192.7 L171.0,193.0" fill="none" stroke="#ec1c24" stroke-width="1.3" stroke-linejoin="round" stroke-linecap="round"/>
<path d="M49.8,190.7 L49.9,190.6 L50.1,190.5 L50.2,190.4 L50.4,190.2 L50.6,190.1 L50.8,189.9 L51.0,189.9 L51.2,189.8 L51.4,189.8 L51.5,189.8 L51.7,189.8 L51.9,189.9 L52.0,189.9 L52.2,190.0 L52.3,190.1 L52.5,190.3 L52.6,190.5 L52.7,190.7 L52.8,190.9 L53.0,191.2 L53.1,191.5 L53.2,191.8 L53.4,192.2 L53.6,192.6 L53.9,193.1 L54.2,193.7 L54.5,194.3 L54.9,195.0 L55.3,195.7 L55.7,196.4 L56.1,196.9 L56.5,197.4 L56.9,197.8 L57.4,198.1 L57.9,198.3 L58.3,198.5 L58.8,198.7 L59.3,198.9 L59.8,199.0 L60.3,199.2 L60.8,199.4 L61.2,199.5 L61.7,199.7 L62.1,199.8 L62.6,199.9 L63.1,200.0 L63.5,200.1 L64.0,200.2 L64.5,200.3 L64.9,200.3 L65.3,200.4 L65.7,200.5 L66.2,200.5 L66.7,200.5 L67.3,200.6 L67.9,200.6 L68.6,200.6 L69.4,200.7 L70.3,200.7 L71.2,200.7 L72.1,200.7 L73.1,200.7 L74.0,200.7 L75.0,200.7 L76.0,200.7 L77.0,200.6 L78.1,200.6 L79.1,200.5 L80.2,200.4 L81.2,200.3 L82.2,200.2 L83.2,200.1 L84.1,199.9 L85.0,199.7 L85.9,199.5 L86.8,199.3 L87.6,199.0 L88.5,198.8 L89.2,198.6 L90.0,198.4 L90.7,198.2 L91.4,198.1 L92.0,197.9 L92.6,197.8 L93.2,197.7 L93.8,197.5 L94.4,197.4 L95.0,197.3 L95.6,197.2 L96.2,197.1 L96.7,197.0 L97.2,197.0 L97.8,196.9 L98.5,196.8 L99.2,196.7 L100.0,196.5 L100.9,196.3 L102.0,196.1 L103.1,195.9 L104.3,195.6 L105.5,195.4 L106.7,195.1 L107.9,194.8 L109.1,194.6 L110.2,194.4 L111.3,194.1 L112.4,193.9 L113.5,193.7 L114.6,193.4 L115.7,193.2 L116.8,192.9 L118.0,192.7 L119.2,192.4 L120.5,192.2 L121.9,191.9 L123.2,191.7 L124.6,191.4 L125.9,191.1 L127.1,190.9 L128.2,190.6 L129.2,190.4 L130.1,190.1 L131.0,189.9 L131.8,189.6 L132.6,189.4 L133.4,189.2 L134.2,188.9 L135.0,188.6 L135.8,188.3 L136.7,187.9 L137.5,187.6 L138.3,187.2 L139.1,186.8 L140.0,186.5 L140.7,186.1 L141.5,185.8 L142.2,185.5 L142.9,185.2 L143.6,184.9 L144.2,184.6 L144.9,184.3 L145.5,184.0 L146.3,183.7 L147.0,183.5 L147.8,183.3 L148.7,183.0 L149.7,182.8 L150.6,182.6 L151.6,182.4 L152.5,182.2 L153.2,182.1 L153.9,182.0 L154.4,182.0 L154.8,182.0 L155.1,182.1 L155.4,182.2 L155.6,182.4 L155.8,182.5 L156.0,182.7 L156.3,182.8 L156.6,182.9 L156.9,183.0 L157.1,183.1 L157.4,183.2 L157.7,183.4 L158.0,183.5 L158.3,183.7 L158.6,183.9 L158.9,184.1 L159.3,184.4 L159.6,184.7 L160.0,185.1 L160.4,185.4 L160.8,185.8 L161.1,186.1 L161.5,186.5 L161.9,186.9 L162.2,187.3 L162.6,187.7 L162.9,188.1 L163.3,188.5 L163.7,188.9 L164.0,189.3 L164.4,189.6 L164.8,189.9 L165.2,190.2 L165.5,190.5 L165.9,190.8 L166.3,191.1 L166.7,191.3 L167.1,191.6 L167.5,191.8 L167.9,192.0 L168.4,192.3 L168.9,192.5 L169.3,192.7 L169.8,192.9 L170.3,193.1 L170.7,193.3 L171.0,193.4 L171.3,193.5 L171.6,193.6 L171.8,193.7 L172.0,193.8 L172.1,193.9 L172.3,193.9 L172.4,194.0 L172.5,194.0" fill="none" stroke="#ec1c24" stroke-width="1.3" stroke-linejoin="round" stroke-linecap="round"/>
<path d="M231.2,199.5 L231.4,199.2 L231.6,198.7 L231.9,198.1 L232.2,197.5 L232.5,196.9 L232.8,196.2 L233.2,195.6 L233.5,195.0 L233.8,194.4 L234.1,193.9 L234.4,193.4 L234.7,192.8 L235.0,192.3 L235.3,191.7 L235.7,191.1 L236.2,190.4 L236.8,189.7 L237.4,188.8 L238.1,188.0 L238.8,187.1 L239.5,186.2 L240.3,185.4 L241.0,184.5 L241.7,183.7 L242.4,182.9 L243.1,182.2 L243.8,181.4 L244.5,180.7 L245.2,180.0 L245.9,179.3 L246.6,178.6 L247.2,178.0 L247.8,177.4 L248.4,176.8 L248.9,176.2 L249.4,175.7 L249.9,175.1 L250.4,174.6 L251.0,174.1 L251.5,173.5 L252.0,173.0 L252.5,172.5 L252.9,172.0 L253.4,171.5 L253.9,171.0 L254.5,170.4 L255.2,169.7 L256.0,169.0 L257.0,168.2 L258.0,167.2 L259.2,166.2 L260.5,165.1 L261.8,164.0 L263.1,162.9 L264.4,161.8 L265.6,160.8 L266.8,159.8 L268.0,158.7 L269.3,157.7 L270.5,156.6 L271.7,155.6 L272.9,154.6 L274.1,153.7 L275.2,152.8 L276.3,152.0 L277.3,151.2 L278.4,150.5 L279.4,149.8 L280.4,149.1 L281.3,148.5 L282.3,147.9 L283.2,147.2 L284.1,146.6 L285.0,145.9 L285.8,145.3 L286.6,144.7 L287.4,144.1 L288.3,143.5 L289.1,142.9 L290.0,142.3 L290.9,141.7 L291.8,141.1 L292.8,140.5 L293.8,139.9 L294.7,139.3 L295.7,138.7 L296.6,138.1 L297.6,137.6 L298.5,137.1 L299.5,136.6 L300.4,136.2 L301.4,135.8 L302.3,135.4 L303.3,135.0 L304.2,134.6 L305.2,134.2 L306.2,133.8 L307.1,133.5 L308.1,133.2 L309.1,132.9 L310.0,132.6 L311.0,132.3 L311.9,132.0 L312.9,131.7 L313.9,131.4 L314.8,131.1 L315.8,130.8 L316.7,130.5 L317.7,130.3 L318.6,130.0 L319.6,129.7 L320.5,129.4 L321.5,129.1 L322.5,128.8 L323.5,128.5 L324.5,128.2 L325.4,127.9 L326.4,127.7 L327.3,127.4 L328.1,127.1 L328.9,126.8 L329.6,126.6 L330.2,126.3 L330.9,126.0 L331.4,125.7 L332.0,125.5 L332.5,125.2 L333.0,125.0 L333.4,124.8 L333.8,124.5 L334.2,124.3 L334.5,124.1 L334.8,123.9 L335.1,123.7 L335.4,123.5 L335.7,123.3 L336.0,123.1 L336.4,122.9 L336.7,122.7 L337.0,122.4 L337.3,122.2 L337.6,122.1 L337.8,121.9 L338.0,121.8 L338.0,121.8 L337.9,122.2 L337.8,122.6 L337.6,123.2 L337.5,123.8 L337.3,124.5 L337.1,125.2 L336.8,125.8 L336.5,126.5 L336.2,127.2 L335.8,127.8 L335.4,128.5 L335.0,129.2 L334.5,129.9 L334.0,130.6 L333.5,131.3 L333.0,132.0 L332.5,132.7 L331.9,133.3 L331.3,134.0 L330.8,134.6 L330.1,135.2 L329.5,135.9 L328.8,136.4 L328.0,137.0 L327.2,137.5 L326.3,138.0 L325.4,138.5 L324.4,138.9 L323.4,139.4 L322.4,139.8 L321.5,140.2 L320.5,140.6 L319.6,141.0 L318.6,141.4 L317.7,141.8 L316.7,142.1 L315.8,142.5 L314.8,142.9 L313.9,143.2 L312.9,143.6 L311.9,144.0 L311.0,144.4 L310.0,144.7 L309.1,145.1 L308.1,145.5 L307.1,145.9 L306.2,146.3 L305.2,146.7 L304.2,147.1 L303.2,147.6 L302.3,148.0 L301.3,148.5 L300.3,149.0 L299.4,149.5 L298.5,150.0 L297.6,150.5 L296.8,151.1 L296.0,151.7 L295.3,152.4 L294.6,153.0 L293.9,153.7 L293.2,154.3 L292.6,154.9 L292.0,155.4 L291.5,155.8 L291.0,156.1 L290.6,156.4 L290.2,156.6 L289.7,156.8 L289.2,157.1 L288.7,157.5 L288.0,158.0 L287.2,158.6 L286.3,159.3 L285.3,160.1 L284.2,160.9 L283.2,161.8 L282.1,162.7 L281.0,163.6 L280.0,164.5 L279.0,165.4 L277.9,166.4 L276.8,167.4 L275.8,168.4 L274.7,169.4 L273.7,170.4 L272.8,171.2 L272.0,172.0 L271.3,172.6 L270.7,173.2 L270.2,173.6 L269.8,174.1 L269.3,174.4 L268.9,174.8 L268.5,175.1 L268.0,175.5 L267.5,175.9 L267.0,176.3 L266.5,176.6 L266.0,177.0 L265.5,177.3 L265.0,177.6 L264.5,177.9 L264.0,178.2 L263.5,178.5 L263.0,178.7 L262.5,179.0 L262.0,179.2 L261.5,179.4 L261.0,179.6 L260.5,179.8 L260.0,180.0 L259.5,180.2 L259.0,180.4 L258.5,180.5 L258.0,180.7 L257.5,180.8 L257.0,181.0 L256.5,181.2 L256.0,181.3 L255.5,181.4 L254.9,181.6 L254.3,181.7 L253.7,181.8 L253.1,182.0 L252.5,182.1 L252.0,182.3 L251.4,182.4 L250.9,182.5 L250.4,182.6 L249.9,182.7 L249.4,182.8 L248.9,183.0 L248.4,183.2 L247.8,183.4 L247.2,183.7 L246.5,184.1 L245.8,184.5 L245.0,185.0 L244.2,185.6 L243.3,186.2 L242.5,186.8 L241.7,187.4 L241.0,188.0 L240.3,188.6 L239.7,189.3 L239.0,189.9 L238.4,190.6 L237.8,191.3 L237.2,192.0 L236.6,192.7 L236.0,193.5 L235.4,194.4 L234.7,195.3 L234.0,196.3 L233.3,197.3 L232.6,198.3 L232.1,199.2 L231.6,199.9 L231.2,200.5 Z" fill="#d9d9d9" stroke="#d0d0d0" stroke-width="0.5"/>
<path d="M231.5,199.5 L231.8,198.9 L232.3,198.1 L232.8,197.2 L233.4,196.2 L234.0,195.1 L234.7,194.0 L235.3,192.9 L236.0,192.0 L236.7,191.1 L237.3,190.3 L238.1,189.4 L238.8,188.6 L239.5,187.8 L240.3,187.0 L241.0,186.2 L241.7,185.5 L242.4,184.8 L243.1,184.1 L243.8,183.4 L244.5,182.8 L245.2,182.2 L245.9,181.6 L246.5,181.0 L247.2,180.5 L247.8,180.0 L248.5,179.5 L249.1,179.0 L249.7,178.6 L250.3,178.1 L250.9,177.7 L251.4,177.4 L252.0,177.0 L252.5,176.7 L253.0,176.5 L253.4,176.3 L253.8,176.1 L254.2,175.9 L254.7,175.7 L255.3,175.4 L256.0,175.0 L256.8,174.5 L257.7,173.9 L258.7,173.3 L259.8,172.6 L260.8,171.8 L261.9,171.1 L263.0,170.3 L264.0,169.5 L265.0,168.7 L266.0,167.8 L267.0,167.0 L268.0,166.1 L269.0,165.2 L270.0,164.2 L271.0,163.4 L272.0,162.5 L273.0,161.7 L274.0,160.8 L275.0,160.0 L276.0,159.2 L277.0,158.3 L278.0,157.5 L279.0,156.8 L280.0,156.0 L281.0,155.3 L282.0,154.6 L282.9,153.9 L283.9,153.3 L284.9,152.6 L285.9,151.9 L286.9,151.2 L288.0,150.5 L289.1,149.7 L290.3,148.8 L291.6,147.9 L292.8,147.0 L294.1,146.1 L295.3,145.3 L296.5,144.5 L297.6,143.8 L298.6,143.2 L299.6,142.7 L300.6,142.2 L301.5,141.8 L302.4,141.4 L303.3,141.1 L304.3,140.7 L305.2,140.3 L306.2,139.9 L307.1,139.5 L308.1,139.1 L309.1,138.7 L310.0,138.3 L311.0,137.9 L311.9,137.6 L312.9,137.2 L313.9,136.9 L314.8,136.5 L315.8,136.2 L316.7,135.9 L317.7,135.6 L318.6,135.3 L319.6,135.0 L320.5,134.7 L321.5,134.4 L322.4,134.1 L323.4,133.7 L324.4,133.4 L325.4,133.1 L326.3,132.7 L327.2,132.4 L328.1,132.0 L329.0,131.6 L329.8,131.1 L330.7,130.6 L331.5,130.1 L332.3,129.6 L333.0,129.1 L333.6,128.8 L334.0,128.5" fill="none" stroke="#a8a8a8" stroke-width="0.9" stroke-dasharray="3.5,3"/>
<path d="M231.4,199.2 L232.0,198.5 L232.8,197.6 L233.7,196.6 L234.7,195.4 L235.8,194.1 L236.9,192.8 L238.0,191.6 L239.0,190.4 L240.0,189.3 L241.0,188.1 L242.0,186.9 L243.0,185.8 L244.1,184.6 L245.1,183.4 L246.1,182.3 L247.2,181.2 L248.3,180.1 L249.4,179.0 L250.5,177.9 L251.6,176.9 L252.7,175.8 L253.8,174.8 L254.9,173.9 L256.0,173.0 L257.0,172.2 L258.1,171.4 L259.1,170.7 L260.1,170.0 L261.0,169.3 L262.0,168.7 L263.0,168.0 L264.0,167.4 L265.0,166.8 L266.0,166.1 L267.0,165.5 L268.0,164.9 L269.0,164.3 L270.0,163.7 L271.0,163.2 L272.0,162.6 L273.0,162.1 L274.0,161.6 L274.9,161.1 L275.9,160.6 L276.9,160.1 L277.9,159.6 L278.9,159.1 L280.0,158.6 L281.2,158.0 L282.4,157.4 L283.7,156.8 L285.0,156.1 L286.3,155.5 L287.6,154.9 L288.9,154.3 L290.0,153.8 L291.1,153.4 L292.1,153.0 L293.0,152.6 L293.9,152.3 L294.9,151.9 L295.8,151.6 L296.7,151.3 L297.6,151.0 L298.5,150.7 L299.5,150.4 L300.4,150.0 L301.4,149.7 L302.3,149.4 L303.3,149.1 L304.2,148.8 L305.2,148.5 L306.2,148.2 L307.1,147.9 L308.1,147.6 L309.1,147.3 L310.0,147.0 L311.0,146.6 L311.9,146.3 L312.9,146.0 L313.9,145.7 L314.9,145.3 L315.8,145.0 L316.8,144.6 L317.8,144.3 L318.8,143.9 L319.7,143.5 L320.5,143.2 L321.3,142.9 L322.0,142.6 L322.7,142.3 L323.4,142.0 L324.1,141.7 L324.7,141.3 L325.4,140.9 L326.0,140.5 L326.7,140.0 L327.3,139.5 L327.9,138.9 L328.6,138.3 L329.2,137.6 L329.8,136.9 L330.4,136.2 L331.0,135.5 L331.6,134.7 L332.3,133.8 L333.0,132.8 L333.7,131.8 L334.3,130.8 L334.9,130.0 L335.3,129.2 L335.7,128.7" fill="none" stroke="#8a8a8a" stroke-width="1.3" stroke-linejoin="round" stroke-linecap="round"/>
<path d="M231.4,198.4 L231.7,198.0 L232.0,197.6 L232.4,197.0 L232.9,196.4 L233.4,195.7 L233.9,195.0 L234.4,194.4 L234.9,193.8 L235.4,193.3 L235.9,192.7 L236.4,192.2 L236.9,191.7 L237.4,191.2 L238.0,190.6 L238.5,190.1 L239.0,189.6 L239.5,189.1 L240.0,188.5 L240.5,188.0 L241.1,187.5 L241.6,186.9 L242.1,186.4 L242.6,185.9 L243.1,185.3 L243.6,184.7 L244.1,184.1 L244.6,183.5 L245.1,182.9 L245.7,182.3 L246.2,181.7 L246.7,181.2 L247.2,180.6 L247.7,180.1 L248.2,179.5 L248.8,179.0 L249.3,178.5 L249.8,178.0 L250.3,177.5 L250.9,177.0 L251.4,176.5 L251.9,176.0 L252.4,175.5 L252.9,175.0 L253.5,174.4 L254.0,173.9 L254.6,173.4 L255.3,172.8 L256.0,172.2 L256.8,171.6 L257.8,170.9 L258.8,170.2 L259.8,169.4 L260.9,168.7 L261.9,168.0 L263.0,167.3 L264.0,166.6 L265.0,165.9 L266.0,165.3 L267.0,164.6 L268.0,164.0 L269.0,163.4 L270.0,162.8 L271.0,162.2 L272.0,161.6 L273.0,161.0 L274.0,160.5 L275.1,160.0 L276.1,159.5 L277.1,159.0 L278.1,158.5 L279.1,158.1 L280.0,157.6 L280.8,157.2 L281.6,156.7 L282.4,156.3 L283.1,155.9 L283.8,155.5 L284.5,155.1 L285.3,154.8 L286.0,154.4 L286.8,154.0 L287.5,153.7 L288.2,153.4 L289.0,153.1 L289.8,152.7 L290.5,152.4 L291.2,152.1 L292.0,151.8 L292.7,151.5 L293.5,151.2 L294.2,150.8 L294.9,150.5 L295.7,150.2 L296.4,149.9 L297.2,149.5 L298.0,149.2 L298.8,148.9 L299.7,148.5 L300.6,148.1 L301.5,147.8 L302.4,147.4 L303.3,147.1 L304.3,146.7 L305.2,146.4 L306.1,146.1 L307.1,145.8 L308.1,145.5 L309.0,145.2 L310.0,144.9 L311.0,144.6 L311.9,144.3 L312.9,144.0 L313.9,143.7 L314.8,143.4 L315.8,143.2 L316.7,142.9 L317.7,142.6 L318.6,142.3 L319.6,142.0 L320.5,141.6 L321.5,141.2 L322.4,140.8 L323.4,140.4 L324.4,139.9 L325.4,139.5 L326.3,138.9 L327.2,138.4 L328.1,137.8 L329.0,137.2 L329.8,136.5 L330.6,135.7 L331.4,134.9 L332.2,134.1 L332.9,133.3 L333.6,132.5 L334.2,131.7 L334.8,130.8 L335.3,129.9 L335.7,128.9 L336.1,127.9 L336.5,127.0 L336.8,126.1 L337.1,125.4 L337.3,124.9" fill="none" stroke="#111" stroke-width="1.3" stroke-linejoin="round" stroke-linecap="round"/>
<path d="M231.4,199.5 L231.7,199.1 L232.0,198.6 L232.4,198.0 L232.9,197.4 L233.4,196.7 L233.9,196.0 L234.4,195.3 L234.9,194.7 L235.4,194.2 L235.9,193.6 L236.4,193.1 L236.9,192.6 L237.4,192.1 L238.0,191.6 L238.5,191.1 L239.0,190.6 L239.5,190.1 L240.0,189.6 L240.5,189.1 L241.1,188.6 L241.6,188.1 L242.1,187.6 L242.6,187.0 L243.1,186.5 L243.6,185.9 L244.1,185.3 L244.6,184.7 L245.1,184.1 L245.7,183.5 L246.2,182.9 L246.7,182.3 L247.2,181.7 L247.7,181.2 L248.2,180.6 L248.8,180.1 L249.3,179.6 L249.8,179.1 L250.3,178.6 L250.9,178.1 L251.4,177.6 L251.9,177.1 L252.4,176.5 L252.9,176.0 L253.5,175.5 L254.0,174.9 L254.6,174.4 L255.3,173.8 L256.0,173.2 L256.8,172.6 L257.8,171.9 L258.8,171.2 L259.8,170.6 L260.9,169.9 L261.9,169.2 L263.0,168.5 L264.0,167.8 L265.0,167.1 L266.0,166.4 L267.0,165.7 L268.0,165.1 L269.0,164.4 L270.0,163.7 L271.0,163.0 L272.0,162.4 L273.0,161.8 L274.0,161.1 L275.1,160.5 L276.1,159.9 L277.1,159.3 L278.1,158.7 L279.1,158.1 L280.0,157.6 L280.8,157.1 L281.6,156.6 L282.4,156.1 L283.1,155.7 L283.8,155.2 L284.5,154.8 L285.3,154.3 L286.0,153.9 L286.8,153.4 L287.5,153.0 L288.3,152.5 L289.0,152.1 L289.8,151.7 L290.5,151.2 L291.3,150.8 L292.0,150.4 L292.7,150.0 L293.4,149.6 L294.0,149.3 L294.7,148.9 L295.4,148.5 L296.1,148.2 L296.8,147.8 L297.6,147.5 L298.5,147.2 L299.4,146.8 L300.3,146.5 L301.3,146.2 L302.3,145.8 L303.2,145.5 L304.2,145.2 L305.2,144.9 L306.2,144.6 L307.1,144.3 L308.1,144.0 L309.1,143.8 L310.0,143.5 L311.0,143.2 L311.9,143.0 L312.9,142.7 L313.9,142.4 L314.8,142.2 L315.8,141.9 L316.8,141.7 L317.8,141.4 L318.7,141.2 L319.6,140.9 L320.5,140.6 L321.3,140.3 L322.2,140.0 L323.0,139.6 L323.7,139.3 L324.5,138.9 L325.2,138.5 L325.9,138.2 L326.6,137.8 L327.3,137.4 L327.9,137.1 L328.5,136.7 L329.0,136.3 L329.6,135.9 L330.1,135.5 L330.7,135.1 L331.2,134.6 L331.7,134.1 L332.2,133.6 L332.7,133.0 L333.2,132.4 L333.7,131.9 L334.2,131.3 L334.6,130.7 L335.0,130.2 L335.4,129.7 L335.7,129.1 L336.1,128.6 L336.4,128.0 L336.7,127.5 L336.9,127.1 L337.1,126.7 L337.3,126.4" fill="none" stroke="#ec1c24" stroke-width="1.3" stroke-linejoin="round" stroke-linecap="round"/>
<path d="M392.3,129.3 L392.6,129.4 L392.9,129.5 L393.3,129.6 L393.8,129.8 L394.2,129.9 L394.7,130.0 L395.2,130.1 L395.7,130.2 L396.1,130.3 L396.5,130.3 L396.9,130.3 L397.3,130.3 L397.7,130.2 L398.1,130.2 L398.6,130.1 L399.1,130.0 L399.6,129.9 L400.3,129.8 L401.0,129.7 L401.9,129.6 L402.7,129.5 L403.5,129.4 L404.4,129.3 L405.3,129.2 L406.3,129.1 L407.4,129.0 L408.7,128.9 L410.2,128.8 L411.9,128.7 L414.0,128.6 L416.4,128.5 L419.2,128.5 L422.4,128.4 L425.8,128.4 L429.3,128.4 L432.8,128.3 L436.3,128.3 L439.5,128.3 L442.5,128.3 L445.0,128.3 L447.2,128.3 L449.0,128.3 L450.7,128.4 L452.1,128.4 L453.5,128.5 L454.8,128.5 L456.0,128.6 L457.3,128.6 L458.6,128.7 L460.1,128.8 L461.6,128.9 L463.3,129.0 L464.9,129.1 L466.5,129.3 L468.2,129.4 L469.8,129.6 L471.4,129.7 L473.0,129.8 L474.6,130.0 L476.1,130.1 L477.6,130.2 L479.1,130.3 L480.6,130.5 L482.1,130.6 L483.6,130.7 L485.0,130.8 L486.4,130.9 L487.7,131.1 L489.0,131.2 L490.1,131.3 L491.3,131.4 L492.4,131.6 L493.4,131.7 L494.4,131.9 L495.3,132.0 L496.2,132.2 L497.0,132.3 L497.6,132.4 L498.2,132.5 L498.7,132.6 L498.3,135.0 L497.8,134.9 L497.2,134.8 L496.5,134.7 L495.8,134.6 L494.9,134.4 L494.0,134.3 L493.0,134.1 L492.0,134.0 L491.0,133.8 L489.9,133.7 L488.7,133.6 L487.5,133.4 L486.2,133.3 L484.8,133.2 L483.4,133.1 L481.9,133.0 L480.4,132.9 L478.9,132.7 L477.4,132.6 L475.9,132.5 L474.4,132.4 L472.8,132.2 L471.2,132.1 L469.6,131.9 L468.0,131.8 L466.3,131.7 L464.7,131.5 L463.1,131.4 L461.5,131.3 L459.9,131.2 L458.5,131.1 L457.1,131.0 L455.9,131.0 L454.6,130.9 L453.4,130.8 L452.1,130.8 L450.6,130.8 L449.0,130.7 L447.1,130.7 L445.0,130.7 L442.5,130.7 L439.5,130.7 L436.3,130.7 L432.8,130.7 L429.3,130.8 L425.8,130.8 L422.4,130.8 L419.3,130.9 L416.4,130.9 L414.0,131.0 L412.1,131.1 L410.3,131.2 L408.9,131.3 L407.6,131.4 L406.5,131.5 L405.6,131.6 L404.7,131.7 L403.8,131.8 L403.0,131.9 L402.1,132.0 L401.3,132.1 L400.6,132.2 L400.0,132.3 L399.5,132.4 L399.0,132.5 L398.5,132.5 L398.0,132.6 L397.5,132.7 L397.0,132.7 L396.5,132.7 L395.9,132.7 L395.3,132.6 L394.7,132.5 L394.1,132.3 L393.6,132.2 L393.1,132.1 L392.6,131.9 L392.3,131.8 L391.9,131.7 L391.7,131.7 Z" fill="#d9d9d9" stroke="#d0d0d0" stroke-width="0.5"/>
<path d="M391.1,199.4 L391.5,199.0 L392.1,198.5 L392.8,197.9 L393.6,197.2 L394.4,196.4 L395.4,195.6 L396.3,194.8 L397.2,194.0 L398.2,193.2 L399.1,192.5 L400.1,191.8 L401.0,191.1 L402.0,190.3 L403.0,189.6 L404.1,188.9 L405.1,188.1 L406.2,187.4 L407.2,186.8 L408.3,186.1 L409.3,185.5 L410.3,184.9 L411.2,184.4 L412.2,183.9 L413.1,183.4 L414.1,182.9 L415.1,182.5 L416.1,182.0 L417.2,181.6 L418.3,181.1 L419.5,180.7 L420.8,180.2 L422.2,179.8 L423.6,179.3 L425.1,178.9 L426.6,178.4 L428.2,178.0 L429.7,177.5 L431.3,177.1 L433.0,176.6 L434.6,176.2 L436.3,175.7 L438.1,175.2 L439.8,174.8 L441.6,174.3 L443.5,173.8 L445.3,173.4 L447.1,172.8 L448.9,172.3 L450.7,171.7 L452.5,171.1 L454.3,170.4 L456.1,169.7 L458.0,168.9 L459.8,168.1 L461.7,167.3 L463.5,166.4 L465.3,165.5 L467.0,164.6 L468.7,163.7 L470.3,162.8 L471.8,161.9 L473.4,160.9 L474.9,159.9 L476.3,158.9 L477.7,157.9 L479.1,156.8 L480.4,155.8 L481.7,154.7 L482.9,153.6 L484.0,152.6 L485.1,151.5 L486.2,150.4 L487.2,149.3 L488.2,148.1 L489.1,147.0 L490.0,145.8 L490.8,144.7 L491.7,143.6 L492.4,142.6 L493.1,141.6 L493.8,140.6 L494.4,139.7 L495.0,138.7 L495.5,137.8 L496.0,136.9 L496.5,136.1 L496.9,135.3 L497.2,134.6 L497.6,134.0 L497.8,133.5 L499.8,134.5 L499.5,135.0 L499.3,135.6 L498.9,136.3 L498.6,137.1 L498.1,138.0 L497.7,138.9 L497.1,139.9 L496.6,141.0 L495.9,142.0 L495.3,143.0 L494.6,144.1 L493.8,145.2 L493.0,146.3 L492.2,147.5 L491.3,148.7 L490.3,149.9 L489.3,151.1 L488.2,152.3 L487.1,153.5 L486.0,154.6 L484.7,155.7 L483.5,156.8 L482.2,157.9 L480.8,159.0 L479.4,160.1 L477.9,161.2 L476.4,162.2 L474.9,163.2 L473.3,164.2 L471.7,165.2 L470.0,166.2 L468.3,167.1 L466.5,168.0 L464.7,168.9 L462.8,169.8 L461.0,170.7 L459.1,171.5 L457.2,172.3 L455.3,173.0 L453.5,173.7 L451.6,174.4 L449.8,175.0 L447.9,175.5 L446.0,176.1 L444.2,176.5 L442.3,177.0 L440.5,177.5 L438.8,177.9 L437.0,178.4 L435.4,178.8 L433.7,179.3 L432.1,179.8 L430.5,180.2 L428.9,180.7 L427.4,181.1 L425.9,181.6 L424.5,182.0 L423.1,182.4 L421.7,182.9 L420.5,183.3 L419.3,183.8 L418.2,184.2 L417.2,184.6 L416.2,185.0 L415.3,185.5 L414.4,185.9 L413.5,186.4 L412.6,186.8 L411.7,187.4 L410.7,187.9 L409.7,188.5 L408.7,189.1 L407.7,189.8 L406.7,190.5 L405.7,191.2 L404.7,191.9 L403.7,192.6 L402.7,193.3 L401.8,194.0 L400.9,194.7 L400.0,195.4 L399.0,196.2 L398.1,197.0 L397.2,197.7 L396.3,198.5 L395.5,199.3 L394.7,200.0 L394.0,200.6 L393.4,201.1 L392.9,201.6 Z" fill="#d9d9d9" stroke="#d0d0d0" stroke-width="0.5"/>
<path d="M392.0,130.5 L392.3,130.6 L392.8,130.7 L393.3,130.9 L393.9,131.0 L394.5,131.2 L395.2,131.3 L395.9,131.4 L396.5,131.5 L397.1,131.5 L397.7,131.5 L398.2,131.4 L398.8,131.3 L399.4,131.2 L400.1,131.0 L401.0,130.9 L402.0,130.8 L403.1,130.7 L404.1,130.6 L405.2,130.4 L406.4,130.3 L407.8,130.1 L409.5,130.0 L411.5,129.9 L414.0,129.8 L417.1,129.7 L420.8,129.7 L424.9,129.6 L429.3,129.6 L433.7,129.5 L437.9,129.5 L441.8,129.5 L445.0,129.5 L447.6,129.5 L449.9,129.6 L451.8,129.6 L453.4,129.7 L455.0,129.7 L456.6,129.8 L458.2,129.9 L460.0,130.0 L462.0,130.1 L464.0,130.3 L466.0,130.4 L468.1,130.6 L470.1,130.8 L472.1,131.0 L474.1,131.1 L476.0,131.3 L477.9,131.5 L479.8,131.6 L481.6,131.8 L483.5,131.9 L485.2,132.0 L486.9,132.2 L488.5,132.3 L490.0,132.5 L491.4,132.7 L492.7,132.8 L494.0,133.0 L495.1,133.2 L496.2,133.4 L497.1,133.6 L497.9,133.7 L498.5,133.8" fill="none" stroke="#a8a8a8" stroke-width="0.9" stroke-dasharray="3.5,3"/>
<path d="M392.0,200.5 L392.6,200.0 L393.4,199.3 L394.3,198.4 L395.4,197.5 L396.5,196.5 L397.7,195.5 L398.8,194.5 L400.0,193.6 L401.2,192.7 L402.4,191.8 L403.6,190.9 L404.9,190.0 L406.2,189.1 L407.5,188.3 L408.7,187.5 L410.0,186.7 L411.2,186.0 L412.4,185.4 L413.5,184.8 L414.7,184.2 L415.9,183.7 L417.1,183.1 L418.5,182.6 L420.0,182.0 L421.6,181.4 L423.3,180.9 L425.1,180.3 L427.0,179.8 L428.9,179.2 L430.9,178.7 L432.9,178.1 L435.0,177.5 L437.1,176.9 L439.3,176.3 L441.5,175.8 L443.8,175.2 L446.1,174.6 L448.4,173.9 L450.7,173.2 L453.0,172.4 L455.3,171.5 L457.6,170.6 L459.9,169.6 L462.2,168.5 L464.5,167.4 L466.8,166.3 L468.9,165.2 L471.0,164.0 L473.0,162.8 L474.9,161.6 L476.8,160.3 L478.6,159.0 L480.3,157.7 L481.9,156.3 L483.5,155.0 L485.0,153.6 L486.4,152.2 L487.7,150.8 L489.0,149.3 L490.2,147.8 L491.3,146.4 L492.3,144.9 L493.3,143.6 L494.2,142.3 L495.0,141.1 L495.8,139.8 L496.5,138.6 L497.1,137.4 L497.6,136.4 L498.1,135.4 L498.5,134.6 L498.8,134.0" fill="none" stroke="#a8a8a8" stroke-width="0.9" stroke-dasharray="3.5,3"/>
<path d="M392.4,130.9 L392.7,131.0 L393.1,131.1 L393.6,131.2 L394.1,131.3 L394.7,131.5 L395.3,131.6 L395.9,131.7 L396.5,131.7 L397.1,131.7 L397.7,131.6 L398.3,131.5 L398.9,131.4 L399.6,131.3 L400.3,131.2 L401.2,131.0 L402.2,130.9 L403.3,130.8 L404.5,130.6 L405.8,130.5 L407.2,130.3 L408.7,130.2 L410.3,130.0 L411.9,129.9 L413.6,129.8 L415.4,129.7 L417.2,129.7 L419.1,129.6 L421.1,129.6 L423.2,129.6 L425.3,129.5 L427.6,129.5 L430.0,129.5 L432.6,129.5 L435.3,129.4 L438.1,129.4 L441.0,129.4 L444.0,129.4 L447.0,129.4 L450.0,129.4 L452.9,129.5 L455.8,129.6 L458.9,129.8 L461.9,130.0 L464.9,130.3 L467.9,130.5 L470.8,130.8 L473.5,131.0 L475.9,131.2 L478.1,131.4 L480.2,131.5 L482.1,131.7 L483.9,131.8 L485.6,132.0 L487.1,132.1 L488.6,132.3 L490.0,132.4 L491.3,132.6 L492.6,132.7 L493.7,132.9 L494.7,133.1 L495.7,133.2 L496.5,133.4 L497.1,133.5 L497.7,133.6" fill="none" stroke="#111" stroke-width="1.3" stroke-linejoin="round" stroke-linecap="round"/>
<path d="M391.7,202.5 L392.0,202.2 L392.5,201.8 L393.0,201.4 L393.6,200.9 L394.2,200.4 L394.8,199.8 L395.4,199.3 L396.0,198.8 L396.5,198.3 L397.0,197.9 L397.5,197.4 L398.0,196.9 L398.4,196.4 L398.9,196.0 L399.5,195.5 L400.0,195.0 L400.6,194.5 L401.2,194.0 L401.8,193.5 L402.4,193.0 L403.1,192.5 L403.7,192.0 L404.4,191.5 L405.0,191.0 L405.6,190.5 L406.2,190.1 L406.9,189.6 L407.5,189.1 L408.1,188.7 L408.8,188.2 L409.4,187.8 L410.0,187.4 L410.6,187.0 L411.2,186.6 L411.9,186.3 L412.5,185.9 L413.1,185.6 L413.8,185.2 L414.4,184.9 L415.0,184.6 L415.6,184.3 L416.2,184.0 L416.8,183.8 L417.4,183.6 L418.0,183.3 L418.6,183.1 L419.3,182.9 L420.0,182.6 L420.8,182.3 L421.6,182.1 L422.4,181.8 L423.3,181.5 L424.2,181.2 L425.1,181.0 L426.1,180.7 L427.0,180.4 L427.9,180.1 L428.9,179.9 L429.8,179.6 L430.8,179.3 L431.8,179.1 L432.8,178.8 L433.9,178.5 L435.0,178.2 L436.2,177.9 L437.4,177.6 L438.7,177.2 L440.0,176.9 L441.3,176.5 L442.6,176.2 L443.8,175.8 L445.0,175.5 L446.1,175.2 L447.1,174.9 L448.1,174.6 L449.1,174.3 L450.0,174.0 L451.0,173.7 L452.0,173.4 L453.0,173.0 L454.1,172.6 L455.2,172.2 L456.3,171.8 L457.4,171.4 L458.6,171.0 L459.7,170.5 L460.9,170.0 L462.0,169.5 L463.1,169.0 L464.3,168.4 L465.5,167.8 L466.6,167.2 L467.8,166.5 L468.9,165.9 L470.0,165.3 L471.0,164.7 L472.0,164.1 L472.9,163.5 L473.8,163.0 L474.6,162.4 L475.5,161.8 L476.3,161.2 L477.1,160.6 L478.0,160.0 L478.9,159.3 L479.8,158.6 L480.7,157.9 L481.6,157.2 L482.5,156.5 L483.4,155.8 L484.2,155.0 L485.0,154.3 L485.7,153.6 L486.4,152.9 L487.1,152.1 L487.7,151.4 L488.3,150.7 L488.9,149.9 L489.4,149.2 L490.0,148.5 L490.6,147.8 L491.1,147.0 L491.7,146.3 L492.2,145.6 L492.8,144.9 L493.3,144.2 L493.7,143.5 L494.2,142.8 L494.6,142.2 L495.0,141.5 L495.4,140.9 L495.7,140.3 L496.1,139.7 L496.4,139.1 L496.7,138.5 L497.0,138.0 L497.3,137.5 L497.6,136.9 L497.8,136.3 L498.1,135.8 L498.3,135.3 L498.5,134.9 L498.7,134.5 L498.8,134.2" fill="none" stroke="#111" stroke-width="1.3" stroke-linejoin="round" stroke-linecap="round"/>
<path d="M392.4,131.4 L392.7,131.5 L393.1,131.6 L393.6,131.7 L394.1,131.9 L394.7,132.0 L395.3,132.1 L395.9,132.2 L396.5,132.2 L397.1,132.2 L397.7,132.1 L398.3,132.0 L398.9,131.9 L399.6,131.7 L400.3,131.6 L401.2,131.4 L402.2,131.3 L403.3,131.2 L404.5,131.0 L405.8,130.8 L407.2,130.7 L408.7,130.5 L410.3,130.3 L411.9,130.2 L413.6,130.1 L415.4,130.0 L417.2,130.0 L419.1,129.9 L421.1,129.9 L423.2,129.9 L425.3,129.8 L427.6,129.8 L430.0,129.8 L432.6,129.8 L435.3,129.7 L438.1,129.7 L441.0,129.7 L444.0,129.7 L447.0,129.7 L450.0,129.7 L452.9,129.8 L455.8,129.9 L458.9,130.1 L461.9,130.3 L464.9,130.6 L467.9,130.8 L470.8,131.1 L473.5,131.3 L475.9,131.5 L478.1,131.7 L480.2,131.8 L482.1,131.9 L483.9,132.1 L485.6,132.2 L487.1,132.3 L488.6,132.5 L490.0,132.6 L491.3,132.8 L492.6,132.9 L493.7,133.1 L494.7,133.3 L495.7,133.5 L496.5,133.7 L497.1,133.8 L497.7,133.9" fill="none" stroke="#ec1c24" stroke-width="1.3" stroke-linejoin="round" stroke-linecap="round"/>
<path d="M391.7,201.5 L392.0,201.2 L392.5,200.9 L393.0,200.5 L393.6,200.1 L394.2,199.6 L394.8,199.1 L395.4,198.6 L396.0,198.2 L396.5,197.8 L397.0,197.4 L397.5,196.9 L398.0,196.5 L398.4,196.1 L398.9,195.7 L399.5,195.2 L400.0,194.8 L400.6,194.4 L401.2,193.9 L401.8,193.5 L402.4,193.0 L403.1,192.5 L403.7,192.1 L404.4,191.6 L405.0,191.2 L405.6,190.8 L406.2,190.3 L406.9,189.9 L407.5,189.5 L408.1,189.1 L408.8,188.7 L409.4,188.3 L410.0,187.9 L410.6,187.5 L411.2,187.2 L411.9,186.8 L412.5,186.5 L413.1,186.1 L413.8,185.8 L414.4,185.5 L415.0,185.2 L415.6,184.9 L416.2,184.7 L416.8,184.4 L417.4,184.2 L418.0,183.9 L418.6,183.7 L419.3,183.5 L420.0,183.2 L420.8,182.9 L421.6,182.7 L422.4,182.4 L423.3,182.1 L424.2,181.8 L425.1,181.6 L426.1,181.3 L427.0,181.0 L427.9,180.7 L428.9,180.5 L429.8,180.2 L430.8,179.9 L431.8,179.7 L432.8,179.4 L433.9,179.1 L435.0,178.8 L436.2,178.5 L437.4,178.1 L438.7,177.8 L440.0,177.4 L441.3,177.1 L442.6,176.7 L443.8,176.3 L445.0,176.0 L446.1,175.7 L447.1,175.4 L448.1,175.1 L449.1,174.8 L450.0,174.5 L451.0,174.2 L452.0,173.9 L453.0,173.5 L454.1,173.1 L455.2,172.7 L456.3,172.3 L457.4,171.9 L458.6,171.5 L459.7,171.0 L460.9,170.5 L462.0,170.0 L463.1,169.5 L464.3,168.9 L465.5,168.3 L466.6,167.7 L467.8,167.0 L468.9,166.4 L470.0,165.8 L471.0,165.2 L472.0,164.6 L472.9,164.0 L473.8,163.5 L474.6,162.9 L475.5,162.3 L476.3,161.7 L477.1,161.1 L478.0,160.5 L478.9,159.8 L479.8,159.1 L480.7,158.4 L481.6,157.7 L482.5,157.0 L483.4,156.3 L484.2,155.5 L485.0,154.8 L485.7,154.1 L486.4,153.4 L487.1,152.6 L487.7,151.9 L488.3,151.2 L488.9,150.4 L489.4,149.7 L490.0,149.0 L490.6,148.3 L491.1,147.5 L491.7,146.8 L492.2,146.1 L492.8,145.4 L493.3,144.7 L493.7,144.0 L494.2,143.3 L494.6,142.6 L495.0,142.0 L495.4,141.4 L495.7,140.8 L496.1,140.2 L496.4,139.6 L496.7,139.0 L497.0,138.4 L497.3,137.8 L497.6,137.2 L497.8,136.6 L498.1,136.0 L498.3,135.4 L498.5,134.9 L498.7,134.5 L498.8,134.2" fill="none" stroke="#ec1c24" stroke-width="1.3" stroke-linejoin="round" stroke-linecap="round"/>
<path d="M552.0,195.0 L552.4,194.6 L552.9,194.2 L553.6,193.6 L554.3,193.0 L555.1,192.4 L555.8,191.7 L556.6,191.1 L557.3,190.5 L557.9,190.0 L558.6,189.4 L559.3,188.9 L559.9,188.4 L560.6,187.8 L561.2,187.3 L561.9,186.8 L562.6,186.3 L563.2,185.7 L563.9,185.2 L564.5,184.7 L565.2,184.2 L565.9,183.7 L566.5,183.3 L567.2,182.8 L567.8,182.3 L568.5,181.9 L569.2,181.4 L569.8,181.0 L570.5,180.5 L571.1,180.1 L571.8,179.7 L572.5,179.2 L573.1,178.8 L573.8,178.4 L574.5,178.0 L575.1,177.7 L575.8,177.3 L576.4,176.9 L577.1,176.5 L577.8,176.2 L578.4,175.8 L579.1,175.5 L579.7,175.2 L580.4,174.8 L581.1,174.5 L581.7,174.2 L582.4,173.9 L583.0,173.6 L583.7,173.4 L584.4,173.1 L585.0,172.8 L585.7,172.5 L586.3,172.3 L587.0,172.0 L587.7,171.8 L588.3,171.6 L589.0,171.3 L589.6,171.1 L590.3,170.9 L591.0,170.7 L591.6,170.5 L592.3,170.3 L592.9,170.1 L593.6,169.9 L594.3,169.7 L594.9,169.5 L595.6,169.4 L596.2,169.2 L596.9,169.0 L597.6,168.9 L598.2,168.7 L598.9,168.6 L599.5,168.4 L600.2,168.2 L600.9,168.1 L601.5,168.0 L602.2,167.8 L602.8,167.7 L603.5,167.5 L604.2,167.4 L604.8,167.3 L605.5,167.1 L606.1,167.0 L606.8,166.9 L607.5,166.7 L608.1,166.6 L608.8,166.5 L609.4,166.3 L610.1,166.2 L610.8,166.1 L611.4,165.9 L612.1,165.8 L612.8,165.7 L613.4,165.5 L614.1,165.4 L614.7,165.2 L615.4,165.1 L616.1,164.9 L616.7,164.8 L617.4,164.6 L618.0,164.4 L618.7,164.3 L619.4,164.1 L620.0,163.9 L620.7,163.7 L621.3,163.5 L622.0,163.4 L622.7,163.2 L623.3,163.0 L624.0,162.7 L624.6,162.5 L625.3,162.3 L626.0,162.1 L626.6,161.8 L627.3,161.6 L627.9,161.4 L628.6,161.1 L629.3,160.8 L629.9,160.6 L630.6,160.3 L631.2,160.0 L631.9,159.7 L632.6,159.4 L633.2,159.1 L633.9,158.8 L634.5,158.5 L635.2,158.1 L635.9,157.8 L636.5,157.4 L637.2,157.1 L637.8,156.7 L638.5,156.3 L639.2,156.0 L639.8,155.6 L640.5,155.2 L641.1,154.8 L641.8,154.3 L642.5,153.9 L643.1,153.5 L643.8,153.0 L644.4,152.6 L645.1,152.1 L645.8,151.6 L646.4,151.2 L647.1,150.7 L647.7,150.2 L648.4,149.7 L649.1,149.2 L649.7,148.7 L650.4,148.1 L651.0,147.6 L651.7,147.1 L652.4,146.5 L653.0,146.0 L653.7,145.4 L654.4,144.9 L655.0,144.3 L655.7,143.7 L656.3,143.2 L657.0,142.6 L657.7,142.0 L658.3,141.4 L659.0,140.8 L659.6,140.2 L660.3,139.6 L661.0,139.0 L661.6,138.4 L662.3,137.8 L662.9,137.2 L663.6,136.6 L664.3,136.0 L664.9,135.4 L665.6,134.8 L666.2,134.2 L666.9,133.6 L667.6,133.0 L668.2,132.4 L668.9,131.8 L669.7,131.1 L670.4,130.5 L671.2,129.8 L671.9,129.2 L672.6,128.7 L673.1,128.2 L673.5,127.9 L673.5,130.7 L673.1,131.1 L672.6,131.6 L671.9,132.3 L671.2,133.0 L670.4,133.7 L669.7,134.5 L668.9,135.2 L668.2,135.9 L667.6,136.6 L666.9,137.2 L666.2,137.9 L665.6,138.6 L664.9,139.2 L664.3,139.9 L663.6,140.5 L662.9,141.2 L662.3,141.8 L661.6,142.5 L661.0,143.1 L660.3,143.7 L659.6,144.4 L659.0,145.0 L658.3,145.6 L657.7,146.2 L657.0,146.9 L656.3,147.5 L655.7,148.1 L655.0,148.7 L654.4,149.2 L653.7,149.8 L653.0,150.4 L652.4,151.0 L651.7,151.5 L651.0,152.1 L650.4,152.6 L649.7,153.1 L649.1,153.7 L648.4,154.2 L647.7,154.7 L647.1,155.2 L646.4,155.7 L645.8,156.2 L645.1,156.6 L644.4,157.1 L643.8,157.6 L643.1,158.0 L642.5,158.4 L641.8,158.9 L641.1,159.3 L640.5,159.7 L639.8,160.1 L639.2,160.5 L638.5,160.9 L637.8,161.3 L637.2,161.7 L636.5,162.0 L635.9,162.4 L635.2,162.7 L634.5,163.1 L633.9,163.4 L633.2,163.7 L632.6,164.0 L631.9,164.3 L631.2,164.6 L630.6,164.9 L629.9,165.2 L629.3,165.5 L628.6,165.8 L627.9,166.0 L627.3,166.3 L626.6,166.5 L626.0,166.8 L625.3,167.0 L624.6,167.3 L624.0,167.5 L623.3,167.7 L622.7,167.9 L622.0,168.1 L621.3,168.3 L620.7,168.5 L620.0,168.7 L619.4,168.9 L618.7,169.1 L618.0,169.3 L617.4,169.5 L616.7,169.6 L616.1,169.8 L615.4,170.0 L614.7,170.1 L614.1,170.3 L613.4,170.5 L612.8,170.6 L612.1,170.8 L611.4,170.9 L610.8,171.1 L610.1,171.2 L609.4,171.4 L608.8,171.5 L608.1,171.7 L607.5,171.8 L606.8,172.0 L606.1,172.1 L605.5,172.3 L604.8,172.4 L604.2,172.6 L603.5,172.7 L602.8,172.9 L602.2,173.0 L601.5,173.2 L600.9,173.3 L600.2,173.5 L599.5,173.6 L598.9,173.8 L598.2,174.0 L597.6,174.1 L596.9,174.3 L596.2,174.5 L595.6,174.7 L594.9,174.8 L594.3,175.0 L593.6,175.2 L592.9,175.4 L592.3,175.6 L591.6,175.8 L591.0,176.0 L590.3,176.2 L589.6,176.4 L589.0,176.7 L588.3,176.9 L587.7,177.1 L587.0,177.4 L586.3,177.6 L585.7,177.9 L585.0,178.1 L584.4,178.4 L583.7,178.7 L583.0,178.9 L582.4,179.2 L581.7,179.5 L581.1,179.8 L580.4,180.1 L579.7,180.4 L579.1,180.7 L578.4,181.1 L577.8,181.4 L577.1,181.7 L576.4,182.1 L575.8,182.4 L575.1,182.8 L574.5,183.1 L573.8,183.5 L573.1,183.9 L572.5,184.3 L571.8,184.7 L571.1,185.1 L570.5,185.5 L569.8,185.9 L569.2,186.3 L568.5,186.7 L567.8,187.2 L567.2,187.6 L566.5,188.0 L565.9,188.5 L565.2,188.9 L564.5,189.4 L563.9,189.9 L563.2,190.3 L562.6,190.8 L561.9,191.3 L561.2,191.8 L560.6,192.3 L559.9,192.8 L559.3,193.3 L558.6,193.8 L557.9,194.3 L557.3,194.8 L556.6,195.3 L555.8,195.9 L555.1,196.5 L554.3,197.1 L553.6,197.6 L552.9,198.1 L552.4,198.6 L552.0,198.9 Z" fill="#d9d9d9" stroke="#d0d0d0" stroke-width="0.5"/>
<path d="M552.0,196.9 L552.4,196.6 L552.9,196.1 L553.6,195.6 L554.3,195.0 L555.1,194.4 L555.8,193.8 L556.6,193.2 L557.3,192.6 L557.9,192.1 L558.6,191.6 L559.3,191.1 L559.9,190.6 L560.6,190.0 L561.2,189.5 L561.9,189.0 L562.6,188.5 L563.2,188.0 L563.9,187.6 L564.5,187.1 L565.2,186.6 L565.9,186.1 L566.5,185.7 L567.2,185.2 L567.8,184.7 L568.5,184.3 L569.2,183.9 L569.8,183.4 L570.5,183.0 L571.1,182.6 L571.8,182.2 L572.5,181.8 L573.1,181.4 L573.8,181.0 L574.5,180.6 L575.1,180.2 L575.8,179.8 L576.4,179.5 L577.1,179.1 L577.8,178.8 L578.4,178.4 L579.1,178.1 L579.7,177.8 L580.4,177.5 L581.1,177.2 L581.7,176.9 L582.4,176.6 L583.0,176.3 L583.7,176.0 L584.4,175.7 L585.0,175.5 L585.7,175.2 L586.3,175.0 L587.0,174.7 L587.7,174.5 L588.3,174.2 L589.0,174.0 L589.6,173.8 L590.3,173.6 L591.0,173.4 L591.6,173.1 L592.3,172.9 L592.9,172.8 L593.6,172.6 L594.3,172.4 L594.9,172.2 L595.6,172.0 L596.2,171.8 L596.9,171.7 L597.6,171.5 L598.2,171.3 L598.9,171.2 L599.5,171.0 L600.2,170.9 L600.9,170.7 L601.5,170.6 L602.2,170.4 L602.8,170.3 L603.5,170.1 L604.2,170.0 L604.8,169.8 L605.5,169.7 L606.1,169.6 L606.8,169.4 L607.5,169.3 L608.1,169.1 L608.8,169.0 L609.4,168.9 L610.1,168.7 L610.8,168.6 L611.4,168.4 L612.1,168.3 L612.8,168.1 L613.4,168.0 L614.1,167.8 L614.7,167.7 L615.4,167.5 L616.1,167.4 L616.7,167.2 L617.4,167.0 L618.0,166.9 L618.7,166.7 L619.4,166.5 L620.0,166.3 L620.7,166.1 L621.3,165.9 L622.0,165.7 L622.7,165.5 L623.3,165.3 L624.0,165.1 L624.6,164.9 L625.3,164.7 L626.0,164.4 L626.6,164.2 L627.3,163.9 L627.9,163.7 L628.6,163.4 L629.3,163.2 L629.9,162.9 L630.6,162.6 L631.2,162.3 L631.9,162.0 L632.6,161.7 L633.2,161.4 L633.9,161.1 L634.5,160.8 L635.2,160.4 L635.9,160.1 L636.5,159.7 L637.2,159.4 L637.8,159.0 L638.5,158.6 L639.2,158.2 L639.8,157.8 L640.5,157.4 L641.1,157.0 L641.8,156.6 L642.5,156.2 L643.1,155.7 L643.8,155.3 L644.4,154.8 L645.1,154.4 L645.8,153.9 L646.4,153.4 L647.1,152.9 L647.7,152.4 L648.4,151.9 L649.1,151.4 L649.7,150.9 L650.4,150.4 L651.0,149.8 L651.7,149.3 L652.4,148.7 L653.0,148.2 L653.7,147.6 L654.4,147.1 L655.0,146.5 L655.7,145.9 L656.3,145.3 L657.0,144.7 L657.7,144.1 L658.3,143.5 L659.0,142.9 L659.6,142.3 L660.3,141.7 L661.0,141.1 L661.6,140.4 L662.3,139.8 L662.9,139.2 L663.6,138.6 L664.3,137.9 L664.9,137.3 L665.6,136.7 L666.2,136.0 L666.9,135.4 L667.6,134.8 L668.2,134.1 L668.9,133.5 L669.7,132.8 L670.4,132.1 L671.2,131.4 L671.9,130.7 L672.6,130.1 L673.1,129.6 L673.5,129.3" fill="none" stroke="#a8a8a8" stroke-width="0.9" stroke-dasharray="3.5,3"/>
<path d="M552.0,197.6 L552.5,197.2 L553.1,196.7 L553.9,196.1 L554.8,195.4 L555.7,194.7 L556.6,194.0 L557.5,193.3 L558.4,192.6 L559.2,192.0 L560.0,191.4 L560.7,190.9 L561.5,190.3 L562.3,189.7 L563.1,189.1 L563.9,188.5 L564.7,188.0 L565.5,187.4 L566.3,186.9 L567.1,186.3 L567.9,185.8 L568.7,185.3 L569.5,184.8 L570.3,184.3 L571.1,183.8 L571.9,183.3 L572.7,182.9 L573.5,182.4 L574.3,181.9 L575.1,181.5 L575.9,181.1 L576.7,180.7 L577.5,180.2 L578.2,179.8 L579.0,179.4 L579.8,179.1 L580.6,178.7 L581.4,178.3 L582.2,178.0 L583.0,177.6 L583.8,177.3 L584.6,177.0 L585.4,176.7 L586.2,176.4 L587.0,176.1 L587.8,175.8 L588.6,175.5 L589.4,175.2 L590.2,175.0 L591.0,174.7 L591.8,174.5 L592.6,174.2 L593.4,174.0 L594.2,173.8 L595.0,173.5 L595.7,173.3 L596.5,173.1 L597.3,172.9 L598.1,172.7 L598.9,172.5 L599.7,172.3 L600.5,172.1 L601.3,171.9 L602.1,171.7 L602.9,171.6 L603.7,171.4 L604.5,171.2 L605.3,171.0 L606.1,170.8 L606.9,170.7 L607.7,170.5 L608.5,170.3 L609.3,170.1 L610.1,169.9 L610.9,169.8 L611.7,169.6 L612.5,169.4 L613.2,169.2 L614.0,169.0 L614.8,168.8 L615.6,168.6 L616.4,168.4 L617.2,168.2 L618.0,168.0 L618.8,167.8 L619.6,167.6 L620.4,167.3 L621.2,167.1 L622.0,166.8 L622.8,166.6 L623.6,166.3 L624.4,166.0 L625.2,165.8 L626.0,165.5 L626.8,165.2 L627.6,164.9 L628.4,164.6 L629.2,164.2 L629.9,163.9 L630.7,163.6 L631.5,163.2 L632.3,162.8 L633.1,162.5 L633.9,162.1 L634.7,161.7 L635.5,161.3 L636.3,160.8 L637.1,160.4 L637.9,160.0 L638.7,159.5 L639.5,159.0 L640.3,158.5 L641.1,158.0 L641.9,157.5 L642.7,157.0 L643.5,156.5 L644.3,155.9 L645.1,155.4 L645.9,154.8 L646.7,154.2 L647.4,153.6 L648.2,153.0 L649.0,152.4 L649.8,151.7 L650.6,151.1 L651.4,150.4 L652.2,149.8 L653.0,149.1 L653.8,148.4 L654.6,147.7 L655.4,147.0 L656.2,146.3 L657.0,145.6 L657.8,144.8 L658.6,144.1 L659.4,143.3 L660.2,142.6 L661.0,141.8 L661.8,141.0 L662.6,140.2 L663.4,139.5 L664.2,138.7 L664.9,137.9 L665.7,137.1 L666.5,136.3 L667.4,135.5 L668.3,134.6 L669.2,133.6 L670.1,132.7 L671.0,131.9 L671.8,131.1 L672.4,130.4 L672.9,130.0" fill="none" stroke="#8a8a8a" stroke-width="1.3" stroke-linejoin="round" stroke-linecap="round"/>
<path d="M552.0,198.1 L552.5,197.7 L553.1,197.2 L553.9,196.6 L554.8,195.9 L555.7,195.2 L556.6,194.5 L557.5,193.8 L558.4,193.1 L559.2,192.5 L560.0,191.9 L560.7,191.4 L561.5,190.8 L562.3,190.2 L563.1,189.6 L563.9,189.0 L564.7,188.5 L565.5,187.9 L566.3,187.4 L567.1,186.8 L567.9,186.3 L568.7,185.8 L569.5,185.3 L570.3,184.8 L571.1,184.3 L571.9,183.8 L572.7,183.4 L573.5,182.9 L574.3,182.4 L575.1,182.0 L575.9,181.6 L576.7,181.2 L577.5,180.7 L578.2,180.3 L579.0,179.9 L579.8,179.6 L580.6,179.2 L581.4,178.8 L582.2,178.5 L583.0,178.1 L583.8,177.8 L584.6,177.5 L585.4,177.2 L586.2,176.9 L587.0,176.6 L587.8,176.3 L588.6,176.0 L589.4,175.7 L590.2,175.5 L591.0,175.2 L591.8,175.0 L592.6,174.7 L593.4,174.5 L594.2,174.3 L595.0,174.0 L595.7,173.8 L596.5,173.6 L597.3,173.4 L598.1,173.2 L598.9,173.0 L599.7,172.8 L600.5,172.6 L601.3,172.4 L602.1,172.2 L602.9,172.1 L603.7,171.9 L604.5,171.7 L605.3,171.5 L606.1,171.3 L606.9,171.2 L607.7,171.0 L608.5,170.8 L609.3,170.6 L610.1,170.4 L610.9,170.3 L611.7,170.1 L612.5,169.9 L613.2,169.7 L614.0,169.5 L614.8,169.3 L615.6,169.1 L616.4,168.9 L617.2,168.7 L618.0,168.5 L618.8,168.3 L619.6,168.1 L620.4,167.8 L621.2,167.6 L622.0,167.3 L622.8,167.1 L623.6,166.8 L624.4,166.5 L625.2,166.3 L626.0,166.0 L626.8,165.7 L627.6,165.4 L628.4,165.1 L629.2,164.7 L629.9,164.4 L630.7,164.1 L631.5,163.7 L632.3,163.3 L633.1,163.0 L633.9,162.6 L634.7,162.2 L635.5,161.8 L636.3,161.3 L637.1,160.9 L637.9,160.5 L638.7,160.0 L639.5,159.5 L640.3,159.0 L641.1,158.5 L641.9,158.0 L642.7,157.5 L643.5,157.0 L644.3,156.4 L645.1,155.9 L645.9,155.3 L646.7,154.7 L647.4,154.1 L648.2,153.5 L649.0,152.9 L649.8,152.2 L650.6,151.6 L651.4,150.9 L652.2,150.3 L653.0,149.6 L653.8,148.9 L654.6,148.2 L655.4,147.5 L656.2,146.8 L657.0,146.1 L657.8,145.3 L658.6,144.6 L659.4,143.8 L660.2,143.1 L661.0,142.3 L661.8,141.5 L662.6,140.7 L663.4,140.0 L664.2,139.2 L664.9,138.4 L665.7,137.6 L666.5,136.8 L667.4,136.0 L668.3,135.1 L669.2,134.1 L670.1,133.2 L671.0,132.4 L671.8,131.6 L672.4,130.9 L672.9,130.5" fill="none" stroke="#111" stroke-width="1.3" stroke-linejoin="round" stroke-linecap="round"/>
<path d="M552.0,199.3 L552.5,198.9 L553.1,198.4 L553.9,197.8 L554.8,197.1 L555.7,196.4 L556.6,195.6 L557.5,194.9 L558.4,194.3 L559.2,193.7 L560.0,193.1 L560.7,192.5 L561.5,191.9 L562.3,191.3 L563.1,190.7 L563.9,190.2 L564.7,189.6 L565.5,189.1 L566.3,188.5 L567.1,188.0 L567.9,187.5 L568.7,187.0 L569.5,186.5 L570.3,186.0 L571.1,185.5 L571.9,185.1 L572.7,184.6 L573.5,184.2 L574.3,183.7 L575.1,183.3 L575.9,182.9 L576.7,182.5 L577.5,182.1 L578.2,181.7 L579.0,181.3 L579.8,180.9 L580.6,180.6 L581.4,180.2 L582.2,179.9 L583.0,179.6 L583.8,179.2 L584.6,178.9 L585.4,178.6 L586.2,178.3 L587.0,178.0 L587.8,177.8 L588.6,177.5 L589.4,177.2 L590.2,177.0 L591.0,176.7 L591.8,176.5 L592.6,176.2 L593.4,176.0 L594.2,175.8 L595.0,175.6 L595.7,175.4 L596.5,175.2 L597.3,174.9 L598.1,174.8 L598.9,174.6 L599.7,174.4 L600.5,174.2 L601.3,174.0 L602.1,173.8 L602.9,173.6 L603.7,173.5 L604.5,173.3 L605.3,173.1 L606.1,172.9 L606.9,172.8 L607.7,172.6 L608.5,172.4 L609.3,172.2 L610.1,172.1 L610.9,171.9 L611.7,171.7 L612.5,171.5 L613.2,171.3 L614.0,171.1 L614.8,171.0 L615.6,170.8 L616.4,170.6 L617.2,170.3 L618.0,170.1 L618.8,169.9 L619.6,169.7 L620.4,169.5 L621.2,169.2 L622.0,169.0 L622.8,168.8 L623.6,168.5 L624.4,168.2 L625.2,168.0 L626.0,167.7 L626.8,167.4 L627.6,167.1 L628.4,166.8 L629.2,166.5 L629.9,166.2 L630.7,165.8 L631.5,165.5 L632.3,165.1 L633.1,164.8 L633.9,164.4 L634.7,164.0 L635.5,163.6 L636.3,163.2 L637.1,162.8 L637.9,162.3 L638.7,161.9 L639.5,161.4 L640.3,160.9 L641.1,160.5 L641.9,160.0 L642.7,159.5 L643.5,158.9 L644.3,158.4 L645.1,157.9 L645.9,157.3 L646.7,156.7 L647.4,156.2 L648.2,155.6 L649.0,155.0 L649.8,154.4 L650.6,153.7 L651.4,153.1 L652.2,152.4 L653.0,151.8 L653.8,151.1 L654.6,150.4 L655.4,149.7 L656.2,149.0 L657.0,148.3 L657.8,147.6 L658.6,146.9 L659.4,146.1 L660.2,145.4 L661.0,144.6 L661.8,143.9 L662.6,143.1 L663.4,142.3 L664.2,141.5 L664.9,140.7 L665.7,140.0 L666.5,139.2 L667.4,138.3 L668.3,137.4 L669.2,136.5 L670.1,135.6 L671.0,134.7 L671.8,133.9 L672.4,133.2 L672.9,132.7" fill="none" stroke="#ec1c24" stroke-width="1.3" stroke-linejoin="round" stroke-linecap="round"/>
<text transform="translate(44.2 27.6)" font-size="10" font-weight="normal" text-anchor="end" fill="#262626">1</text>
<text transform="translate(44.2 55.7)" font-size="10" font-weight="normal" text-anchor="end" fill="#262626">0.5</text>
<text transform="translate(44.2 83.8)" font-size="10" font-weight="normal" text-anchor="end" fill="#262626">0</text>
<text transform="translate(225.5 9.2)" font-size="10" font-weight="normal" text-anchor="end" fill="#262626">0.8</text>
<text transform="translate(225.5 40.6)" font-size="10" font-weight="normal" text-anchor="end" fill="#262626">0.4</text>
<text transform="translate(225.5 71.4)" font-size="10" font-weight="normal" text-anchor="end" fill="#262626">0</text>
<text transform="translate(225.5 101.9)" font-size="10" font-weight="normal" text-anchor="end" fill="#262626">-0.4</text>
<text transform="translate(386.0 20.3)" font-size="10" font-weight="normal" text-anchor="end" fill="#262626">1</text>
<text transform="translate(386.0 47.1)" font-size="10" font-weight="normal" text-anchor="end" fill="#262626">0.5</text>
<text transform="translate(386.0 73.9)" font-size="10" font-weight="normal" text-anchor="end" fill="#262626">0</text>
<text transform="translate(386.0 100.6)" font-size="10" font-weight="normal" text-anchor="end" fill="#262626">-0.5</text>
<text transform="translate(546.0 7.9)" font-size="10" font-weight="normal" text-anchor="end" fill="#262626">60</text>
<text transform="translate(546.0 28.7)" font-size="10" font-weight="normal" text-anchor="end" fill="#262626">40</text>
<text transform="translate(546.0 49.3)" font-size="10" font-weight="normal" text-anchor="end" fill="#262626">20</text>
<text transform="translate(546.0 70.0)" font-size="10" font-weight="normal" text-anchor="end" fill="#262626">0</text>
<text transform="translate(546.0 90.6)" font-size="10" font-weight="normal" text-anchor="end" fill="#262626">-20</text>
<text transform="translate(44.2 139.8)" font-size="10" font-weight="normal" text-anchor="end" fill="#262626">1</text>
<text transform="translate(44.2 168.0)" font-size="10" font-weight="normal" text-anchor="end" fill="#262626">0.5</text>
<text transform="translate(44.2 196.0)" font-size="10" font-weight="normal" text-anchor="end" fill="#262626">0</text>
<text transform="translate(225.5 122.2)" font-size="10" font-weight="normal" text-anchor="end" fill="#262626">0.8</text>
<text transform="translate(225.5 152.7)" font-size="10" font-weight="normal" text-anchor="end" fill="#262626">0.4</text>
<text transform="translate(225.5 183.7)" font-size="10" font-weight="normal" text-anchor="end" fill="#262626">0</text>
<text transform="translate(225.5 213.3)" font-size="10" font-weight="normal" text-anchor="end" fill="#262626">-0.4</text>
<text transform="translate(386.0 133.0)" font-size="10" font-weight="normal" text-anchor="end" fill="#262626">1</text>
<text transform="translate(386.0 159.8)" font-size="10" font-weight="normal" text-anchor="end" fill="#262626">0.5</text>
<text transform="translate(386.0 186.5)" font-size="10" font-weight="normal" text-anchor="end" fill="#262626">0</text>
<text transform="translate(386.0 213.3)" font-size="10" font-weight="normal" text-anchor="end" fill="#262626">-0.5</text>
<text transform="translate(546.0 122.3)" font-size="10" font-weight="normal" text-anchor="end" fill="#262626">60</text>
<text transform="translate(546.0 142.9)" font-size="10" font-weight="normal" text-anchor="end" fill="#262626">40</text>
<text transform="translate(546.0 163.4)" font-size="10" font-weight="normal" text-anchor="end" fill="#262626">20</text>
<text transform="translate(546.0 183.3)" font-size="10" font-weight="normal" text-anchor="end" fill="#262626">0</text>
<text transform="translate(546.0 203.9)" font-size="10" font-weight="normal" text-anchor="end" fill="#262626">-20</text>
<text transform="translate(45.5 110.0)" font-size="10" font-weight="normal" text-anchor="middle" fill="#262626">0</text>
<text transform="translate(109.8 110.0)" font-size="10" font-weight="normal" text-anchor="middle" fill="#262626">50</text>
<text transform="translate(174.0 110.0)" font-size="10" font-weight="normal" text-anchor="middle" fill="#262626">100</text>
<text transform="translate(226.6 110.0)" font-size="10" font-weight="normal" text-anchor="middle" fill="#262626">0</text>
<text transform="translate(283.7 110.0)" font-size="10" font-weight="normal" text-anchor="middle" fill="#262626">50</text>
<text transform="translate(340.8 110.0)" font-size="10" font-weight="normal" text-anchor="middle" fill="#262626">100</text>
<text transform="translate(387.4 110.0)" font-size="10" font-weight="normal" text-anchor="middle" fill="#262626">0</text>
<text transform="translate(444.7 110.0)" font-size="10" font-weight="normal" text-anchor="middle" fill="#262626">50</text>
<text transform="translate(502.0 110.0)" font-size="10" font-weight="normal" text-anchor="middle" fill="#262626">100</text>
<text transform="translate(547.2 110.0)" font-size="10" font-weight="normal" text-anchor="middle" fill="#262626">0</text>
<text transform="translate(612.0 110.0)" font-size="10" font-weight="normal" text-anchor="middle" fill="#262626">50</text>
<text transform="translate(676.8 110.0)" font-size="10" font-weight="normal" text-anchor="middle" fill="#262626">100</text>
<text transform="translate(45.5 222.3)" font-size="10" font-weight="normal" text-anchor="middle" fill="#262626">0</text>
<text transform="translate(109.8 222.3)" font-size="10" font-weight="normal" text-anchor="middle" fill="#262626">50</text>
<text transform="translate(174.0 222.3)" font-size="10" font-weight="normal" text-anchor="middle" fill="#262626">100</text>
<text transform="translate(226.6 222.3)" font-size="10" font-weight="normal" text-anchor="middle" fill="#262626">0</text>
<text transform="translate(283.7 222.3)" font-size="10" font-weight="normal" text-anchor="middle" fill="#262626">50</text>
<text transform="translate(340.8 222.3)" font-size="10" font-weight="normal" text-anchor="middle" fill="#262626">100</text>
<text transform="translate(387.4 222.3)" font-size="10" font-weight="normal" text-anchor="middle" fill="#262626">0</text>
<text transform="translate(444.7 222.3)" font-size="10" font-weight="normal" text-anchor="middle" fill="#262626">50</text>
<text transform="translate(502.0 222.3)" font-size="10" font-weight="normal" text-anchor="middle" fill="#262626">100</text>
<text transform="translate(547.2 222.3)" font-size="10" font-weight="normal" text-anchor="middle" fill="#262626">0</text>
<text transform="translate(612.0 222.3)" font-size="10" font-weight="normal" text-anchor="middle" fill="#262626">50</text>
<text transform="translate(676.8 222.3)" font-size="10" font-weight="normal" text-anchor="middle" fill="#262626">100</text>
<text transform="translate(9.9 52.6) rotate(-90) scale(1.1546 1)" font-size="13.2" font-weight="bold" text-anchor="middle" fill="#111">Prosthetic Side</text>
<text transform="translate(9.9 167.0) rotate(-90) scale(1.1676 1)" font-size="13.2" font-weight="bold" text-anchor="middle" fill="#111">Intact Side</text>
<text transform="translate(27.4 53.1) rotate(-90) scale(1.0219 1)" font-size="11" font-weight="normal" text-anchor="middle" fill="#262626">Normalized Force [-]</text>
<text transform="translate(193.4 53.1) rotate(-90) scale(1.0572 1)" font-size="11" font-weight="normal" text-anchor="middle" fill="#262626">Normalized Center</text>
<text transform="translate(206.8 51.3) rotate(-90) scale(1.0330 1)" font-size="11" font-weight="normal" text-anchor="middle" fill="#262626">of Pressure [-]</text>
<text transform="translate(354.9 53.2) rotate(-90) scale(1.0567 1)" font-size="11" font-weight="normal" text-anchor="middle" fill="#262626">Normalized Knee</text>
<text transform="translate(367.6 53.8) rotate(-90) scale(0.9979 1)" font-size="11" font-weight="normal" text-anchor="middle" fill="#262626">Position [-]</text>
<text transform="translate(515.4 52.2) rotate(-90) scale(1.0297 1)" font-size="11" font-weight="normal" text-anchor="middle" fill="#262626">Lower Leg</text>
<text transform="translate(528.9 51.8) rotate(-90) scale(1.0953 1)" font-size="11" font-weight="normal" text-anchor="middle" fill="#262626">Orientation [deg]</text>
<text transform="translate(27.4 166.7) rotate(-90) scale(1.0219 1)" font-size="11" font-weight="normal" text-anchor="middle" fill="#262626">Normalized Force [-]</text>
<text transform="translate(193.4 166.7) rotate(-90) scale(1.0572 1)" font-size="11" font-weight="normal" text-anchor="middle" fill="#262626">Normalized Center</text>
<text transform="translate(206.8 164.89999999999998) rotate(-90) scale(1.0330 1)" font-size="11" font-weight="normal" text-anchor="middle" fill="#262626">of Pressure [-]</text>
<text transform="translate(354.9 166.8) rotate(-90) scale(1.0567 1)" font-size="11" font-weight="normal" text-anchor="middle" fill="#262626">Normalized Knee</text>
<text transform="translate(367.6 167.39999999999998) rotate(-90) scale(0.9979 1)" font-size="11" font-weight="normal" text-anchor="middle" fill="#262626">Position [-]</text>
<text transform="translate(515.4 165.8) rotate(-90) scale(1.0297 1)" font-size="11" font-weight="normal" text-anchor="middle" fill="#262626">Lower Leg</text>
<text transform="translate(528.9 165.39999999999998) rotate(-90) scale(1.0953 1)" font-size="11" font-weight="normal" text-anchor="middle" fill="#262626">Orientation [deg]</text>
<text transform="translate(104.1 14.4) scale(1.0567 1)" font-size="12.6" font-weight="normal" text-anchor="start" fill="#262626">GRF</text>
<text transform="translate(130.0 17.6) scale(1.0667 1)" font-size="9" font-weight="normal" text-anchor="start" fill="#262626">y</text>
<text transform="translate(105.0 66.7) scale(1.0200 1)" font-size="12.6" font-weight="normal" text-anchor="start" fill="#262626">GRF</text>
<text transform="translate(130.0 70.7) scale(1.1778 1)" font-size="9" font-weight="normal" text-anchor="start" fill="#262626">x</text>
<text transform="translate(259.0 27.6) scale(1.0455 1)" font-size="12.6" font-weight="normal" text-anchor="start" fill="#262626">CoP</text>
<text transform="translate(424.0 10.6) scale(0.9048 1)" font-size="12.6" font-weight="normal" text-anchor="start" fill="#262626">y</text>
<text transform="translate(430.8 14.0) scale(1.2588 1)" font-size="8.5" font-weight="normal" text-anchor="start" fill="#262626">knee</text>
<text transform="translate(423.0 55.7) scale(0.9048 1)" font-size="12.6" font-weight="normal" text-anchor="start" fill="#262626">x</text>
<text transform="translate(430.0 58.8) scale(1.2090 1)" font-size="8.5" font-weight="normal" text-anchor="start" fill="#262626">knee</text>
<text transform="translate(593.3 40.7) scale(0.9443 1)" font-size="12.6" font-weight="normal" text-anchor="start" fill="#262626">θ</text>
<text transform="translate(599.7 44.0) scale(1.2757 1)" font-size="8.5" font-weight="normal" text-anchor="start" fill="#262626">shank</text>
<text transform="translate(104.9 126.4) scale(1.0077 1)" font-size="12.6" font-weight="normal" text-anchor="start" fill="#262626">GRF</text>
<text transform="translate(129.6 129.6) scale(1.0667 1)" font-size="9" font-weight="normal" text-anchor="start" fill="#262626">y</text>
<text transform="translate(105.3 178.5) scale(1.0281 1)" font-size="12.6" font-weight="normal" text-anchor="start" fill="#262626">GRF</text>
<text transform="translate(130.8 182.5) scale(1.1111 1)" font-size="9" font-weight="normal" text-anchor="start" fill="#262626">x</text>
<text transform="translate(259.0 139.8) scale(1.0271 1)" font-size="12.6" font-weight="normal" text-anchor="start" fill="#262626">CoP</text>
<text transform="translate(422.3 122.8) scale(0.8571 1)" font-size="12.6" font-weight="normal" text-anchor="start" fill="#262626">y</text>
<text transform="translate(429.0 126.4) scale(1.2464 1)" font-size="8.5" font-weight="normal" text-anchor="start" fill="#262626">knee</text>
<text transform="translate(422.7 168.7) scale(0.9048 1)" font-size="12.6" font-weight="normal" text-anchor="start" fill="#262626">x</text>
<text transform="translate(429.4 172.0) scale(1.2028 1)" font-size="8.5" font-weight="normal" text-anchor="start" fill="#262626">knee</text>
<text transform="translate(593.7 154.7) scale(0.9443 1)" font-size="12.6" font-weight="normal" text-anchor="start" fill="#262626">θ</text>
<text transform="translate(600.0 158.7) scale(1.2606 1)" font-size="8.5" font-weight="normal" text-anchor="start" fill="#262626">shank</text>
<text transform="translate(110.7 234.8) scale(1.0153 1)" font-size="11.8" font-weight="normal" text-anchor="middle" fill="#262626">Percent Stance Phase</text>
<text transform="translate(284.5 234.8) scale(1.0153 1)" font-size="11.8" font-weight="normal" text-anchor="middle" fill="#262626">Percent Stance Phase</text>
<text transform="translate(445.85 234.8) scale(1.0153 1)" font-size="11.8" font-weight="normal" text-anchor="middle" fill="#262626">Percent Stance Phase</text>
<text transform="translate(613.15 234.8) scale(1.0153 1)" font-size="11.8" font-weight="normal" text-anchor="middle" fill="#262626">Percent Stance Phase</text>
<text transform="translate(152 258.6) scale(1.0208 1)" font-size="12" font-weight="normal" text-anchor="start" fill="#262626">Able-bodied data</text>
<text transform="translate(280 258.6) scale(0.9838 1)" font-size="12" font-weight="normal" text-anchor="start" fill="#262626">Daily-use Foot</text>
<text transform="translate(396.8 258.6) scale(1.0103 1)" font-size="12" font-weight="normal" text-anchor="start" fill="#262626">Horizon LT Foot</text>
<text transform="translate(523.9 258.6) scale(1.0183 1)" font-size="12" font-weight="normal" text-anchor="start" fill="#262626">LLTE Foot</text>
<rect x="122.2" y="250.2" width="23.8" height="10.3" fill="#d8d8d8"/>
<path d="M122.2,255 L146,255" stroke="#b2b2b2" stroke-width="1.8" stroke-dasharray="4.8,5"/>
<path d="M257.8,255 L273.6,255" stroke="#888" stroke-width="1.8"/>
<path d="M375,255 L390.2,255" stroke="#111" stroke-width="1.8"/>
<path d="M499.8,255 L515,255" stroke="#ec1c24" stroke-width="1.8"/>
</svg></body></html>
